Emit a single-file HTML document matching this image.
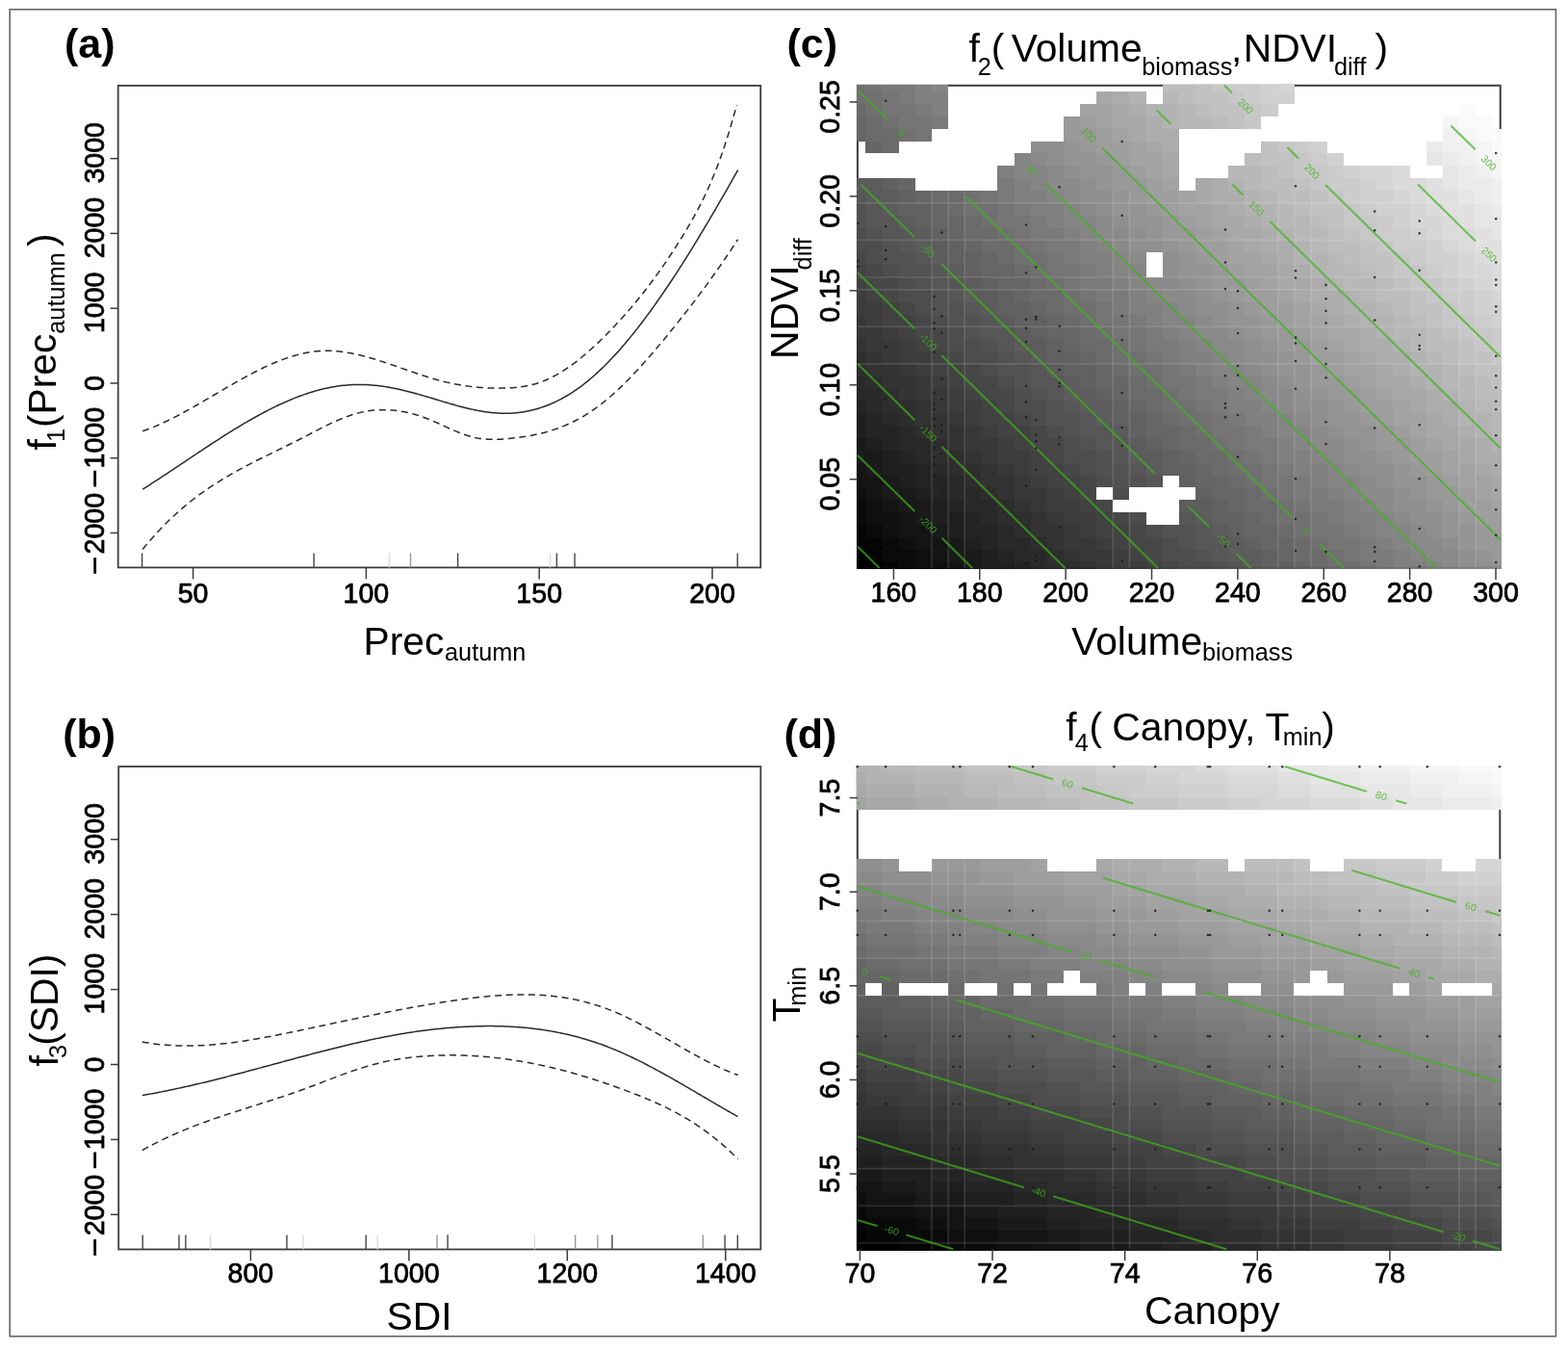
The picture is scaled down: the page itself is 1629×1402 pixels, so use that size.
<!DOCTYPE html><html><head><meta charset="utf-8"><title>GAM partial effects</title><style>html,body{margin:0;padding:0;background:#fff;overflow:hidden}svg{display:block}text{font-family:"Liberation Sans", Arial, Helvetica, sans-serif;fill:#000}.tk{stroke:#000;stroke-width:0.75px}</style></head><body>
<svg width="1629" height="1402" viewBox="0 0 1629 1402">
<rect width="1629" height="1402" fill="#fff"/>
<rect x="10.2" y="9.8" width="1606.2" height="1378" fill="none" stroke="#666" stroke-width="1.6"/>
<rect x="122.7" y="88.9" width="667.5" height="500.5" fill="none" stroke="#3c3c3c" stroke-width="1.8"/>
<line x1="114.5" y1="553.47" x2="122.7" y2="553.47" stroke="#3c3c3c" stroke-width="1.5"/>
<text transform="translate(108,543.67) rotate(-90)" text-anchor="middle" class="tk" font-size="28.6">2000</text>
<text transform="translate(108,587.17) rotate(-90) scale(1.15,1)" text-anchor="middle" class="tk" font-size="28.6">−</text>
<line x1="114.5" y1="475.71" x2="122.7" y2="475.71" stroke="#3c3c3c" stroke-width="1.5"/>
<text transform="translate(108,454.71) rotate(-90)" text-anchor="middle" class="tk" font-size="28.6">1000</text>
<text transform="translate(108,497.01) rotate(-90) scale(1.15,1)" text-anchor="middle" class="tk" font-size="28.6">−</text>
<line x1="114.5" y1="397.95" x2="122.7" y2="397.95" stroke="#3c3c3c" stroke-width="1.5"/>
<text transform="translate(108,397.95) rotate(-90)" text-anchor="middle" class="tk" font-size="28.6">0</text>
<line x1="114.5" y1="320.19" x2="122.7" y2="320.19" stroke="#3c3c3c" stroke-width="1.5"/>
<text transform="translate(108,314.29) rotate(-90)" text-anchor="middle" class="tk" font-size="28.6">1000</text>
<line x1="114.5" y1="242.43" x2="122.7" y2="242.43" stroke="#3c3c3c" stroke-width="1.5"/>
<text transform="translate(108,236.53) rotate(-90)" text-anchor="middle" class="tk" font-size="28.6">2000</text>
<line x1="114.5" y1="164.67" x2="122.7" y2="164.67" stroke="#3c3c3c" stroke-width="1.5"/>
<text transform="translate(108,158.77) rotate(-90)" text-anchor="middle" class="tk" font-size="28.6">3000</text>
<line x1="200.6" y1="589.4" x2="200.6" y2="601.4" stroke="#3c3c3c" stroke-width="1.5"/>
<text x="200.6" y="625.7" text-anchor="middle" class="tk" font-size="28.6">50</text>
<line x1="380.4" y1="589.4" x2="380.4" y2="601.4" stroke="#3c3c3c" stroke-width="1.5"/>
<text x="380.4" y="625.7" text-anchor="middle" class="tk" font-size="28.6">100</text>
<line x1="560.2" y1="589.4" x2="560.2" y2="601.4" stroke="#3c3c3c" stroke-width="1.5"/>
<text x="560.2" y="625.7" text-anchor="middle" class="tk" font-size="28.6">150</text>
<line x1="740" y1="589.4" x2="740" y2="601.4" stroke="#3c3c3c" stroke-width="1.5"/>
<text x="740" y="625.7" text-anchor="middle" class="tk" font-size="28.6">200</text>
<line x1="147.6" y1="589.4" x2="147.6" y2="574.4" stroke="#444" stroke-width="1.4"/>
<line x1="326.1" y1="589.4" x2="326.1" y2="574.4" stroke="#444" stroke-width="1.4"/>
<line x1="404.4" y1="589.4" x2="404.4" y2="574.4" stroke="#dcdcdc" stroke-width="1.4"/>
<line x1="426.5" y1="589.4" x2="426.5" y2="574.4" stroke="#9a9a9a" stroke-width="1.4"/>
<line x1="475.6" y1="589.4" x2="475.6" y2="574.4" stroke="#444" stroke-width="1.4"/>
<line x1="571.6" y1="589.4" x2="571.6" y2="574.4" stroke="#dcdcdc" stroke-width="1.4"/>
<line x1="578.4" y1="589.4" x2="578.4" y2="574.4" stroke="#444" stroke-width="1.4"/>
<line x1="597.1" y1="589.4" x2="597.1" y2="574.4" stroke="#444" stroke-width="1.4"/>
<line x1="766.2" y1="589.4" x2="766.2" y2="574.4" stroke="#444" stroke-width="1.4"/>
<path d="M148.2,508.09 L150.2,506.83 L152.2,505.56 L154.2,504.29 L156.21,503.01 L158.21,501.72 L160.21,500.43 L162.21,499.13 L164.21,497.83 L166.21,496.52 L168.21,495.21 L170.21,493.9 L172.22,492.58 L174.22,491.26 L176.22,489.93 L178.22,488.61 L180.22,487.28 L182.22,485.94 L184.22,484.61 L186.22,483.27 L188.23,481.94 L190.23,480.6 L192.23,479.26 L194.23,477.93 L196.23,476.59 L198.23,475.25 L200.23,473.92 L202.23,472.59 L204.24,471.25 L206.24,469.92 L208.24,468.6 L210.24,467.27 L212.24,465.95 L214.24,464.63 L216.24,463.31 L218.25,462 L220.25,460.7 L222.25,459.39 L224.25,458.1 L226.25,456.81 L228.25,455.52 L230.25,454.24 L232.25,452.97 L234.26,451.7 L236.26,450.44 L238.26,449.19 L240.26,447.94 L242.26,446.71 L244.26,445.48 L246.26,444.26 L248.26,443.05 L250.27,441.85 L252.27,440.65 L254.27,439.47 L256.27,438.3 L258.27,437.14 L260.27,435.99 L262.27,434.85 L264.28,433.73 L266.28,432.61 L268.28,431.51 L270.28,430.42 L272.28,429.34 L274.28,428.28 L276.28,427.23 L278.28,426.2 L280.29,425.18 L282.29,424.17 L284.29,423.18 L286.29,422.2 L288.29,421.24 L290.29,420.3 L292.29,419.37 L294.29,418.46 L296.3,417.57 L298.3,416.69 L300.3,415.83 L302.3,414.99 L304.3,414.17 L306.3,413.37 L308.3,412.58 L310.3,411.82 L312.31,411.07 L314.31,410.35 L316.31,409.64 L318.31,408.96 L320.31,408.3 L322.31,407.66 L324.31,407.04 L326.32,406.44 L328.32,405.86 L330.32,405.31 L332.32,404.78 L334.32,404.28 L336.32,403.79 L338.32,403.34 L340.32,402.9 L342.33,402.49 L344.33,402.11 L346.33,401.75 L348.33,401.42 L350.33,401.11 L352.33,400.83 L354.33,400.58 L356.33,400.35 L358.34,400.15 L360.34,399.98 L362.34,399.83 L364.34,399.71 L366.34,399.61 L368.34,399.54 L370.34,399.49 L372.34,399.47 L374.35,399.47 L376.35,399.5 L378.35,399.55 L380.35,399.62 L382.35,399.72 L384.35,399.84 L386.35,399.99 L388.36,400.15 L390.36,400.34 L392.36,400.55 L394.36,400.79 L396.36,401.04 L398.36,401.32 L400.36,401.62 L402.36,401.94 L404.37,402.28 L406.37,402.64 L408.37,403.02 L410.37,403.42 L412.37,403.83 L414.37,404.27 L416.37,404.72 L418.37,405.18 L420.38,405.66 L422.38,406.16 L424.38,406.66 L426.38,407.18 L428.38,407.72 L430.38,408.26 L432.38,408.81 L434.39,409.37 L436.39,409.94 L438.39,410.52 L440.39,411.1 L442.39,411.69 L444.39,412.28 L446.39,412.88 L448.39,413.48 L450.4,414.09 L452.4,414.69 L454.4,415.29 L456.4,415.9 L458.4,416.5 L460.4,417.1 L462.4,417.7 L464.4,418.29 L466.41,418.87 L468.41,419.45 L470.41,420.03 L472.41,420.59 L474.41,421.15 L476.41,421.69 L478.41,422.22 L480.41,422.75 L482.42,423.25 L484.42,423.75 L486.42,424.23 L488.42,424.69 L490.42,425.14 L492.42,425.57 L494.42,425.98 L496.43,426.37 L498.43,426.74 L500.43,427.09 L502.43,427.42 L504.43,427.73 L506.43,428.01 L508.43,428.26 L510.43,428.49 L512.44,428.69 L514.44,428.86 L516.44,429.01 L518.44,429.12 L520.44,429.21 L522.44,429.26 L524.44,429.28 L526.44,429.26 L528.45,429.22 L530.45,429.14 L532.45,429.03 L534.45,428.88 L536.45,428.7 L538.45,428.49 L540.45,428.24 L542.46,427.96 L544.46,427.64 L546.46,427.28 L548.46,426.89 L550.46,426.47 L552.46,426.01 L554.46,425.51 L556.46,424.98 L558.47,424.41 L560.47,423.8 L562.47,423.16 L564.47,422.47 L566.47,421.75 L568.47,421 L570.47,420.2 L572.47,419.36 L574.48,418.49 L576.48,417.58 L578.48,416.62 L580.48,415.63 L582.48,414.6 L584.48,413.53 L586.48,412.41 L588.48,411.26 L590.49,410.06 L592.49,408.83 L594.49,407.55 L596.49,406.23 L598.49,404.87 L600.49,403.46 L602.49,402.02 L604.5,400.53 L606.5,399 L608.5,397.42 L610.5,395.81 L612.5,394.15 L614.5,392.45 L616.5,390.72 L618.5,388.94 L620.51,387.12 L622.51,385.27 L624.51,383.37 L626.51,381.44 L628.51,379.47 L630.51,377.46 L632.51,375.42 L634.51,373.33 L636.52,371.22 L638.52,369.06 L640.52,366.88 L642.52,364.65 L644.52,362.4 L646.52,360.1 L648.52,357.78 L650.52,355.42 L652.53,353.03 L654.53,350.61 L656.53,348.15 L658.53,345.67 L660.53,343.15 L662.53,340.6 L664.53,338.02 L666.54,335.42 L668.54,332.78 L670.54,330.11 L672.54,327.42 L674.54,324.7 L676.54,321.95 L678.54,319.17 L680.54,316.37 L682.55,313.54 L684.55,310.68 L686.55,307.8 L688.55,304.9 L690.55,301.97 L692.55,299.01 L694.55,296.03 L696.55,293.03 L698.56,290.01 L700.56,286.96 L702.56,283.89 L704.56,280.8 L706.56,277.69 L708.56,274.56 L710.56,271.4 L712.57,268.23 L714.57,265.04 L716.57,261.83 L718.57,258.6 L720.57,255.35 L722.57,252.09 L724.57,248.8 L726.57,245.5 L728.58,242.19 L730.58,238.85 L732.58,235.5 L734.58,232.14 L736.58,228.76 L738.58,225.37 L740.58,221.96 L742.58,218.54 L744.59,215.11 L746.59,211.67 L748.59,208.21 L750.59,204.74 L752.59,201.26 L754.59,197.76 L756.59,194.26 L758.59,190.75 L760.6,187.23 L762.6,183.69 L764.6,180.15 L766.6,176.6" fill="none" stroke="#2a2a2a" stroke-width="1.5" stroke-linejoin="round"/>
<path d="M148.2,447.71 L150.2,447.02 L152.21,446.29 L154.21,445.55 L156.21,444.77 L158.22,443.98 L160.22,443.16 L162.22,442.32 L164.23,441.45 L166.23,440.57 L168.24,439.67 L170.24,438.74 L172.24,437.8 L174.25,436.84 L176.25,435.87 L178.25,434.87 L180.26,433.86 L182.26,432.84 L184.26,431.8 L186.27,430.75 L188.27,429.68 L190.27,428.6 L192.28,427.51 L194.28,426.41 L196.29,425.3 L198.29,424.18 L200.29,423.05 L202.3,421.91 L204.3,420.77 L206.3,419.62 L208.31,418.46 L210.31,417.3 L212.31,416.13 L214.32,414.96 L216.32,413.78 L218.32,412.61 L220.33,411.43 L222.33,410.25 L224.34,409.07 L226.34,407.89 L228.34,406.71 L230.35,405.54 L232.35,404.36 L234.35,403.19 L236.36,402.02 L238.36,400.86 L240.36,399.71 L242.37,398.56 L244.37,397.41 L246.37,396.27 L248.38,395.15 L250.38,394.03 L252.39,392.92 L254.39,391.82 L256.39,390.73 L258.4,389.65 L260.4,388.59 L262.4,387.54 L264.41,386.5 L266.41,385.48 L268.41,384.47 L270.42,383.48 L272.42,382.5 L274.42,381.55 L276.43,380.61 L278.43,379.69 L280.44,378.78 L282.44,377.9 L284.44,377.04 L286.45,376.2 L288.45,375.39 L290.45,374.6 L292.46,373.83 L294.46,373.08 L296.46,372.36 L298.47,371.67 L300.47,371 L302.47,370.36 L304.48,369.75 L306.48,369.17 L308.49,368.61 L310.49,368.09 L312.49,367.6 L314.5,367.14 L316.5,366.71 L318.5,366.31 L320.51,365.95 L322.51,365.62 L324.51,365.33 L326.52,365.07 L328.52,364.85 L330.52,364.67 L332.53,364.52 L334.53,364.41 L336.54,364.34 L338.54,364.31 L340.54,364.32 L342.55,364.35 L344.55,364.43 L346.55,364.53 L348.56,364.67 L350.56,364.84 L352.56,365.04 L354.57,365.27 L356.57,365.53 L358.57,365.82 L360.58,366.13 L362.58,366.47 L364.59,366.83 L366.59,367.22 L368.59,367.63 L370.6,368.07 L372.6,368.53 L374.6,369 L376.61,369.5 L378.61,370.01 L380.61,370.55 L382.62,371.1 L384.62,371.66 L386.62,372.24 L388.63,372.84 L390.63,373.45 L392.64,374.07 L394.64,374.7 L396.64,375.35 L398.65,376 L400.65,376.66 L402.65,377.33 L404.66,378.01 L406.66,378.7 L408.66,379.38 L410.67,380.08 L412.67,380.77 L414.67,381.47 L416.68,382.17 L418.68,382.88 L420.69,383.58 L422.69,384.28 L424.69,384.98 L426.7,385.67 L428.7,386.36 L430.7,387.05 L432.71,387.73 L434.71,388.41 L436.71,389.07 L438.72,389.73 L440.72,390.38 L442.72,391.02 L444.73,391.65 L446.73,392.27 L448.74,392.87 L450.74,393.46 L452.74,394.04 L454.75,394.6 L456.75,395.15 L458.75,395.67 L460.76,396.18 L462.76,396.67 L464.76,397.14 L466.77,397.59 L468.77,398.03 L470.77,398.44 L472.78,398.84 L474.78,399.22 L476.79,399.58 L478.79,399.92 L480.79,400.25 L482.8,400.56 L484.8,400.85 L486.8,401.12 L488.81,401.37 L490.81,401.61 L492.81,401.83 L494.82,402.03 L496.82,402.21 L498.82,402.38 L500.83,402.53 L502.83,402.67 L504.84,402.78 L506.84,402.88 L508.84,402.97 L510.85,403.03 L512.85,403.09 L514.85,403.12 L516.86,403.14 L518.86,403.14 L520.86,403.12 L522.87,403.09 L524.87,403.05 L526.87,402.98 L528.88,402.89 L530.88,402.78 L532.89,402.64 L534.89,402.48 L536.89,402.29 L538.9,402.07 L540.9,401.82 L542.9,401.53 L544.91,401.21 L546.91,400.85 L548.91,400.45 L550.92,400.01 L552.92,399.53 L554.92,399 L556.93,398.43 L558.93,397.81 L560.94,397.14 L562.94,396.42 L564.94,395.64 L566.95,394.81 L568.95,393.94 L570.95,393.01 L572.96,392.03 L574.96,391.01 L576.96,389.94 L578.97,388.82 L580.97,387.65 L582.97,386.45 L584.98,385.19 L586.98,383.9 L588.99,382.56 L590.99,381.19 L592.99,379.77 L595,378.31 L597,376.81 L599,375.28 L601.01,373.71 L603.01,372.1 L605.01,370.46 L607.02,368.78 L609.02,367.08 L611.02,365.33 L613.03,363.56 L615.03,361.76 L617.04,359.92 L619.04,358.06 L621.04,356.17 L623.05,354.25 L625.05,352.31 L627.05,350.34 L629.06,348.34 L631.06,346.32 L633.06,344.28 L635.07,342.21 L637.07,340.12 L639.07,338 L641.08,335.86 L643.08,333.7 L645.09,331.5 L647.09,329.28 L649.09,327.03 L651.1,324.76 L653.1,322.46 L655.1,320.13 L657.11,317.77 L659.11,315.38 L661.11,312.96 L663.12,310.52 L665.12,308.04 L667.12,305.53 L669.13,302.99 L671.13,300.42 L673.14,297.82 L675.14,295.19 L677.14,292.52 L679.15,289.82 L681.15,287.09 L683.15,284.32 L685.16,281.52 L687.16,278.68 L689.16,275.81 L691.17,272.91 L693.17,269.96 L695.17,266.99 L697.18,263.97 L699.18,260.92 L701.19,257.83 L703.19,254.7 L705.19,251.54 L707.2,248.34 L709.2,245.09 L711.2,241.81 L713.21,238.49 L715.21,235.11 L717.21,231.68 L719.22,228.19 L721.22,224.61 L723.22,220.96 L725.23,217.21 L727.23,213.35 L729.24,209.39 L731.24,205.31 L733.24,201.1 L735.25,196.75 L737.25,192.26 L739.25,187.61 L741.26,182.8 L743.26,177.81 L745.26,172.64 L747.27,167.29 L749.27,161.73 L751.27,155.97 L753.28,149.99 L755.28,143.79 L757.29,137.35 L759.29,130.67 L761.29,123.74 L763.3,116.54 L765.3,109.08" fill="none" stroke="#2a2a2a" stroke-width="1.5" stroke-dasharray="7,4.6" stroke-linejoin="round"/>
<path d="M148.2,570.49 L150.2,568.04 L152.2,565.63 L154.2,563.26 L156.21,560.94 L158.21,558.65 L160.21,556.41 L162.21,554.2 L164.21,552.04 L166.21,549.91 L168.21,547.82 L170.21,545.77 L172.22,543.75 L174.22,541.77 L176.22,539.83 L178.22,537.91 L180.22,536.04 L182.22,534.19 L184.22,532.38 L186.22,530.6 L188.23,528.86 L190.23,527.14 L192.23,525.45 L194.23,523.79 L196.23,522.17 L198.23,520.57 L200.23,518.99 L202.23,517.45 L204.24,515.93 L206.24,514.43 L208.24,512.97 L210.24,511.52 L212.24,510.1 L214.24,508.71 L216.24,507.33 L218.25,505.98 L220.25,504.65 L222.25,503.34 L224.25,502.05 L226.25,500.78 L228.25,499.53 L230.25,498.29 L232.25,497.08 L234.26,495.88 L236.26,494.7 L238.26,493.53 L240.26,492.38 L242.26,491.24 L244.26,490.12 L246.26,489.01 L248.26,487.91 L250.27,486.83 L252.27,485.76 L254.27,484.69 L256.27,483.64 L258.27,482.6 L260.27,481.56 L262.27,480.54 L264.28,479.52 L266.28,478.51 L268.28,477.5 L270.28,476.5 L272.28,475.51 L274.28,474.52 L276.28,473.53 L278.28,472.55 L280.29,471.57 L282.29,470.59 L284.29,469.61 L286.29,468.64 L288.29,467.66 L290.29,466.68 L292.29,465.71 L294.29,464.73 L296.3,463.75 L298.3,462.76 L300.3,461.77 L302.3,460.78 L304.3,459.78 L306.3,458.78 L308.3,457.77 L310.3,456.75 L312.31,455.73 L314.31,454.7 L316.31,453.66 L318.31,452.62 L320.31,451.58 L322.31,450.53 L324.31,449.48 L326.32,448.44 L328.32,447.4 L330.32,446.36 L332.32,445.34 L334.32,444.32 L336.32,443.31 L338.32,442.31 L340.32,441.33 L342.33,440.36 L344.33,439.42 L346.33,438.48 L348.33,437.57 L350.33,436.69 L352.33,435.82 L354.33,434.98 L356.33,434.17 L358.34,433.39 L360.34,432.64 L362.34,431.92 L364.34,431.23 L366.34,430.58 L368.34,429.97 L370.34,429.4 L372.34,428.86 L374.35,428.37 L376.35,427.93 L378.35,427.52 L380.35,427.16 L382.35,426.83 L384.35,426.55 L386.35,426.31 L388.36,426.1 L390.36,425.94 L392.36,425.81 L394.36,425.72 L396.36,425.67 L398.36,425.65 L400.36,425.67 L402.36,425.73 L404.37,425.82 L406.37,425.94 L408.37,426.1 L410.37,426.3 L412.37,426.53 L414.37,426.79 L416.37,427.09 L418.37,427.43 L420.38,427.8 L422.38,428.21 L424.38,428.65 L426.38,429.13 L428.38,429.64 L430.38,430.19 L432.38,430.77 L434.39,431.39 L436.39,432.04 L438.39,432.73 L440.39,433.45 L442.39,434.2 L444.39,434.99 L446.39,435.81 L448.39,436.65 L450.4,437.5 L452.4,438.38 L454.4,439.27 L456.4,440.17 L458.4,441.08 L460.4,441.99 L462.4,442.9 L464.4,443.81 L466.41,444.71 L468.41,445.6 L470.41,446.48 L472.41,447.34 L474.41,448.17 L476.41,448.99 L478.41,449.78 L480.41,450.53 L482.42,451.25 L484.42,451.94 L486.42,452.58 L488.42,453.18 L490.42,453.73 L492.42,454.23 L494.42,454.67 L496.43,455.06 L498.43,455.39 L500.43,455.66 L502.43,455.89 L504.43,456.07 L506.43,456.21 L508.43,456.3 L510.43,456.36 L512.44,456.38 L514.44,456.36 L516.44,456.31 L518.44,456.23 L520.44,456.13 L522.44,456 L524.44,455.85 L526.44,455.68 L528.45,455.5 L530.45,455.3 L532.45,455.09 L534.45,454.87 L536.45,454.63 L538.45,454.37 L540.45,454.11 L542.46,453.82 L544.46,453.52 L546.46,453.2 L548.46,452.87 L550.46,452.51 L552.46,452.14 L554.46,451.74 L556.46,451.33 L558.47,450.89 L560.47,450.43 L562.47,449.95 L564.47,449.44 L566.47,448.91 L568.47,448.35 L570.47,447.77 L572.47,447.16 L574.48,446.52 L576.48,445.86 L578.48,445.17 L580.48,444.45 L582.48,443.69 L584.48,442.91 L586.48,442.1 L588.48,441.25 L590.49,440.37 L592.49,439.46 L594.49,438.51 L596.49,437.53 L598.49,436.51 L600.49,435.45 L602.49,434.36 L604.5,433.23 L606.5,432.07 L608.5,430.86 L610.5,429.61 L612.5,428.32 L614.5,427 L616.5,425.62 L618.5,424.21 L620.51,422.76 L622.51,421.26 L624.51,419.72 L626.51,418.15 L628.51,416.54 L630.51,414.88 L632.51,413.2 L634.51,411.47 L636.52,409.71 L638.52,407.92 L640.52,406.09 L642.52,404.22 L644.52,402.33 L646.52,400.4 L648.52,398.45 L650.52,396.46 L652.53,394.45 L654.53,392.4 L656.53,390.33 L658.53,388.23 L660.53,386.11 L662.53,383.96 L664.53,381.78 L666.54,379.59 L668.54,377.37 L670.54,375.12 L672.54,372.86 L674.54,370.57 L676.54,368.27 L678.54,365.95 L680.54,363.6 L682.55,361.25 L684.55,358.87 L686.55,356.48 L688.55,354.07 L690.55,351.65 L692.55,349.22 L694.55,346.77 L696.55,344.31 L698.56,341.84 L700.56,339.36 L702.56,336.87 L704.56,334.36 L706.56,331.84 L708.56,329.32 L710.56,326.77 L712.57,324.22 L714.57,321.65 L716.57,319.06 L718.57,316.47 L720.57,313.85 L722.57,311.22 L724.57,308.58 L726.57,305.92 L728.58,303.24 L730.58,300.55 L732.58,297.84 L734.58,295.11 L736.58,292.36 L738.58,289.6 L740.58,286.81 L742.58,284.01 L744.59,281.18 L746.59,278.34 L748.59,275.48 L750.59,272.59 L752.59,269.68 L754.59,266.76 L756.59,263.8 L758.59,260.83 L760.6,257.84 L762.6,254.82 L764.6,251.77 L766.6,248.71" fill="none" stroke="#2a2a2a" stroke-width="1.5" stroke-dasharray="7,4.6" stroke-linejoin="round"/>
<rect x="123.2" y="796.1" width="667.1" height="501.4" fill="none" stroke="#3c3c3c" stroke-width="1.8"/>
<line x1="115" y1="1261.35" x2="123.2" y2="1261.35" stroke="#3c3c3c" stroke-width="1.5"/>
<text transform="translate(108,1251.55) rotate(-90)" text-anchor="middle" class="tk" font-size="28.6">2000</text>
<text transform="translate(108,1295.05) rotate(-90) scale(1.15,1)" text-anchor="middle" class="tk" font-size="28.6">−</text>
<line x1="115" y1="1183.43" x2="123.2" y2="1183.43" stroke="#3c3c3c" stroke-width="1.5"/>
<text transform="translate(108,1162.43) rotate(-90)" text-anchor="middle" class="tk" font-size="28.6">1000</text>
<text transform="translate(108,1204.73) rotate(-90) scale(1.15,1)" text-anchor="middle" class="tk" font-size="28.6">−</text>
<line x1="115" y1="1105.51" x2="123.2" y2="1105.51" stroke="#3c3c3c" stroke-width="1.5"/>
<text transform="translate(108,1105.51) rotate(-90)" text-anchor="middle" class="tk" font-size="28.6">0</text>
<line x1="115" y1="1027.59" x2="123.2" y2="1027.59" stroke="#3c3c3c" stroke-width="1.5"/>
<text transform="translate(108,1021.69) rotate(-90)" text-anchor="middle" class="tk" font-size="28.6">1000</text>
<line x1="115" y1="949.67" x2="123.2" y2="949.67" stroke="#3c3c3c" stroke-width="1.5"/>
<text transform="translate(108,943.77) rotate(-90)" text-anchor="middle" class="tk" font-size="28.6">2000</text>
<line x1="115" y1="871.75" x2="123.2" y2="871.75" stroke="#3c3c3c" stroke-width="1.5"/>
<text transform="translate(108,865.85) rotate(-90)" text-anchor="middle" class="tk" font-size="28.6">3000</text>
<line x1="260.41" y1="1297.5" x2="260.41" y2="1309.5" stroke="#3c3c3c" stroke-width="1.5"/>
<text x="260.41" y="1332.4" text-anchor="middle" class="tk" font-size="28.6">800</text>
<line x1="424.87" y1="1297.5" x2="424.87" y2="1309.5" stroke="#3c3c3c" stroke-width="1.5"/>
<text x="424.87" y="1332.4" text-anchor="middle" class="tk" font-size="28.6">1000</text>
<line x1="589.33" y1="1297.5" x2="589.33" y2="1309.5" stroke="#3c3c3c" stroke-width="1.5"/>
<text x="589.33" y="1332.4" text-anchor="middle" class="tk" font-size="28.6">1200</text>
<line x1="753.79" y1="1297.5" x2="753.79" y2="1309.5" stroke="#3c3c3c" stroke-width="1.5"/>
<text x="753.79" y="1332.4" text-anchor="middle" class="tk" font-size="28.6">1400</text>
<line x1="148.2" y1="1297.5" x2="148.2" y2="1282.5" stroke="#444" stroke-width="1.4"/>
<line x1="186" y1="1297.5" x2="186" y2="1282.5" stroke="#444" stroke-width="1.4"/>
<line x1="192.9" y1="1297.5" x2="192.9" y2="1282.5" stroke="#444" stroke-width="1.4"/>
<line x1="218.6" y1="1297.5" x2="218.6" y2="1282.5" stroke="#dcdcdc" stroke-width="1.4"/>
<line x1="298" y1="1297.5" x2="298" y2="1282.5" stroke="#444" stroke-width="1.4"/>
<line x1="315" y1="1297.5" x2="315" y2="1282.5" stroke="#dcdcdc" stroke-width="1.4"/>
<line x1="380.2" y1="1297.5" x2="380.2" y2="1282.5" stroke="#444" stroke-width="1.4"/>
<line x1="392.2" y1="1297.5" x2="392.2" y2="1282.5" stroke="#dcdcdc" stroke-width="1.4"/>
<line x1="454" y1="1297.5" x2="454" y2="1282.5" stroke="#9a9a9a" stroke-width="1.4"/>
<line x1="465.1" y1="1297.5" x2="465.1" y2="1282.5" stroke="#444" stroke-width="1.4"/>
<line x1="555.4" y1="1297.5" x2="555.4" y2="1282.5" stroke="#dcdcdc" stroke-width="1.4"/>
<line x1="597.7" y1="1297.5" x2="597.7" y2="1282.5" stroke="#9a9a9a" stroke-width="1.4"/>
<line x1="620.9" y1="1297.5" x2="620.9" y2="1282.5" stroke="#9a9a9a" stroke-width="1.4"/>
<line x1="636" y1="1297.5" x2="636" y2="1282.5" stroke="#444" stroke-width="1.4"/>
<line x1="730.3" y1="1297.5" x2="730.3" y2="1282.5" stroke="#9a9a9a" stroke-width="1.4"/>
<line x1="753.1" y1="1297.5" x2="753.1" y2="1282.5" stroke="#444" stroke-width="1.4"/>
<line x1="766.3" y1="1297.5" x2="766.3" y2="1282.5" stroke="#444" stroke-width="1.4"/>
<path d="M147.8,1137.53 L149.8,1137.19 L151.81,1136.84 L153.81,1136.49 L155.81,1136.13 L157.81,1135.77 L159.82,1135.4 L161.82,1135.03 L163.82,1134.65 L165.82,1134.26 L167.83,1133.87 L169.83,1133.48 L171.83,1133.08 L173.83,1132.67 L175.84,1132.26 L177.84,1131.85 L179.84,1131.43 L181.84,1131 L183.85,1130.58 L185.85,1130.14 L187.85,1129.71 L189.85,1129.26 L191.86,1128.82 L193.86,1128.37 L195.86,1127.91 L197.86,1127.46 L199.87,1126.99 L201.87,1126.53 L203.87,1126.06 L205.88,1125.59 L207.88,1125.11 L209.88,1124.63 L211.88,1124.15 L213.89,1123.66 L215.89,1123.17 L217.89,1122.68 L219.89,1122.19 L221.9,1121.69 L223.9,1121.19 L225.9,1120.68 L227.9,1120.18 L229.91,1119.67 L231.91,1119.16 L233.91,1118.65 L235.91,1118.13 L237.92,1117.61 L239.92,1117.09 L241.92,1116.57 L243.92,1116.05 L245.93,1115.52 L247.93,1115 L249.93,1114.47 L251.93,1113.94 L253.94,1113.41 L255.94,1112.87 L257.94,1112.34 L259.94,1111.8 L261.95,1111.27 L263.95,1110.73 L265.95,1110.19 L267.96,1109.65 L269.96,1109.11 L271.96,1108.57 L273.96,1108.03 L275.97,1107.49 L277.97,1106.95 L279.97,1106.41 L281.97,1105.87 L283.98,1105.33 L285.98,1104.78 L287.98,1104.24 L289.98,1103.7 L291.99,1103.16 L293.99,1102.62 L295.99,1102.07 L297.99,1101.53 L300,1100.99 L302,1100.46 L304,1099.92 L306,1099.38 L308.01,1098.84 L310.01,1098.31 L312.01,1097.77 L314.01,1097.24 L316.02,1096.71 L318.02,1096.18 L320.02,1095.65 L322.03,1095.12 L324.03,1094.6 L326.03,1094.07 L328.03,1093.55 L330.04,1093.03 L332.04,1092.51 L334.04,1092 L336.04,1091.48 L338.05,1090.97 L340.05,1090.46 L342.05,1089.96 L344.05,1089.45 L346.06,1088.95 L348.06,1088.45 L350.06,1087.96 L352.06,1087.46 L354.07,1086.97 L356.07,1086.49 L358.07,1086 L360.07,1085.52 L362.08,1085.05 L364.08,1084.57 L366.08,1084.1 L368.08,1083.64 L370.09,1083.18 L372.09,1082.72 L374.09,1082.26 L376.1,1081.81 L378.1,1081.37 L380.1,1080.93 L382.1,1080.49 L384.11,1080.06 L386.11,1079.63 L388.11,1079.21 L390.11,1078.79 L392.12,1078.38 L394.12,1077.97 L396.12,1077.57 L398.12,1077.17 L400.13,1076.78 L402.13,1076.39 L404.13,1076.01 L406.13,1075.64 L408.14,1075.27 L410.14,1074.9 L412.14,1074.55 L414.14,1074.2 L416.15,1073.85 L418.15,1073.51 L420.15,1073.18 L422.15,1072.86 L424.16,1072.54 L426.16,1072.23 L428.16,1071.92 L430.17,1071.62 L432.17,1071.33 L434.17,1071.05 L436.17,1070.77 L438.18,1070.5 L440.18,1070.24 L442.18,1069.98 L444.18,1069.73 L446.19,1069.49 L448.19,1069.26 L450.19,1069.03 L452.19,1068.8 L454.2,1068.59 L456.2,1068.38 L458.2,1068.18 L460.2,1067.99 L462.21,1067.8 L464.21,1067.62 L466.21,1067.45 L468.21,1067.29 L470.22,1067.13 L472.22,1066.98 L474.22,1066.83 L476.22,1066.7 L478.23,1066.57 L480.23,1066.45 L482.23,1066.33 L484.23,1066.22 L486.24,1066.13 L488.24,1066.04 L490.24,1065.95 L492.25,1065.88 L494.25,1065.81 L496.25,1065.75 L498.25,1065.71 L500.26,1065.66 L502.26,1065.63 L504.26,1065.61 L506.26,1065.6 L508.27,1065.59 L510.27,1065.59 L512.27,1065.61 L514.27,1065.63 L516.28,1065.66 L518.28,1065.7 L520.28,1065.76 L522.28,1065.82 L524.29,1065.89 L526.29,1065.97 L528.29,1066.06 L530.29,1066.16 L532.3,1066.27 L534.3,1066.4 L536.3,1066.53 L538.3,1066.67 L540.31,1066.83 L542.31,1066.99 L544.31,1067.17 L546.32,1067.36 L548.32,1067.56 L550.32,1067.77 L552.32,1067.99 L554.33,1068.22 L556.33,1068.47 L558.33,1068.73 L560.33,1069 L562.34,1069.28 L564.34,1069.57 L566.34,1069.88 L568.34,1070.19 L570.35,1070.52 L572.35,1070.87 L574.35,1071.22 L576.35,1071.59 L578.36,1071.97 L580.36,1072.37 L582.36,1072.78 L584.36,1073.2 L586.37,1073.63 L588.37,1074.08 L590.37,1074.54 L592.37,1075.02 L594.38,1075.51 L596.38,1076.01 L598.38,1076.53 L600.39,1077.06 L602.39,1077.6 L604.39,1078.16 L606.39,1078.74 L608.4,1079.33 L610.4,1079.93 L612.4,1080.55 L614.4,1081.18 L616.41,1081.83 L618.41,1082.49 L620.41,1083.17 L622.41,1083.87 L624.42,1084.58 L626.42,1085.3 L628.42,1086.05 L630.42,1086.8 L632.43,1087.58 L634.43,1088.37 L636.43,1089.17 L638.43,1089.99 L640.44,1090.83 L642.44,1091.68 L644.44,1092.54 L646.44,1093.42 L648.45,1094.32 L650.45,1095.23 L652.45,1096.15 L654.46,1097.08 L656.46,1098.03 L658.46,1098.99 L660.46,1099.96 L662.47,1100.94 L664.47,1101.93 L666.47,1102.94 L668.47,1103.95 L670.48,1104.98 L672.48,1106.01 L674.48,1107.06 L676.48,1108.11 L678.49,1109.17 L680.49,1110.24 L682.49,1111.32 L684.49,1112.41 L686.5,1113.51 L688.5,1114.61 L690.5,1115.72 L692.5,1116.83 L694.51,1117.96 L696.51,1119.08 L698.51,1120.22 L700.51,1121.36 L702.52,1122.5 L704.52,1123.65 L706.52,1124.8 L708.52,1125.96 L710.53,1127.12 L712.53,1128.28 L714.53,1129.45 L716.54,1130.62 L718.54,1131.79 L720.54,1132.96 L722.54,1134.13 L724.55,1135.31 L726.55,1136.49 L728.55,1137.66 L730.55,1138.84 L732.56,1140.02 L734.56,1141.19 L736.56,1142.37 L738.56,1143.54 L740.57,1144.72 L742.57,1145.89 L744.57,1147.06 L746.57,1148.23 L748.58,1149.39 L750.58,1150.55 L752.58,1151.71 L754.58,1152.86 L756.59,1154.01 L758.59,1155.16 L760.59,1156.3 L762.59,1157.43 L764.6,1158.56 L766.6,1159.69" fill="none" stroke="#2a2a2a" stroke-width="1.5" stroke-linejoin="round"/>
<path d="M147.8,1082.1 L149.8,1082.45 L151.81,1082.79 L153.81,1083.11 L155.81,1083.41 L157.81,1083.69 L159.82,1083.96 L161.82,1084.21 L163.82,1084.44 L165.82,1084.66 L167.83,1084.86 L169.83,1085.04 L171.83,1085.21 L173.83,1085.36 L175.84,1085.5 L177.84,1085.62 L179.84,1085.72 L181.84,1085.81 L183.85,1085.89 L185.85,1085.95 L187.85,1086 L189.85,1086.03 L191.86,1086.05 L193.86,1086.06 L195.86,1086.05 L197.86,1086.03 L199.87,1086 L201.87,1085.95 L203.87,1085.89 L205.88,1085.82 L207.88,1085.74 L209.88,1085.64 L211.88,1085.53 L213.89,1085.41 L215.89,1085.28 L217.89,1085.14 L219.89,1084.99 L221.9,1084.83 L223.9,1084.66 L225.9,1084.47 L227.9,1084.28 L229.91,1084.08 L231.91,1083.87 L233.91,1083.64 L235.91,1083.41 L237.92,1083.17 L239.92,1082.93 L241.92,1082.67 L243.92,1082.4 L245.93,1082.13 L247.93,1081.85 L249.93,1081.56 L251.93,1081.26 L253.94,1080.96 L255.94,1080.65 L257.94,1080.33 L259.94,1080.01 L261.95,1079.68 L263.95,1079.34 L265.95,1079 L267.96,1078.65 L269.96,1078.3 L271.96,1077.94 L273.96,1077.58 L275.97,1077.21 L277.97,1076.84 L279.97,1076.46 L281.97,1076.08 L283.98,1075.69 L285.98,1075.3 L287.98,1074.91 L289.98,1074.51 L291.99,1074.11 L293.99,1073.71 L295.99,1073.3 L297.99,1072.89 L300,1072.48 L302,1072.07 L304,1071.66 L306,1071.24 L308.01,1070.82 L310.01,1070.4 L312.01,1069.98 L314.01,1069.56 L316.02,1069.14 L318.02,1068.72 L320.02,1068.3 L322.03,1067.87 L324.03,1067.45 L326.03,1067.02 L328.03,1066.6 L330.04,1066.17 L332.04,1065.75 L334.04,1065.32 L336.04,1064.9 L338.05,1064.47 L340.05,1064.05 L342.05,1063.62 L344.05,1063.2 L346.06,1062.77 L348.06,1062.35 L350.06,1061.92 L352.06,1061.5 L354.07,1061.07 L356.07,1060.65 L358.07,1060.23 L360.07,1059.8 L362.08,1059.38 L364.08,1058.96 L366.08,1058.54 L368.08,1058.12 L370.09,1057.7 L372.09,1057.28 L374.09,1056.87 L376.1,1056.45 L378.1,1056.04 L380.1,1055.62 L382.1,1055.21 L384.11,1054.8 L386.11,1054.39 L388.11,1053.98 L390.11,1053.58 L392.12,1053.17 L394.12,1052.77 L396.12,1052.37 L398.12,1051.97 L400.13,1051.57 L402.13,1051.17 L404.13,1050.78 L406.13,1050.39 L408.14,1050 L410.14,1049.61 L412.14,1049.22 L414.14,1048.84 L416.15,1048.46 L418.15,1048.08 L420.15,1047.7 L422.15,1047.33 L424.16,1046.96 L426.16,1046.59 L428.16,1046.22 L430.17,1045.86 L432.17,1045.5 L434.17,1045.14 L436.17,1044.78 L438.18,1044.43 L440.18,1044.08 L442.18,1043.74 L444.18,1043.39 L446.19,1043.05 L448.19,1042.72 L450.19,1042.38 L452.19,1042.05 L454.2,1041.73 L456.2,1041.4 L458.2,1041.08 L460.2,1040.77 L462.21,1040.45 L464.21,1040.15 L466.21,1039.84 L468.21,1039.54 L470.22,1039.24 L472.22,1038.95 L474.22,1038.66 L476.22,1038.38 L478.23,1038.1 L480.23,1037.82 L482.23,1037.55 L484.23,1037.28 L486.24,1037.02 L488.24,1036.77 L490.24,1036.52 L492.25,1036.28 L494.25,1036.04 L496.25,1035.81 L498.25,1035.59 L500.26,1035.38 L502.26,1035.17 L504.26,1034.97 L506.26,1034.77 L508.27,1034.59 L510.27,1034.41 L512.27,1034.24 L514.27,1034.08 L516.28,1033.93 L518.28,1033.79 L520.28,1033.66 L522.28,1033.54 L524.29,1033.42 L526.29,1033.32 L528.29,1033.23 L530.29,1033.15 L532.3,1033.08 L534.3,1033.02 L536.3,1032.97 L538.3,1032.93 L540.31,1032.9 L542.31,1032.89 L544.31,1032.89 L546.32,1032.9 L548.32,1032.92 L550.32,1032.96 L552.32,1033.01 L554.33,1033.07 L556.33,1033.15 L558.33,1033.23 L560.33,1033.34 L562.34,1033.46 L564.34,1033.59 L566.34,1033.74 L568.34,1033.9 L570.35,1034.08 L572.35,1034.27 L574.35,1034.48 L576.35,1034.7 L578.36,1034.94 L580.36,1035.2 L582.36,1035.47 L584.36,1035.76 L586.37,1036.07 L588.37,1036.39 L590.37,1036.74 L592.37,1037.1 L594.38,1037.47 L596.38,1037.87 L598.38,1038.28 L600.39,1038.72 L602.39,1039.17 L604.39,1039.64 L606.39,1040.13 L608.4,1040.64 L610.4,1041.17 L612.4,1041.72 L614.4,1042.29 L616.41,1042.88 L618.41,1043.49 L620.41,1044.12 L622.41,1044.77 L624.42,1045.45 L626.42,1046.14 L628.42,1046.86 L630.42,1047.6 L632.43,1048.36 L634.43,1049.15 L636.43,1049.96 L638.43,1050.79 L640.44,1051.64 L642.44,1052.51 L644.44,1053.4 L646.44,1054.31 L648.45,1055.23 L650.45,1056.18 L652.45,1057.14 L654.46,1058.12 L656.46,1059.11 L658.46,1060.11 L660.46,1061.14 L662.47,1062.17 L664.47,1063.22 L666.47,1064.27 L668.47,1065.34 L670.48,1066.42 L672.48,1067.51 L674.48,1068.61 L676.48,1069.72 L678.49,1070.83 L680.49,1071.95 L682.49,1073.08 L684.49,1074.21 L686.5,1075.35 L688.5,1076.49 L690.5,1077.63 L692.5,1078.78 L694.51,1079.93 L696.51,1081.08 L698.51,1082.23 L700.51,1083.38 L702.52,1084.52 L704.52,1085.67 L706.52,1086.82 L708.52,1087.96 L710.53,1089.1 L712.53,1090.23 L714.53,1091.36 L716.54,1092.48 L718.54,1093.6 L720.54,1094.71 L722.54,1095.81 L724.55,1096.9 L726.55,1097.98 L728.55,1099.05 L730.55,1100.12 L732.56,1101.17 L734.56,1102.2 L736.56,1103.23 L738.56,1104.24 L740.57,1105.24 L742.57,1106.22 L744.57,1107.18 L746.57,1108.13 L748.58,1109.07 L750.58,1109.98 L752.58,1110.88 L754.58,1111.75 L756.59,1112.61 L758.59,1113.44 L760.59,1114.26 L762.59,1115.05 L764.6,1115.82 L766.6,1116.57" fill="none" stroke="#2a2a2a" stroke-width="1.5" stroke-dasharray="7,4.6" stroke-linejoin="round"/>
<path d="M147.8,1194.53 L149.8,1193.41 L151.81,1192.31 L153.81,1191.23 L155.81,1190.16 L157.81,1189.11 L159.82,1188.08 L161.82,1187.06 L163.82,1186.05 L165.82,1185.06 L167.83,1184.09 L169.83,1183.12 L171.83,1182.18 L173.83,1181.24 L175.84,1180.32 L177.84,1179.41 L179.84,1178.52 L181.84,1177.64 L183.85,1176.76 L185.85,1175.9 L187.85,1175.06 L189.85,1174.22 L191.86,1173.39 L193.86,1172.58 L195.86,1171.77 L197.86,1170.98 L199.87,1170.19 L201.87,1169.42 L203.87,1168.65 L205.88,1167.89 L207.88,1167.14 L209.88,1166.4 L211.88,1165.66 L213.89,1164.94 L215.89,1164.22 L217.89,1163.51 L219.89,1162.8 L221.9,1162.1 L223.9,1161.41 L225.9,1160.72 L227.9,1160.04 L229.91,1159.36 L231.91,1158.69 L233.91,1158.03 L235.91,1157.36 L237.92,1156.7 L239.92,1156.05 L241.92,1155.4 L243.92,1154.75 L245.93,1154.1 L247.93,1153.46 L249.93,1152.82 L251.93,1152.18 L253.94,1151.54 L255.94,1150.91 L257.94,1150.27 L259.94,1149.64 L261.95,1149.01 L263.95,1148.37 L265.95,1147.74 L267.96,1147.1 L269.96,1146.47 L271.96,1145.83 L273.96,1145.2 L275.97,1144.56 L277.97,1143.92 L279.97,1143.27 L281.97,1142.63 L283.98,1141.98 L285.98,1141.33 L287.98,1140.67 L289.98,1140.01 L291.99,1139.35 L293.99,1138.68 L295.99,1138.01 L297.99,1137.34 L300,1136.66 L302,1135.97 L304,1135.28 L306,1134.58 L308.01,1133.87 L310.01,1133.16 L312.01,1132.44 L314.01,1131.71 L316.02,1130.98 L318.02,1130.24 L320.02,1129.5 L322.03,1128.75 L324.03,1127.99 L326.03,1127.24 L328.03,1126.48 L330.04,1125.71 L332.04,1124.95 L334.04,1124.18 L336.04,1123.42 L338.05,1122.65 L340.05,1121.89 L342.05,1121.13 L344.05,1120.37 L346.06,1119.61 L348.06,1118.85 L350.06,1118.1 L352.06,1117.36 L354.07,1116.62 L356.07,1115.88 L358.07,1115.16 L360.07,1114.44 L362.08,1113.73 L364.08,1113.02 L366.08,1112.33 L368.08,1111.64 L370.09,1110.97 L372.09,1110.31 L374.09,1109.66 L376.1,1109.02 L378.1,1108.39 L380.1,1107.78 L382.1,1107.18 L384.11,1106.6 L386.11,1106.03 L388.11,1105.48 L390.11,1104.95 L392.12,1104.43 L394.12,1103.94 L396.12,1103.46 L398.12,1103 L400.13,1102.55 L402.13,1102.13 L404.13,1101.72 L406.13,1101.33 L408.14,1100.95 L410.14,1100.59 L412.14,1100.25 L414.14,1099.92 L416.15,1099.61 L418.15,1099.31 L420.15,1099.03 L422.15,1098.76 L424.16,1098.5 L426.16,1098.26 L428.16,1098.03 L430.17,1097.82 L432.17,1097.61 L434.17,1097.42 L436.17,1097.24 L438.18,1097.08 L440.18,1096.92 L442.18,1096.77 L444.18,1096.64 L446.19,1096.51 L448.19,1096.4 L450.19,1096.3 L452.19,1096.21 L454.2,1096.13 L456.2,1096.05 L458.2,1095.99 L460.2,1095.94 L462.21,1095.91 L464.21,1095.88 L466.21,1095.86 L468.21,1095.85 L470.22,1095.85 L472.22,1095.86 L474.22,1095.89 L476.22,1095.92 L478.23,1095.96 L480.23,1096.01 L482.23,1096.08 L484.23,1096.15 L486.24,1096.23 L488.24,1096.32 L490.24,1096.43 L492.25,1096.54 L494.25,1096.66 L496.25,1096.79 L498.25,1096.93 L500.26,1097.08 L502.26,1097.24 L504.26,1097.41 L506.26,1097.59 L508.27,1097.78 L510.27,1097.98 L512.27,1098.19 L514.27,1098.41 L516.28,1098.63 L518.28,1098.87 L520.28,1099.11 L522.28,1099.37 L524.29,1099.63 L526.29,1099.9 L528.29,1100.18 L530.29,1100.47 L532.3,1100.77 L534.3,1101.08 L536.3,1101.39 L538.3,1101.72 L540.31,1102.05 L542.31,1102.4 L544.31,1102.75 L546.32,1103.11 L548.32,1103.48 L550.32,1103.85 L552.32,1104.24 L554.33,1104.63 L556.33,1105.04 L558.33,1105.45 L560.33,1105.86 L562.34,1106.29 L564.34,1106.73 L566.34,1107.17 L568.34,1107.62 L570.35,1108.08 L572.35,1108.55 L574.35,1109.03 L576.35,1109.51 L578.36,1110 L580.36,1110.5 L582.36,1111.01 L584.36,1111.53 L586.37,1112.05 L588.37,1112.58 L590.37,1113.12 L592.37,1113.67 L594.38,1114.22 L596.38,1114.78 L598.38,1115.35 L600.39,1115.93 L602.39,1116.51 L604.39,1117.1 L606.39,1117.7 L608.4,1118.31 L610.4,1118.92 L612.4,1119.54 L614.4,1120.17 L616.41,1120.8 L618.41,1121.44 L620.41,1122.09 L622.41,1122.74 L624.42,1123.41 L626.42,1124.08 L628.42,1124.75 L630.42,1125.43 L632.43,1126.12 L634.43,1126.82 L636.43,1127.52 L638.43,1128.23 L640.44,1128.95 L642.44,1129.67 L644.44,1130.4 L646.44,1131.14 L648.45,1131.88 L650.45,1132.63 L652.45,1133.38 L654.46,1134.14 L656.46,1134.91 L658.46,1135.68 L660.46,1136.46 L662.47,1137.25 L664.47,1138.05 L666.47,1138.86 L668.47,1139.67 L670.48,1140.5 L672.48,1141.34 L674.48,1142.19 L676.48,1143.05 L678.49,1143.92 L680.49,1144.81 L682.49,1145.71 L684.49,1146.62 L686.5,1147.55 L688.5,1148.49 L690.5,1149.45 L692.5,1150.43 L694.51,1151.43 L696.51,1152.44 L698.51,1153.47 L700.51,1154.52 L702.52,1155.59 L704.52,1156.68 L706.52,1157.79 L708.52,1158.92 L710.53,1160.07 L712.53,1161.25 L714.53,1162.45 L716.54,1163.67 L718.54,1164.92 L720.54,1166.19 L722.54,1167.49 L724.55,1168.82 L726.55,1170.17 L728.55,1171.54 L730.55,1172.95 L732.56,1174.38 L734.56,1175.85 L736.56,1177.34 L738.56,1178.86 L740.57,1180.42 L742.57,1182 L744.57,1183.62 L746.57,1185.27 L748.58,1186.95 L750.58,1188.67 L752.58,1190.42 L754.58,1192.21 L756.59,1194.03 L758.59,1195.88 L760.59,1197.78 L762.59,1199.71 L764.6,1201.68 L766.6,1203.68" fill="none" stroke="#2a2a2a" stroke-width="1.5" stroke-dasharray="7,4.6" stroke-linejoin="round"/>
<text x="67" y="59.8" font-weight="bold" font-size="43">(a)</text>
<text x="65.2" y="777" font-weight="bold" font-size="43">(b)</text>
<text x="817.5" y="59.8" font-weight="bold" font-size="43">(c)</text>
<text x="814.4" y="777.3" font-weight="bold" font-size="43">(d)</text>
<text x="377.5" y="680.2" font-size="40.8">Prec</text>
<text x="462" y="685.8" font-size="25.3">autumn</text>
<text x="401.5" y="1380.6" font-size="40.8">SDI</text>
<g transform="translate(58.2,467.5) rotate(-90)">
<text x="0" y="0" font-size="40.8">f</text>
<text x="8.6" y="8.5" font-size="25.3">1</text>
<text x="23.4" y="0" font-size="40.8">(Prec</text>
<text x="120.8" y="8.5" font-size="25.3">autumn</text>
<text x="211.5" y="0" font-size="40.8">)</text>
</g>
<g transform="translate(60.1,1107.5) rotate(-90)">
<text x="0" y="0" font-size="40.8">f</text>
<text x="8.4" y="8.5" font-size="25.3">3</text>
<text x="21.7" y="0" font-size="40.8">(SDI)</text>
</g>
<rect x="890.9" y="88.8" width="667.8" height="501.1" fill="none" stroke="#3c3c3c" stroke-width="2"/>
<path fill="rgb(0,0,0)" shape-rendering="crispEdges" d="M889.7 570.63H899.46V583.48H889.7zM889.7 583.48H916.58V591.1H889.7z"/>
<path fill="rgb(5,5,5)" shape-rendering="crispEdges" d="M889.7 544.93H899.46V557.78H889.7zM889.7 557.78H916.58V570.63H889.7zM899.46 570.63H916.58V583.48H899.46zM916.58 583.48H933.71V591.1H916.58z"/>
<path fill="rgb(10,10,10)" shape-rendering="crispEdges" d="M889.7 519.23H899.46V532.08H889.7zM889.7 532.08H899.46V544.93H889.7zM899.46 544.93H916.58V557.78H899.46zM916.58 557.78H933.71V570.63H916.58zM916.58 570.63H950.83V583.48H916.58zM933.71 583.48H950.83V591.1H933.71z"/>
<path fill="rgb(15,15,15)" shape-rendering="crispEdges" d="M889.7 506.38H899.46V519.23H889.7zM899.46 519.23H916.58V532.08H899.46zM899.46 532.08H933.71V544.93H899.46zM916.58 544.93H933.71V557.78H916.58zM933.71 557.78H950.83V570.63H933.71zM950.83 570.63H967.95V583.48H950.83zM950.83 583.48H985.08V591.1H950.83z"/>
<path fill="rgb(20,20,20)" shape-rendering="crispEdges" d="M889.7 480.69H899.46V493.53H889.7zM889.7 493.53H916.58V506.38H889.7zM899.46 506.38H916.58V519.23H899.46zM916.58 519.23H933.71V532.08H916.58zM933.71 532.08H950.83V544.93H933.71zM933.71 544.93H967.95V557.78H933.71zM950.83 557.78H985.08V570.63H950.83zM967.95 570.63H985.08V583.48H967.95zM985.08 583.48H1002.2V591.1H985.08z"/>
<path fill="rgb(26,26,26)" shape-rendering="crispEdges" d="M889.7 454.99H899.46V467.84H889.7zM889.7 467.84H916.58V480.69H889.7zM899.46 480.69H916.58V493.53H899.46zM916.58 493.53H933.71V506.38H916.58zM916.58 506.38H950.83V519.23H916.58zM933.71 519.23H967.95V532.08H933.71zM950.83 532.08H967.95V544.93H950.83zM967.95 544.93H985.08V557.78H967.95zM985.08 557.78H1002.2V570.63H985.08zM985.08 570.63H1019.32V583.48H985.08zM1002.2 583.48H1019.32V591.1H1002.2z"/>
<path fill="rgb(31,31,31)" shape-rendering="crispEdges" d="M889.7 429.29H899.46V442.14H889.7zM889.7 442.14H899.46V454.99H889.7zM899.46 454.99H916.58V467.84H899.46zM916.58 467.84H933.71V480.69H916.58zM916.58 480.69H950.83V493.53H916.58zM933.71 493.53H950.83V506.38H933.71zM950.83 506.38H967.95V519.23H950.83zM967.95 519.23H985.08V532.08H967.95zM967.95 532.08H1002.2V544.93H967.95zM985.08 544.93H1002.2V557.78H985.08zM1002.2 557.78H1019.32V570.63H1002.2zM1019.32 570.63H1036.45V583.48H1019.32zM1019.32 583.48H1053.57V591.1H1019.32z"/>
<path fill="rgb(36,36,36)" shape-rendering="crispEdges" d="M889.7 416.44H899.46V429.29H889.7zM899.46 429.29H916.58V442.14H899.46zM899.46 442.14H933.71V454.99H899.46zM916.58 454.99H933.71V467.84H916.58zM933.71 467.84H950.83V480.69H933.71zM950.83 480.69H967.95V493.53H950.83zM950.83 493.53H985.08V506.38H950.83zM967.95 506.38H985.08V519.23H967.95zM985.08 519.23H1002.2V532.08H985.08zM1002.2 532.08H1019.32V544.93H1002.2zM1002.2 544.93H1036.45V557.78H1002.2zM1019.32 557.78H1036.45V570.63H1019.32zM1036.45 570.63H1053.57V583.48H1036.45zM1053.57 583.48H1070.69V591.1H1053.57z"/>
<path fill="rgb(41,41,41)" shape-rendering="crispEdges" d="M889.7 390.74H899.46V403.59H889.7zM889.7 403.59H916.58V416.44H889.7zM899.46 416.44H916.58V429.29H899.46zM916.58 429.29H933.71V442.14H916.58zM933.71 442.14H950.83V454.99H933.71zM933.71 454.99H967.95V467.84H933.71zM950.83 467.84H967.95V480.69H950.83zM967.95 480.69H985.08V493.53H967.95zM985.08 493.53H1002.2V506.38H985.08zM985.08 506.38H1019.32V519.23H985.08zM1002.2 519.23H1036.45V532.08H1002.2zM1019.32 532.08H1036.45V544.93H1019.32zM1036.45 544.93H1053.57V557.78H1036.45zM1036.45 557.78H1070.69V570.63H1036.45zM1053.57 570.63H1087.82V583.48H1053.57zM1070.69 583.48H1087.82V591.1H1070.69z"/>
<path fill="rgb(46,46,46)" shape-rendering="crispEdges" d="M889.7 365.05H899.46V377.9H889.7zM889.7 377.9H899.46V390.74H889.7zM899.46 390.74H916.58V403.59H899.46zM916.58 403.59H933.71V416.44H916.58zM916.58 416.44H950.83V429.29H916.58zM933.71 429.29H950.83V442.14H933.71zM950.83 442.14H967.95V454.99H950.83zM967.95 454.99H985.08V467.84H967.95zM967.95 467.84H1002.2V480.69H967.95zM985.08 480.69H1019.32V493.53H985.08zM1002.2 493.53H1019.32V506.38H1002.2zM1019.32 506.38H1036.45V519.23H1019.32zM1036.45 519.23H1053.57V532.08H1036.45zM1036.45 532.08H1070.69V544.93H1036.45zM1053.57 544.93H1070.69V557.78H1053.57zM1070.69 557.78H1087.82V570.63H1070.69zM1087.82 570.63H1104.94V583.48H1087.82zM1087.82 583.48H1122.06V591.1H1087.82z"/>
<path fill="rgb(51,51,51)" shape-rendering="crispEdges" d="M889.7 352.2H899.46V365.05H889.7zM899.46 365.05H916.58V377.9H899.46zM899.46 377.9H933.71V390.74H899.46zM916.58 390.74H950.83V403.59H916.58zM933.71 403.59H950.83V416.44H933.71zM950.83 416.44H967.95V429.29H950.83zM950.83 429.29H985.08V442.14H950.83zM967.95 442.14H1002.2V454.99H967.95zM985.08 454.99H1002.2V467.84H985.08zM1002.2 467.84H1019.32V480.69H1002.2zM1019.32 480.69H1036.45V493.53H1019.32zM1019.32 493.53H1053.57V506.38H1019.32zM1036.45 506.38H1053.57V519.23H1036.45zM1053.57 519.23H1070.69V532.08H1053.57zM1070.69 532.08H1087.82V544.93H1070.69zM1070.69 544.93H1104.94V557.78H1070.69zM1087.82 557.78H1104.94V570.63H1087.82zM1104.94 570.63H1122.06V583.48H1104.94zM1122.06 583.48H1139.18V591.1H1122.06z"/>
<path fill="rgb(56,56,56)" shape-rendering="crispEdges" d="M889.7 326.5H899.46V339.35H889.7zM889.7 339.35H916.58V352.2H889.7zM899.46 352.2H933.71V365.05H899.46zM916.58 365.05H933.71V377.9H916.58zM933.71 377.9H950.83V390.74H933.71zM950.83 390.74H967.95V403.59H950.83zM950.83 403.59H985.08V416.44H950.83zM967.95 416.44H985.08V429.29H967.95zM985.08 429.29H1002.2V442.14H985.08zM1002.2 442.14H1019.32V454.99H1002.2zM1002.2 454.99H1036.45V467.84H1002.2zM1019.32 467.84H1036.45V480.69H1019.32zM1036.45 480.69H1053.57V493.53H1036.45zM1053.57 493.53H1070.69V506.38H1053.57zM1053.57 506.38H1087.82V519.23H1053.57zM1070.69 519.23H1087.82V532.08H1070.69zM1087.82 532.08H1104.94V544.93H1087.82zM1104.94 544.93H1122.06V557.78H1104.94zM1104.94 557.78H1139.18V570.63H1104.94zM1122.06 570.63H1156.31V583.48H1122.06zM1139.18 583.48H1156.31V591.1H1139.18z"/>
<path fill="rgb(61,61,61)" shape-rendering="crispEdges" d="M889.7 300.8H899.46V313.65H889.7zM889.7 313.65H916.58V326.5H889.7zM899.46 326.5H916.58V339.35H899.46zM916.58 339.35H933.71V352.2H916.58zM933.71 352.2H950.83V365.05H933.71zM933.71 365.05H967.95V377.9H933.71zM950.83 377.9H967.95V390.74H950.83zM967.95 390.74H985.08V403.59H967.95zM985.08 403.59H1002.2V416.44H985.08zM985.08 416.44H1019.32V429.29H985.08zM1002.2 429.29H1019.32V442.14H1002.2zM1019.32 442.14H1036.45V454.99H1019.32zM1036.45 454.99H1053.57V467.84H1036.45zM1036.45 467.84H1070.69V480.69H1036.45zM1053.57 480.69H1070.69V493.53H1053.57zM1070.69 493.53H1087.82V506.38H1070.69zM1087.82 506.38H1104.94V519.23H1087.82zM1087.82 519.23H1122.06V532.08H1087.82zM1104.94 532.08H1139.18V544.93H1104.94zM1122.06 544.93H1139.18V557.78H1122.06zM1139.18 557.78H1156.31V570.63H1139.18zM1156.31 570.63H1173.43V583.48H1156.31zM1156.31 583.48H1190.55V591.1H1156.31z"/>
<path fill="rgb(66,66,66)" shape-rendering="crispEdges" d="M889.7 275.11H899.46V287.96H889.7zM889.7 287.96H899.46V300.8H889.7zM899.46 300.8H916.58V313.65H899.46zM916.58 313.65H933.71V326.5H916.58zM916.58 326.5H950.83V339.35H916.58zM933.71 339.35H950.83V352.2H933.71zM950.83 352.2H967.95V365.05H950.83zM967.95 365.05H985.08V377.9H967.95zM967.95 377.9H1002.2V390.74H967.95zM985.08 390.74H1002.2V403.59H985.08zM1002.2 403.59H1019.32V416.44H1002.2zM1019.32 416.44H1036.45V429.29H1019.32zM1019.32 429.29H1053.57V442.14H1019.32zM1036.45 442.14H1070.69V454.99H1036.45zM1053.57 454.99H1070.69V467.84H1053.57zM1070.69 467.84H1087.82V480.69H1070.69zM1070.69 480.69H1104.94V493.53H1070.69zM1087.82 493.53H1122.06V506.38H1087.82zM1104.94 506.38H1122.06V519.23H1104.94zM1122.06 519.23H1139.18V532.08H1122.06zM1139.18 532.08H1156.31V544.93H1139.18zM1139.18 544.93H1173.43V557.78H1139.18zM1156.31 557.78H1173.43V570.63H1156.31zM1173.43 570.63H1190.55V583.48H1173.43zM1190.55 583.48H1207.68V591.1H1190.55z"/>
<path fill="rgb(71,71,71)" shape-rendering="crispEdges" d="M889.7 262.26H899.46V275.11H889.7zM899.46 275.11H916.58V287.96H899.46zM899.46 287.96H933.71V300.8H899.46zM916.58 300.8H933.71V313.65H916.58zM933.71 313.65H950.83V326.5H933.71zM950.83 326.5H967.95V339.35H950.83zM950.83 339.35H985.08V352.2H950.83zM967.95 352.2H985.08V365.05H967.95zM985.08 365.05H1002.2V377.9H985.08zM1002.2 377.9H1019.32V390.74H1002.2zM1002.2 390.74H1036.45V403.59H1002.2zM1019.32 403.59H1053.57V416.44H1019.32zM1036.45 416.44H1053.57V429.29H1036.45zM1053.57 429.29H1070.69V442.14H1053.57zM1070.69 442.14H1087.82V454.99H1070.69zM1070.69 454.99H1104.94V467.84H1070.69zM1087.82 467.84H1104.94V480.69H1087.82zM1104.94 480.69H1122.06V493.53H1104.94zM1122.06 493.53H1139.18V506.38H1122.06zM1122.06 506.38H1139.18V519.23H1122.06zM1139.18 519.23H1156.31V532.08H1139.18zM1156.31 532.08H1173.43V544.93H1156.31zM1173.43 544.93H1190.55V557.78H1173.43zM1173.43 557.78H1207.68V570.63H1173.43zM1190.55 570.63H1207.68V583.48H1190.55zM1207.68 583.48H1224.8V591.1H1207.68z"/>
<path fill="rgb(77,77,77)" shape-rendering="crispEdges" d="M889.7 236.56H899.46V249.41H889.7zM889.7 249.41H916.58V262.26H889.7zM899.46 262.26H916.58V275.11H899.46zM916.58 275.11H933.71V287.96H916.58zM933.71 287.96H950.83V300.8H933.71zM933.71 300.8H967.95V313.65H933.71zM950.83 313.65H967.95V326.5H950.83zM967.95 326.5H985.08V339.35H967.95zM985.08 339.35H1002.2V352.2H985.08zM985.08 352.2H1019.32V365.05H985.08zM1002.2 365.05H1036.45V377.9H1002.2zM1019.32 377.9H1036.45V390.74H1019.32zM1036.45 390.74H1053.57V403.59H1036.45zM1053.57 403.59H1070.69V416.44H1053.57zM1053.57 416.44H1087.82V429.29H1053.57zM1070.69 429.29H1087.82V442.14H1070.69zM1087.82 442.14H1104.94V454.99H1087.82zM1104.94 454.99H1122.06V467.84H1104.94zM1104.94 467.84H1139.18V480.69H1104.94zM1122.06 480.69H1139.18V493.53H1122.06zM1139.18 493.53H1156.31V506.38H1139.18zM1156.31 506.38H1173.43V519.23H1156.31zM1173.43 532.08H1190.55V544.93H1173.43zM1190.55 544.93H1207.68V557.78H1190.55zM1207.68 557.78H1224.8V570.63H1207.68zM1207.68 570.63H1241.92V583.48H1207.68zM1224.8 583.48H1259.05V591.1H1224.8z"/>
<path fill="rgb(82,82,82)" shape-rendering="crispEdges" d="M889.7 210.86H899.46V223.71H889.7zM889.7 223.71H899.46V236.56H889.7zM899.46 236.56H916.58V249.41H899.46zM916.58 249.41H933.71V262.26H916.58zM916.58 262.26H950.83V275.11H916.58zM933.71 275.11H967.95V287.96H933.71zM950.83 287.96H967.95V300.8H950.83zM967.95 300.8H985.08V313.65H967.95zM967.95 313.65H1002.2V326.5H967.95zM985.08 326.5H1019.32V339.35H985.08zM1002.2 339.35H1019.32V352.2H1002.2zM1019.32 352.2H1036.45V365.05H1019.32zM1036.45 365.05H1053.57V377.9H1036.45zM1036.45 377.9H1070.69V390.74H1036.45zM1053.57 390.74H1070.69V403.59H1053.57zM1070.69 403.59H1087.82V416.44H1070.69zM1087.82 416.44H1104.94V429.29H1087.82zM1087.82 429.29H1122.06V442.14H1087.82zM1104.94 442.14H1122.06V454.99H1104.94zM1122.06 454.99H1139.18V467.84H1122.06zM1139.18 467.84H1156.31V480.69H1139.18zM1139.18 480.69H1173.43V493.53H1139.18zM1156.31 493.53H1190.55V506.38H1156.31zM1207.68 544.93H1241.92V557.78H1207.68zM1224.8 557.78H1241.92V570.63H1224.8zM1241.92 570.63H1259.05V583.48H1241.92zM1259.05 583.48H1276.17V591.1H1259.05z"/>
<path fill="rgb(87,87,87)" shape-rendering="crispEdges" d="M889.7 198.01H899.46V210.86H889.7zM899.46 210.86H916.58V223.71H899.46zM899.46 223.71H933.71V236.56H899.46zM916.58 236.56H950.83V249.41H916.58zM933.71 249.41H950.83V262.26H933.71zM950.83 262.26H967.95V275.11H950.83zM967.95 275.11H985.08V287.96H967.95zM967.95 287.96H1002.2V300.8H967.95zM985.08 300.8H1002.2V313.65H985.08zM1002.2 313.65H1019.32V326.5H1002.2zM1019.32 326.5H1036.45V339.35H1019.32zM1019.32 339.35H1053.57V352.2H1019.32zM1036.45 352.2H1053.57V365.05H1036.45zM1053.57 365.05H1070.69V377.9H1053.57zM1070.69 377.9H1087.82V390.74H1070.69zM1070.69 390.74H1104.94V403.59H1070.69zM1087.82 403.59H1104.94V416.44H1087.82zM1104.94 416.44H1122.06V429.29H1104.94zM1122.06 429.29H1139.18V442.14H1122.06zM1122.06 442.14H1156.31V454.99H1122.06zM1139.18 454.99H1173.43V467.84H1139.18zM1156.31 467.84H1173.43V480.69H1156.31zM1173.43 480.69H1190.55V493.53H1173.43zM1190.55 493.53H1207.68V506.38H1190.55zM1224.8 532.08H1241.92V544.93H1224.8zM1241.92 544.93H1259.05V557.78H1241.92zM1241.92 557.78H1276.17V570.63H1241.92zM1259.05 570.63H1276.17V583.48H1259.05zM1276.17 583.48H1293.29V591.1H1276.17z"/>
<path fill="rgb(92,92,92)" shape-rendering="crispEdges" d="M889.7 185.17H916.58V198.01H889.7zM899.46 198.01H933.71V210.86H899.46zM916.58 210.86H933.71V223.71H916.58zM933.71 223.71H950.83V236.56H933.71zM950.83 236.56H967.95V249.41H950.83zM950.83 249.41H985.08V262.26H950.83zM967.95 262.26H985.08V275.11H967.95zM985.08 275.11H1002.2V287.96H985.08zM1002.2 287.96H1019.32V300.8H1002.2zM1002.2 300.8H1036.45V313.65H1002.2zM1019.32 313.65H1036.45V326.5H1019.32zM1036.45 326.5H1053.57V339.35H1036.45zM1053.57 339.35H1070.69V352.2H1053.57zM1053.57 352.2H1087.82V365.05H1053.57zM1070.69 365.05H1087.82V377.9H1070.69zM1087.82 377.9H1104.94V390.74H1087.82zM1104.94 390.74H1122.06V403.59H1104.94zM1104.94 403.59H1139.18V416.44H1104.94zM1122.06 416.44H1156.31V429.29H1122.06zM1139.18 429.29H1156.31V442.14H1139.18zM1156.31 442.14H1173.43V454.99H1156.31zM1173.43 454.99H1190.55V467.84H1173.43zM1173.43 467.84H1207.68V480.69H1173.43zM1190.55 480.69H1207.68V493.53H1190.55zM1224.8 519.23H1259.05V532.08H1224.8zM1241.92 532.08H1259.05V544.93H1241.92zM1259.05 544.93H1276.17V557.78H1259.05zM1276.17 557.78H1293.29V570.63H1276.17zM1276.17 570.63H1310.42V583.48H1276.17zM1293.29 583.48H1310.42V591.1H1293.29z"/>
<path fill="rgb(97,97,97)" shape-rendering="crispEdges" d="M916.58 185.17H933.71V198.01H916.58zM933.71 198.01H950.83V210.86H933.71zM933.71 210.86H967.95V223.71H933.71zM950.83 223.71H967.95V236.56H950.83zM967.95 236.56H985.08V249.41H967.95zM985.08 249.41H1002.2V262.26H985.08zM985.08 262.26H1019.32V275.11H985.08zM1002.2 275.11H1019.32V287.96H1002.2zM1019.32 287.96H1036.45V300.8H1019.32zM1036.45 300.8H1053.57V313.65H1036.45zM1036.45 313.65H1070.69V326.5H1036.45zM1053.57 326.5H1087.82V339.35H1053.57zM1070.69 339.35H1087.82V352.2H1070.69zM1087.82 352.2H1104.94V365.05H1087.82zM1087.82 365.05H1122.06V377.9H1087.82zM1104.94 377.9H1139.18V390.74H1104.94zM1122.06 390.74H1139.18V403.59H1122.06zM1139.18 403.59H1156.31V416.44H1139.18zM1156.31 416.44H1173.43V429.29H1156.31zM1156.31 429.29H1190.55V442.14H1156.31zM1173.43 442.14H1190.55V454.99H1173.43zM1190.55 454.99H1207.68V467.84H1190.55zM1207.68 467.84H1224.8V480.69H1207.68zM1207.68 480.69H1241.92V493.53H1207.68zM1224.8 493.53H1241.92V506.38H1224.8zM1241.92 506.38H1259.05V519.23H1241.92zM1259.05 519.23H1276.17V532.08H1259.05zM1259.05 532.08H1293.29V544.93H1259.05zM1276.17 544.93H1293.29V557.78H1276.17zM1293.29 557.78H1310.42V570.63H1293.29zM1310.42 570.63H1327.54V583.48H1310.42zM1310.42 583.48H1344.66V591.1H1310.42z"/>
<path fill="rgb(102,102,102)" shape-rendering="crispEdges" d="M889.7 120.92H899.46V133.77H889.7zM889.7 133.77H899.46V146.62H889.7zM899.46 146.62H916.58V159.47H899.46zM933.71 185.17H950.83V198.01H933.71zM950.83 198.01H967.95V210.86H950.83zM967.95 210.86H985.08V223.71H967.95zM967.95 223.71H1002.2V236.56H967.95zM985.08 236.56H1002.2V249.41H985.08zM1002.2 249.41H1019.32V262.26H1002.2zM1019.32 262.26H1036.45V275.11H1019.32zM1019.32 275.11H1053.57V287.96H1019.32zM1036.45 287.96H1070.69V300.8H1036.45zM1053.57 300.8H1070.69V313.65H1053.57zM1070.69 313.65H1087.82V326.5H1070.69zM1087.82 326.5H1104.94V339.35H1087.82zM1087.82 339.35H1122.06V352.2H1087.82zM1104.94 352.2H1122.06V365.05H1104.94zM1122.06 365.05H1139.18V377.9H1122.06zM1139.18 377.9H1156.31V390.74H1139.18zM1139.18 390.74H1173.43V403.59H1139.18zM1156.31 403.59H1173.43V416.44H1156.31zM1173.43 416.44H1190.55V429.29H1173.43zM1190.55 429.29H1207.68V442.14H1190.55zM1190.55 442.14H1224.8V454.99H1190.55zM1207.68 454.99H1224.8V467.84H1207.68zM1224.8 467.84H1241.92V480.69H1224.8zM1241.92 480.69H1259.05V493.53H1241.92zM1241.92 493.53H1276.17V506.38H1241.92zM1259.05 506.38H1293.29V519.23H1259.05zM1276.17 519.23H1293.29V532.08H1276.17zM1293.29 532.08H1310.42V544.93H1293.29zM1293.29 544.93H1327.54V557.78H1293.29zM1310.42 557.78H1344.66V570.63H1310.42zM1327.54 570.63H1344.66V583.48H1327.54zM1344.66 583.48H1361.78V591.1H1344.66z"/>
<path fill="rgb(107,107,107)" shape-rendering="crispEdges" d="M889.7 108.07H899.46V120.92H889.7zM899.46 120.92H916.58V133.77H899.46zM899.46 133.77H933.71V146.62H899.46zM916.58 146.62H933.71V159.47H916.58zM967.95 198.01H1002.2V210.86H967.95zM985.08 210.86H1002.2V223.71H985.08zM1002.2 223.71H1019.32V236.56H1002.2zM1002.2 236.56H1036.45V249.41H1002.2zM1019.32 249.41H1053.57V262.26H1019.32zM1036.45 262.26H1053.57V275.11H1036.45zM1053.57 275.11H1070.69V287.96H1053.57zM1070.69 287.96H1087.82V300.8H1070.69zM1070.69 300.8H1104.94V313.65H1070.69zM1087.82 313.65H1104.94V326.5H1087.82zM1104.94 326.5H1122.06V339.35H1104.94zM1122.06 339.35H1139.18V352.2H1122.06zM1122.06 352.2H1156.31V365.05H1122.06zM1139.18 365.05H1156.31V377.9H1139.18zM1156.31 377.9H1173.43V390.74H1156.31zM1173.43 390.74H1190.55V403.59H1173.43zM1173.43 403.59H1207.68V416.44H1173.43zM1190.55 416.44H1207.68V429.29H1190.55zM1207.68 429.29H1224.8V442.14H1207.68zM1224.8 442.14H1241.92V454.99H1224.8zM1224.8 454.99H1259.05V467.84H1224.8zM1241.92 467.84H1276.17V480.69H1241.92zM1259.05 480.69H1276.17V493.53H1259.05zM1276.17 493.53H1293.29V506.38H1276.17zM1293.29 506.38H1310.42V519.23H1293.29zM1293.29 519.23H1327.54V532.08H1293.29zM1310.42 532.08H1327.54V544.93H1310.42zM1327.54 544.93H1344.66V557.78H1327.54zM1344.66 557.78H1361.78V570.63H1344.66zM1344.66 570.63H1378.91V583.48H1344.66zM1361.78 583.48H1378.91V591.1H1361.78z"/>
<path fill="rgb(112,112,112)" shape-rendering="crispEdges" d="M889.7 87.6H899.46V95.22H889.7zM889.7 95.22H916.58V108.07H889.7zM899.46 108.07H916.58V120.92H899.46zM916.58 120.92H933.71V133.77H916.58zM933.71 133.77H950.83V146.62H933.71zM1002.2 198.01H1019.32V210.86H1002.2zM1002.2 210.86H1036.45V223.71H1002.2zM1019.32 223.71H1036.45V236.56H1019.32zM1036.45 236.56H1053.57V249.41H1036.45zM1053.57 249.41H1070.69V262.26H1053.57zM1053.57 262.26H1087.82V275.11H1053.57zM1070.69 275.11H1087.82V287.96H1070.69zM1087.82 287.96H1104.94V300.8H1087.82zM1104.94 300.8H1122.06V313.65H1104.94zM1104.94 313.65H1139.18V326.5H1104.94zM1122.06 326.5H1139.18V339.35H1122.06zM1139.18 339.35H1156.31V352.2H1139.18zM1156.31 352.2H1173.43V365.05H1156.31zM1156.31 365.05H1190.55V377.9H1156.31zM1173.43 377.9H1207.68V390.74H1173.43zM1190.55 390.74H1207.68V403.59H1190.55zM1207.68 403.59H1224.8V416.44H1207.68zM1207.68 416.44H1241.92V429.29H1207.68zM1224.8 429.29H1259.05V442.14H1224.8zM1241.92 442.14H1259.05V454.99H1241.92zM1259.05 454.99H1276.17V467.84H1259.05zM1276.17 467.84H1293.29V480.69H1276.17zM1276.17 480.69H1310.42V493.53H1276.17zM1293.29 493.53H1310.42V506.38H1293.29zM1310.42 506.38H1327.54V519.23H1310.42zM1327.54 519.23H1344.66V532.08H1327.54zM1327.54 532.08H1361.78V544.93H1327.54zM1344.66 544.93H1361.78V557.78H1344.66zM1361.78 557.78H1378.91V570.63H1361.78zM1378.91 570.63H1396.03V583.48H1378.91zM1378.91 583.48H1413.15V591.1H1378.91z"/>
<path fill="rgb(117,117,117)" shape-rendering="crispEdges" d="M899.46 87.6H916.58V95.22H899.46zM916.58 95.22H933.71V108.07H916.58zM916.58 108.07H950.83V120.92H916.58zM933.71 120.92H967.95V133.77H933.71zM950.83 133.77H967.95V146.62H950.83zM1019.32 198.01H1036.45V210.86H1019.32zM1036.45 210.86H1053.57V223.71H1036.45zM1036.45 223.71H1070.69V236.56H1036.45zM1053.57 236.56H1070.69V249.41H1053.57zM1070.69 249.41H1087.82V262.26H1070.69zM1087.82 262.26H1104.94V275.11H1087.82zM1087.82 275.11H1122.06V287.96H1087.82zM1104.94 287.96H1122.06V300.8H1104.94zM1122.06 300.8H1139.18V313.65H1122.06zM1139.18 313.65H1156.31V326.5H1139.18zM1139.18 326.5H1173.43V339.35H1139.18zM1156.31 339.35H1190.55V352.2H1156.31zM1173.43 352.2H1190.55V365.05H1173.43zM1190.55 365.05H1207.68V377.9H1190.55zM1207.68 377.9H1224.8V390.74H1207.68zM1207.68 390.74H1241.92V403.59H1207.68zM1224.8 403.59H1241.92V416.44H1224.8zM1241.92 416.44H1259.05V429.29H1241.92zM1259.05 429.29H1276.17V442.14H1259.05zM1259.05 442.14H1293.29V454.99H1259.05zM1276.17 454.99H1293.29V467.84H1276.17zM1293.29 467.84H1310.42V480.69H1293.29zM1310.42 480.69H1327.54V493.53H1310.42zM1310.42 493.53H1344.66V506.38H1310.42zM1327.54 506.38H1344.66V519.23H1327.54zM1344.66 519.23H1361.78V532.08H1344.66zM1361.78 532.08H1378.91V544.93H1361.78zM1361.78 544.93H1396.03V557.78H1361.78zM1378.91 557.78H1413.15V570.63H1378.91zM1396.03 570.63H1413.15V583.48H1396.03zM1413.15 583.48H1430.28V591.1H1413.15z"/>
<path fill="rgb(122,122,122)" shape-rendering="crispEdges" d="M916.58 87.6H950.83V95.22H916.58zM933.71 95.22H950.83V108.07H933.71zM950.83 108.07H967.95V120.92H950.83zM967.95 120.92H985.08V133.77H967.95zM1036.45 185.17H1053.57V198.01H1036.45zM1036.45 198.01H1053.57V210.86H1036.45zM1053.57 210.86H1070.69V223.71H1053.57zM1070.69 223.71H1087.82V236.56H1070.69zM1070.69 236.56H1104.94V249.41H1070.69zM1087.82 249.41H1122.06V262.26H1087.82zM1104.94 262.26H1122.06V275.11H1104.94zM1122.06 275.11H1139.18V287.96H1122.06zM1122.06 287.96H1156.31V300.8H1122.06zM1139.18 300.8H1173.43V313.65H1139.18zM1156.31 313.65H1173.43V326.5H1156.31zM1173.43 326.5H1190.55V339.35H1173.43zM1190.55 339.35H1207.68V352.2H1190.55zM1190.55 352.2H1224.8V365.05H1190.55zM1207.68 365.05H1224.8V377.9H1207.68zM1224.8 377.9H1241.92V390.74H1224.8zM1241.92 390.74H1259.05V403.59H1241.92zM1241.92 403.59H1276.17V416.44H1241.92zM1259.05 416.44H1276.17V429.29H1259.05zM1276.17 429.29H1293.29V442.14H1276.17zM1293.29 442.14H1310.42V454.99H1293.29zM1293.29 454.99H1327.54V467.84H1293.29zM1310.42 467.84H1327.54V480.69H1310.42zM1327.54 480.69H1344.66V493.53H1327.54zM1344.66 493.53H1361.78V506.38H1344.66zM1344.66 506.38H1378.91V519.23H1344.66zM1361.78 519.23H1396.03V532.08H1361.78zM1378.91 532.08H1396.03V544.93H1378.91zM1396.03 544.93H1413.15V557.78H1396.03zM1413.15 557.78H1430.28V570.63H1413.15zM1413.15 570.63H1447.4V583.48H1413.15zM1430.28 583.48H1447.4V591.1H1430.28z"/>
<path fill="rgb(128,128,128)" shape-rendering="crispEdges" d="M950.83 87.6H967.95V95.22H950.83zM950.83 95.22H985.08V108.07H950.83zM967.95 108.07H985.08V120.92H967.95zM1036.45 172.32H1053.57V185.17H1036.45zM1053.57 185.17H1070.69V198.01H1053.57zM1053.57 198.01H1087.82V210.86H1053.57zM1070.69 210.86H1104.94V223.71H1070.69zM1087.82 223.71H1104.94V236.56H1087.82zM1104.94 236.56H1122.06V249.41H1104.94zM1122.06 249.41H1139.18V262.26H1122.06zM1122.06 262.26H1156.31V275.11H1122.06zM1139.18 275.11H1156.31V287.96H1139.18zM1156.31 287.96H1173.43V300.8H1156.31zM1173.43 300.8H1190.55V313.65H1173.43zM1173.43 313.65H1207.68V326.5H1173.43zM1190.55 326.5H1207.68V339.35H1190.55zM1207.68 339.35H1224.8V352.2H1207.68zM1224.8 352.2H1241.92V365.05H1224.8zM1224.8 365.05H1259.05V377.9H1224.8zM1241.92 377.9H1259.05V390.74H1241.92zM1259.05 390.74H1276.17V403.59H1259.05zM1276.17 403.59H1293.29V416.44H1276.17zM1276.17 416.44H1310.42V429.29H1276.17zM1293.29 429.29H1327.54V442.14H1293.29zM1310.42 442.14H1327.54V454.99H1310.42zM1327.54 454.99H1344.66V467.84H1327.54zM1327.54 467.84H1361.78V480.69H1327.54zM1344.66 480.69H1378.91V493.53H1344.66zM1361.78 493.53H1378.91V506.38H1361.78zM1378.91 506.38H1396.03V519.23H1378.91zM1396.03 519.23H1413.15V532.08H1396.03zM1396.03 532.08H1430.28V544.93H1396.03zM1413.15 544.93H1430.28V557.78H1413.15zM1430.28 557.78H1447.4V570.63H1430.28zM1447.4 570.63H1464.52V583.48H1447.4zM1447.4 583.48H1481.65V591.1H1447.4z"/>
<path fill="rgb(133,133,133)" shape-rendering="crispEdges" d="M967.95 87.6H985.08V95.22H967.95zM1053.57 159.47H1070.69V172.32H1053.57zM1053.57 172.32H1087.82V185.17H1053.57zM1070.69 185.17H1087.82V198.01H1070.69zM1087.82 198.01H1104.94V210.86H1087.82zM1104.94 210.86H1122.06V223.71H1104.94zM1104.94 223.71H1139.18V236.56H1104.94zM1122.06 236.56H1139.18V249.41H1122.06zM1139.18 249.41H1156.31V262.26H1139.18zM1156.31 262.26H1173.43V275.11H1156.31zM1156.31 275.11H1190.55V287.96H1156.31zM1173.43 287.96H1190.55V300.8H1173.43zM1190.55 300.8H1207.68V313.65H1190.55zM1207.68 313.65H1224.8V326.5H1207.68zM1207.68 326.5H1241.92V339.35H1207.68zM1224.8 339.35H1241.92V352.2H1224.8zM1241.92 352.2H1259.05V365.05H1241.92zM1259.05 365.05H1276.17V377.9H1259.05zM1259.05 377.9H1293.29V390.74H1259.05zM1276.17 390.74H1310.42V403.59H1276.17zM1293.29 403.59H1310.42V416.44H1293.29zM1310.42 416.44H1327.54V429.29H1310.42zM1327.54 429.29H1344.66V442.14H1327.54zM1327.54 442.14H1361.78V454.99H1327.54zM1344.66 454.99H1361.78V467.84H1344.66zM1361.78 467.84H1378.91V480.69H1361.78zM1378.91 480.69H1396.03V493.53H1378.91zM1378.91 493.53H1413.15V506.38H1378.91zM1396.03 506.38H1413.15V519.23H1396.03zM1413.15 519.23H1430.28V532.08H1413.15zM1430.28 532.08H1447.4V544.93H1430.28zM1430.28 544.93H1464.52V557.78H1430.28zM1447.4 557.78H1464.52V570.63H1447.4zM1464.52 570.63H1481.65V583.48H1464.52zM1481.65 583.48H1498.77V591.1H1481.65z"/>
<path fill="rgb(138,138,138)" shape-rendering="crispEdges" d="M1070.69 159.47H1087.82V172.32H1070.69zM1087.82 172.32H1104.94V185.17H1087.82zM1087.82 185.17H1122.06V198.01H1087.82zM1104.94 198.01H1122.06V210.86H1104.94zM1122.06 210.86H1139.18V223.71H1122.06zM1139.18 223.71H1156.31V236.56H1139.18zM1139.18 236.56H1173.43V249.41H1139.18zM1156.31 249.41H1173.43V262.26H1156.31zM1173.43 262.26H1190.55V275.11H1173.43zM1190.55 287.96H1224.8V300.8H1190.55zM1207.68 300.8H1241.92V313.65H1207.68zM1224.8 313.65H1241.92V326.5H1224.8zM1241.92 326.5H1259.05V339.35H1241.92zM1241.92 339.35H1276.17V352.2H1241.92zM1259.05 352.2H1293.29V365.05H1259.05zM1276.17 365.05H1293.29V377.9H1276.17zM1293.29 377.9H1310.42V390.74H1293.29zM1310.42 390.74H1327.54V403.59H1310.42zM1310.42 403.59H1344.66V416.44H1310.42zM1327.54 416.44H1344.66V429.29H1327.54zM1344.66 429.29H1361.78V442.14H1344.66zM1361.78 442.14H1378.91V454.99H1361.78zM1361.78 454.99H1396.03V467.84H1361.78zM1378.91 467.84H1396.03V480.69H1378.91zM1396.03 480.69H1413.15V493.53H1396.03zM1413.15 493.53H1430.28V506.38H1413.15zM1413.15 506.38H1447.4V519.23H1413.15zM1430.28 519.23H1447.4V532.08H1430.28zM1447.4 532.08H1464.52V544.93H1447.4zM1464.52 544.93H1481.65V557.78H1464.52zM1464.52 557.78H1498.77V570.63H1464.52zM1481.65 570.63H1515.89V583.48H1481.65zM1498.77 583.48H1515.89V591.1H1498.77z"/>
<path fill="rgb(143,143,143)" shape-rendering="crispEdges" d="M1070.69 146.62H1104.94V159.47H1070.69zM1087.82 159.47H1104.94V172.32H1087.82zM1104.94 172.32H1122.06V185.17H1104.94zM1122.06 185.17H1139.18V198.01H1122.06zM1122.06 198.01H1156.31V210.86H1122.06zM1139.18 210.86H1156.31V223.71H1139.18zM1156.31 223.71H1173.43V236.56H1156.31zM1173.43 236.56H1190.55V249.41H1173.43zM1173.43 249.41H1207.68V262.26H1173.43zM1207.68 262.26H1224.8V275.11H1207.68zM1207.68 275.11H1224.8V287.96H1207.68zM1224.8 287.96H1241.92V300.8H1224.8zM1241.92 300.8H1259.05V313.65H1241.92zM1241.92 313.65H1276.17V326.5H1241.92zM1259.05 326.5H1276.17V339.35H1259.05zM1276.17 339.35H1293.29V352.2H1276.17zM1293.29 352.2H1310.42V365.05H1293.29zM1293.29 365.05H1327.54V377.9H1293.29zM1310.42 377.9H1327.54V390.74H1310.42zM1327.54 390.74H1344.66V403.59H1327.54zM1344.66 403.59H1361.78V416.44H1344.66zM1344.66 416.44H1378.91V429.29H1344.66zM1361.78 429.29H1378.91V442.14H1361.78zM1378.91 442.14H1396.03V454.99H1378.91zM1396.03 454.99H1413.15V467.84H1396.03zM1396.03 467.84H1430.28V480.69H1396.03zM1413.15 480.69H1447.4V493.53H1413.15zM1430.28 493.53H1447.4V506.38H1430.28zM1447.4 506.38H1464.52V519.23H1447.4zM1447.4 519.23H1481.65V532.08H1447.4zM1464.52 532.08H1498.77V544.93H1464.52zM1481.65 544.93H1498.77V557.78H1481.65zM1498.77 557.78H1515.89V570.63H1498.77zM1515.89 570.63H1533.02V583.48H1515.89zM1515.89 583.48H1550.14V591.1H1515.89z"/>
<path fill="rgb(148,148,148)" shape-rendering="crispEdges" d="M1104.94 146.62H1122.06V159.47H1104.94zM1104.94 159.47H1139.18V172.32H1104.94zM1122.06 172.32H1156.31V185.17H1122.06zM1139.18 185.17H1156.31V198.01H1139.18zM1156.31 198.01H1173.43V210.86H1156.31zM1156.31 210.86H1190.55V223.71H1156.31zM1173.43 223.71H1207.68V236.56H1173.43zM1190.55 236.56H1207.68V249.41H1190.55zM1207.68 249.41H1224.8V262.26H1207.68zM1224.8 262.26H1241.92V275.11H1224.8zM1224.8 275.11H1259.05V287.96H1224.8zM1241.92 287.96H1259.05V300.8H1241.92zM1259.05 300.8H1276.17V313.65H1259.05zM1276.17 313.65H1293.29V326.5H1276.17zM1276.17 326.5H1310.42V339.35H1276.17zM1293.29 339.35H1310.42V352.2H1293.29zM1310.42 352.2H1327.54V365.05H1310.42zM1327.54 365.05H1344.66V377.9H1327.54zM1327.54 377.9H1361.78V390.74H1327.54zM1344.66 390.74H1361.78V403.59H1344.66zM1361.78 403.59H1378.91V416.44H1361.78zM1378.91 416.44H1396.03V429.29H1378.91zM1378.91 429.29H1413.15V442.14H1378.91zM1396.03 442.14H1430.28V454.99H1396.03zM1413.15 454.99H1430.28V467.84H1413.15zM1430.28 467.84H1447.4V480.69H1430.28zM1447.4 480.69H1464.52V493.53H1447.4zM1447.4 493.53H1481.65V506.38H1447.4zM1464.52 506.38H1481.65V519.23H1464.52zM1481.65 519.23H1498.77V532.08H1481.65zM1498.77 532.08H1515.89V544.93H1498.77zM1498.77 544.93H1533.02V557.78H1498.77zM1515.89 557.78H1533.02V570.63H1515.89zM1533.02 570.63H1550.14V583.48H1533.02zM1550.14 583.48H1559.9V591.1H1550.14z"/>
<path fill="rgb(153,153,153)" shape-rendering="crispEdges" d="M1104.94 120.92H1122.06V133.77H1104.94zM1104.94 133.77H1139.18V146.62H1104.94zM1122.06 146.62H1139.18V159.47H1122.06zM1139.18 159.47H1156.31V172.32H1139.18zM1156.31 172.32H1173.43V185.17H1156.31zM1156.31 185.17H1190.55V198.01H1156.31zM1173.43 198.01H1190.55V210.86H1173.43zM1190.55 210.86H1207.68V223.71H1190.55zM1207.68 223.71H1224.8V236.56H1207.68zM1207.68 236.56H1241.92V249.41H1207.68zM1224.8 249.41H1241.92V262.26H1224.8zM1241.92 262.26H1259.05V275.11H1241.92zM1259.05 275.11H1276.17V287.96H1259.05zM1259.05 287.96H1293.29V300.8H1259.05zM1276.17 300.8H1293.29V313.65H1276.17zM1293.29 313.65H1310.42V326.5H1293.29zM1310.42 326.5H1327.54V339.35H1310.42zM1310.42 339.35H1344.66V352.2H1310.42zM1327.54 352.2H1361.78V365.05H1327.54zM1344.66 365.05H1361.78V377.9H1344.66zM1361.78 377.9H1378.91V390.74H1361.78zM1361.78 390.74H1396.03V403.59H1361.78zM1378.91 403.59H1413.15V416.44H1378.91zM1396.03 416.44H1413.15V429.29H1396.03zM1413.15 429.29H1430.28V442.14H1413.15zM1430.28 442.14H1447.4V454.99H1430.28zM1430.28 454.99H1464.52V467.84H1430.28zM1447.4 467.84H1464.52V480.69H1447.4zM1464.52 480.69H1481.65V493.53H1464.52zM1481.65 493.53H1498.77V506.38H1481.65zM1481.65 506.38H1515.89V519.23H1481.65zM1498.77 519.23H1515.89V532.08H1498.77zM1515.89 532.08H1533.02V544.93H1515.89zM1533.02 544.93H1550.14V557.78H1533.02zM1533.02 557.78H1559.9V570.63H1533.02zM1550.14 570.63H1559.9V583.48H1550.14z"/>
<path fill="rgb(158,158,158)" shape-rendering="crispEdges" d="M1122.06 120.92H1139.18V133.77H1122.06zM1139.18 133.77H1156.31V146.62H1139.18zM1139.18 146.62H1173.43V159.47H1139.18zM1156.31 159.47H1173.43V172.32H1156.31zM1173.43 172.32H1190.55V185.17H1173.43zM1190.55 185.17H1207.68V198.01H1190.55zM1190.55 198.01H1224.8V210.86H1190.55zM1207.68 210.86H1224.8V223.71H1207.68zM1224.8 223.71H1241.92V236.56H1224.8zM1241.92 236.56H1259.05V249.41H1241.92zM1241.92 249.41H1276.17V262.26H1241.92zM1259.05 262.26H1276.17V275.11H1259.05zM1276.17 275.11H1293.29V287.96H1276.17zM1293.29 287.96H1310.42V300.8H1293.29zM1293.29 300.8H1327.54V313.65H1293.29zM1310.42 313.65H1344.66V326.5H1310.42zM1327.54 326.5H1344.66V339.35H1327.54zM1344.66 339.35H1361.78V352.2H1344.66zM1361.78 352.2H1378.91V365.05H1361.78zM1361.78 365.05H1396.03V377.9H1361.78zM1378.91 377.9H1396.03V390.74H1378.91zM1396.03 390.74H1413.15V403.59H1396.03zM1413.15 403.59H1430.28V416.44H1413.15zM1413.15 416.44H1447.4V429.29H1413.15zM1430.28 429.29H1447.4V442.14H1430.28zM1447.4 442.14H1464.52V454.99H1447.4zM1464.52 454.99H1481.65V467.84H1464.52zM1464.52 467.84H1498.77V480.69H1464.52zM1481.65 480.69H1498.77V493.53H1481.65zM1498.77 493.53H1515.89V506.38H1498.77zM1515.89 506.38H1533.02V519.23H1515.89zM1515.89 519.23H1550.14V532.08H1515.89zM1533.02 532.08H1559.9V544.93H1533.02zM1550.14 544.93H1559.9V557.78H1550.14z"/>
<path fill="rgb(163,163,163)" shape-rendering="crispEdges" d="M1122.06 108.07H1156.31V120.92H1122.06zM1139.18 120.92H1156.31V133.77H1139.18zM1156.31 133.77H1173.43V146.62H1156.31zM1173.43 146.62H1190.55V159.47H1173.43zM1173.43 159.47H1207.68V172.32H1173.43zM1190.55 172.32H1207.68V185.17H1190.55zM1207.68 185.17H1224.8V198.01H1207.68zM1224.8 198.01H1241.92V210.86H1224.8zM1224.8 210.86H1259.05V223.71H1224.8zM1241.92 223.71H1259.05V236.56H1241.92zM1259.05 236.56H1276.17V249.41H1259.05zM1276.17 249.41H1293.29V262.26H1276.17zM1276.17 262.26H1310.42V275.11H1276.17zM1293.29 275.11H1327.54V287.96H1293.29zM1310.42 287.96H1327.54V300.8H1310.42zM1327.54 300.8H1344.66V313.65H1327.54zM1344.66 313.65H1361.78V326.5H1344.66zM1344.66 326.5H1378.91V339.35H1344.66zM1361.78 339.35H1378.91V352.2H1361.78zM1378.91 352.2H1396.03V365.05H1378.91zM1396.03 365.05H1413.15V377.9H1396.03zM1396.03 377.9H1430.28V390.74H1396.03zM1413.15 390.74H1430.28V403.59H1413.15zM1430.28 403.59H1447.4V416.44H1430.28zM1447.4 416.44H1464.52V429.29H1447.4zM1447.4 429.29H1481.65V442.14H1447.4zM1464.52 442.14H1481.65V454.99H1464.52zM1481.65 454.99H1498.77V467.84H1481.65zM1498.77 467.84H1515.89V480.69H1498.77zM1498.77 480.69H1533.02V493.53H1498.77zM1515.89 493.53H1550.14V506.38H1515.89zM1533.02 506.38H1550.14V519.23H1533.02zM1550.14 519.23H1559.9V532.08H1550.14z"/>
<path fill="rgb(168,168,168)" shape-rendering="crispEdges" d="M1139.18 95.22H1156.31V108.07H1139.18zM1156.31 108.07H1173.43V120.92H1156.31zM1156.31 120.92H1190.55V133.77H1156.31zM1173.43 133.77H1190.55V146.62H1173.43zM1190.55 146.62H1207.68V159.47H1190.55zM1207.68 159.47H1224.8V172.32H1207.68zM1207.68 172.32H1224.8V185.17H1207.68zM1241.92 185.17H1259.05V198.01H1241.92zM1241.92 198.01H1259.05V210.86H1241.92zM1259.05 210.86H1276.17V223.71H1259.05zM1259.05 223.71H1293.29V236.56H1259.05zM1276.17 236.56H1310.42V249.41H1276.17zM1293.29 249.41H1310.42V262.26H1293.29zM1310.42 262.26H1327.54V275.11H1310.42zM1327.54 275.11H1344.66V287.96H1327.54zM1327.54 287.96H1361.78V300.8H1327.54zM1344.66 300.8H1361.78V313.65H1344.66zM1361.78 313.65H1378.91V326.5H1361.78zM1378.91 326.5H1396.03V339.35H1378.91zM1378.91 339.35H1413.15V352.2H1378.91zM1396.03 352.2H1413.15V365.05H1396.03zM1413.15 365.05H1430.28V377.9H1413.15zM1430.28 377.9H1447.4V390.74H1430.28zM1430.28 390.74H1464.52V403.59H1430.28zM1447.4 403.59H1481.65V416.44H1447.4zM1464.52 416.44H1481.65V429.29H1464.52zM1481.65 429.29H1498.77V442.14H1481.65zM1481.65 442.14H1515.89V454.99H1481.65zM1498.77 454.99H1533.02V467.84H1498.77zM1515.89 467.84H1533.02V480.69H1515.89zM1533.02 480.69H1550.14V493.53H1533.02zM1550.14 493.53H1559.9V506.38H1550.14zM1550.14 506.38H1559.9V519.23H1550.14z"/>
<path fill="rgb(173,173,173)" shape-rendering="crispEdges" d="M1156.31 95.22H1173.43V108.07H1156.31zM1173.43 108.07H1190.55V120.92H1173.43zM1190.55 120.92H1207.68V133.77H1190.55zM1190.55 133.77H1224.8V146.62H1190.55zM1207.68 146.62H1224.8V159.47H1207.68zM1259.05 185.17H1276.17V198.01H1259.05zM1259.05 198.01H1293.29V210.86H1259.05zM1276.17 210.86H1293.29V223.71H1276.17zM1293.29 223.71H1310.42V236.56H1293.29zM1310.42 236.56H1327.54V249.41H1310.42zM1310.42 249.41H1344.66V262.26H1310.42zM1327.54 262.26H1344.66V275.11H1327.54zM1344.66 275.11H1361.78V287.96H1344.66zM1361.78 287.96H1378.91V300.8H1361.78zM1361.78 300.8H1396.03V313.65H1361.78zM1378.91 313.65H1396.03V326.5H1378.91zM1396.03 326.5H1413.15V339.35H1396.03zM1413.15 339.35H1430.28V352.2H1413.15zM1413.15 352.2H1447.4V365.05H1413.15zM1430.28 365.05H1464.52V377.9H1430.28zM1447.4 377.9H1464.52V390.74H1447.4zM1464.52 390.74H1481.65V403.59H1464.52zM1481.65 403.59H1498.77V416.44H1481.65zM1481.65 416.44H1515.89V429.29H1481.65zM1498.77 429.29H1515.89V442.14H1498.77zM1515.89 442.14H1533.02V454.99H1515.89zM1533.02 454.99H1550.14V467.84H1533.02zM1533.02 467.84H1559.9V480.69H1533.02zM1550.14 480.69H1559.9V493.53H1550.14z"/>
<path fill="rgb(179,179,179)" shape-rendering="crispEdges" d="M1173.43 95.22H1190.55V108.07H1173.43zM1190.55 108.07H1224.8V120.92H1190.55zM1207.68 120.92H1224.8V133.77H1207.68zM1276.17 185.17H1293.29V198.01H1276.17zM1293.29 198.01H1310.42V210.86H1293.29zM1293.29 210.86H1327.54V223.71H1293.29zM1310.42 223.71H1327.54V236.56H1310.42zM1327.54 236.56H1344.66V249.41H1327.54zM1344.66 249.41H1361.78V262.26H1344.66zM1344.66 262.26H1378.91V275.11H1344.66zM1361.78 275.11H1378.91V287.96H1361.78zM1378.91 287.96H1396.03V300.8H1378.91zM1396.03 300.8H1413.15V313.65H1396.03zM1396.03 313.65H1430.28V326.5H1396.03zM1413.15 326.5H1447.4V339.35H1413.15zM1430.28 339.35H1447.4V352.2H1430.28zM1447.4 352.2H1464.52V365.05H1447.4zM1464.52 365.05H1481.65V377.9H1464.52zM1464.52 377.9H1498.77V390.74H1464.52zM1481.65 390.74H1498.77V403.59H1481.65zM1498.77 403.59H1515.89V416.44H1498.77zM1515.89 416.44H1533.02V429.29H1515.89zM1515.89 429.29H1550.14V442.14H1515.89zM1533.02 442.14H1550.14V454.99H1533.02zM1550.14 454.99H1559.9V467.84H1550.14z"/>
<path fill="rgb(184,184,184)" shape-rendering="crispEdges" d="M1207.68 95.22H1224.8V108.07H1207.68zM1224.8 108.07H1241.92V120.92H1224.8zM1224.8 120.92H1259.05V133.77H1224.8zM1276.17 172.32H1310.42V185.17H1276.17zM1293.29 185.17H1310.42V198.01H1293.29zM1310.42 198.01H1327.54V210.86H1310.42zM1327.54 210.86H1344.66V223.71H1327.54zM1327.54 223.71H1361.78V236.56H1327.54zM1344.66 236.56H1378.91V249.41H1344.66zM1361.78 249.41H1378.91V262.26H1361.78zM1378.91 262.26H1396.03V275.11H1378.91zM1378.91 275.11H1413.15V287.96H1378.91zM1396.03 287.96H1430.28V300.8H1396.03zM1413.15 300.8H1430.28V313.65H1413.15zM1430.28 313.65H1447.4V326.5H1430.28zM1447.4 326.5H1464.52V339.35H1447.4zM1447.4 339.35H1481.65V352.2H1447.4zM1464.52 352.2H1481.65V365.05H1464.52zM1481.65 365.05H1498.77V377.9H1481.65zM1498.77 377.9H1515.89V390.74H1498.77zM1498.77 390.74H1533.02V403.59H1498.77zM1515.89 403.59H1533.02V416.44H1515.89zM1533.02 416.44H1550.14V429.29H1533.02zM1550.14 429.29H1559.9V442.14H1550.14zM1550.14 442.14H1559.9V454.99H1550.14z"/>
<path fill="rgb(189,189,189)" shape-rendering="crispEdges" d="M1207.68 87.6H1241.92V95.22H1207.68zM1224.8 95.22H1241.92V108.07H1224.8zM1241.92 108.07H1259.05V120.92H1241.92zM1259.05 120.92H1276.17V133.77H1259.05zM1293.29 159.47H1310.42V172.32H1293.29zM1310.42 172.32H1327.54V185.17H1310.42zM1310.42 185.17H1344.66V198.01H1310.42zM1327.54 198.01H1361.78V210.86H1327.54zM1344.66 210.86H1361.78V223.71H1344.66zM1361.78 223.71H1378.91V236.56H1361.78zM1378.91 236.56H1396.03V249.41H1378.91zM1378.91 249.41H1413.15V262.26H1378.91zM1396.03 262.26H1413.15V275.11H1396.03zM1413.15 275.11H1430.28V287.96H1413.15zM1430.28 287.96H1447.4V300.8H1430.28zM1430.28 300.8H1464.52V313.65H1430.28zM1447.4 313.65H1464.52V326.5H1447.4zM1464.52 326.5H1481.65V339.35H1464.52zM1481.65 339.35H1498.77V352.2H1481.65zM1481.65 352.2H1515.89V365.05H1481.65zM1498.77 365.05H1515.89V377.9H1498.77zM1515.89 377.9H1533.02V390.74H1515.89zM1533.02 390.74H1550.14V403.59H1533.02zM1533.02 403.59H1559.9V416.44H1533.02zM1550.14 416.44H1559.9V429.29H1550.14z"/>
<path fill="rgb(194,194,194)" shape-rendering="crispEdges" d="M1241.92 87.6H1259.05V95.22H1241.92zM1241.92 95.22H1276.17V108.07H1241.92zM1259.05 108.07H1293.29V120.92H1259.05zM1276.17 120.92H1293.29V133.77H1276.17zM1310.42 146.62H1327.54V159.47H1310.42zM1310.42 159.47H1344.66V172.32H1310.42zM1327.54 172.32H1344.66V185.17H1327.54zM1344.66 185.17H1361.78V198.01H1344.66zM1361.78 198.01H1378.91V210.86H1361.78zM1361.78 210.86H1396.03V223.71H1361.78zM1378.91 223.71H1396.03V236.56H1378.91zM1396.03 236.56H1413.15V249.41H1396.03zM1413.15 249.41H1430.28V262.26H1413.15zM1413.15 262.26H1447.4V275.11H1413.15zM1430.28 275.11H1447.4V287.96H1430.28zM1447.4 287.96H1464.52V300.8H1447.4zM1464.52 300.8H1481.65V313.65H1464.52zM1464.52 313.65H1498.77V326.5H1464.52zM1481.65 326.5H1498.77V339.35H1481.65zM1498.77 339.35H1515.89V352.2H1498.77zM1515.89 352.2H1533.02V365.05H1515.89zM1515.89 365.05H1550.14V377.9H1515.89zM1533.02 377.9H1559.9V390.74H1533.02zM1550.14 390.74H1559.9V403.59H1550.14z"/>
<path fill="rgb(199,199,199)" shape-rendering="crispEdges" d="M1259.05 87.6H1276.17V95.22H1259.05zM1276.17 95.22H1293.29V108.07H1276.17zM1293.29 108.07H1310.42V120.92H1293.29zM1293.29 120.92H1310.42V133.77H1293.29zM1327.54 146.62H1344.66V159.47H1327.54zM1344.66 159.47H1361.78V172.32H1344.66zM1344.66 172.32H1378.91V185.17H1344.66zM1361.78 185.17H1378.91V198.01H1361.78zM1378.91 198.01H1396.03V210.86H1378.91zM1396.03 210.86H1413.15V223.71H1396.03zM1396.03 223.71H1430.28V236.56H1396.03zM1413.15 236.56H1430.28V249.41H1413.15zM1430.28 249.41H1447.4V262.26H1430.28zM1447.4 262.26H1464.52V275.11H1447.4zM1447.4 275.11H1481.65V287.96H1447.4zM1464.52 287.96H1498.77V300.8H1464.52zM1481.65 300.8H1498.77V313.65H1481.65zM1498.77 313.65H1515.89V326.5H1498.77zM1498.77 326.5H1533.02V339.35H1498.77zM1515.89 339.35H1550.14V352.2H1515.89zM1533.02 352.2H1550.14V365.05H1533.02zM1550.14 365.05H1559.9V377.9H1550.14z"/>
<path fill="rgb(204,204,204)" shape-rendering="crispEdges" d="M1276.17 87.6H1310.42V95.22H1276.17zM1293.29 95.22H1310.42V108.07H1293.29zM1310.42 108.07H1327.54V120.92H1310.42zM1344.66 146.62H1361.78V159.47H1344.66zM1361.78 159.47H1378.91V172.32H1361.78zM1378.91 172.32H1396.03V185.17H1378.91zM1378.91 185.17H1413.15V198.01H1378.91zM1396.03 198.01H1413.15V210.86H1396.03zM1413.15 210.86H1430.28V223.71H1413.15zM1430.28 223.71H1447.4V236.56H1430.28zM1430.28 236.56H1464.52V249.41H1430.28zM1447.4 249.41H1481.65V262.26H1447.4zM1464.52 262.26H1481.65V275.11H1464.52zM1481.65 275.11H1498.77V287.96H1481.65zM1498.77 287.96H1515.89V300.8H1498.77zM1498.77 300.8H1533.02V313.65H1498.77zM1515.89 313.65H1533.02V326.5H1515.89zM1533.02 326.5H1550.14V339.35H1533.02zM1550.14 339.35H1559.9V352.2H1550.14zM1550.14 352.2H1559.9V365.05H1550.14z"/>
<path fill="rgb(209,209,209)" shape-rendering="crispEdges" d="M1310.42 87.6H1327.54V95.22H1310.42zM1310.42 95.22H1344.66V108.07H1310.42zM1361.78 146.62H1378.91V159.47H1361.78zM1378.91 159.47H1396.03V172.32H1378.91zM1396.03 172.32H1413.15V185.17H1396.03zM1413.15 185.17H1430.28V198.01H1413.15zM1413.15 198.01H1447.4V210.86H1413.15zM1430.28 210.86H1464.52V223.71H1430.28zM1447.4 223.71H1464.52V236.56H1447.4zM1464.52 236.56H1481.65V249.41H1464.52zM1481.65 249.41H1498.77V262.26H1481.65zM1481.65 262.26H1515.89V275.11H1481.65zM1498.77 275.11H1515.89V287.96H1498.77zM1515.89 287.96H1533.02V300.8H1515.89zM1533.02 300.8H1550.14V313.65H1533.02zM1533.02 313.65H1559.9V326.5H1533.02zM1550.14 326.5H1559.9V339.35H1550.14z"/>
<path fill="rgb(214,214,214)" shape-rendering="crispEdges" d="M1327.54 87.6H1344.66V95.22H1327.54zM1413.15 172.32H1447.4V185.17H1413.15zM1430.28 185.17H1447.4V198.01H1430.28zM1447.4 198.01H1464.52V210.86H1447.4zM1464.52 210.86H1481.65V223.71H1464.52zM1464.52 223.71H1498.77V236.56H1464.52zM1481.65 236.56H1498.77V249.41H1481.65zM1498.77 249.41H1515.89V262.26H1498.77zM1515.89 262.26H1533.02V275.11H1515.89zM1515.89 275.11H1550.14V287.96H1515.89zM1533.02 287.96H1550.14V300.8H1533.02zM1550.14 300.8H1559.9V313.65H1550.14z"/>
<path fill="rgb(219,219,219)" shape-rendering="crispEdges" d="M1447.4 172.32H1464.52V185.17H1447.4zM1447.4 185.17H1481.65V198.01H1447.4zM1464.52 198.01H1481.65V210.86H1464.52zM1481.65 210.86H1498.77V223.71H1481.65zM1498.77 223.71H1515.89V236.56H1498.77zM1498.77 236.56H1533.02V249.41H1498.77zM1515.89 249.41H1533.02V262.26H1515.89zM1533.02 262.26H1550.14V275.11H1533.02zM1550.14 275.11H1559.9V287.96H1550.14zM1550.14 287.96H1559.9V300.8H1550.14z"/>
<path fill="rgb(224,224,224)" shape-rendering="crispEdges" d="M1481.65 185.17H1498.77V198.01H1481.65zM1481.65 198.01H1515.89V210.86H1481.65zM1498.77 210.86H1533.02V223.71H1498.77zM1515.89 223.71H1533.02V236.56H1515.89zM1533.02 236.56H1550.14V249.41H1533.02zM1533.02 249.41H1559.9V262.26H1533.02zM1550.14 262.26H1559.9V275.11H1550.14z"/>
<path fill="rgb(230,230,230)" shape-rendering="crispEdges" d="M1481.65 159.47H1498.77V172.32H1481.65zM1498.77 172.32H1515.89V185.17H1498.77zM1498.77 185.17H1515.89V198.01H1498.77zM1515.89 198.01H1533.02V210.86H1515.89zM1533.02 210.86H1550.14V223.71H1533.02zM1533.02 223.71H1559.9V236.56H1533.02zM1550.14 236.56H1559.9V249.41H1550.14z"/>
<path fill="rgb(235,235,235)" shape-rendering="crispEdges" d="M1481.65 146.62H1498.77V159.47H1481.65zM1498.77 159.47H1515.89V172.32H1498.77zM1515.89 172.32H1533.02V185.17H1515.89zM1515.89 185.17H1550.14V198.01H1515.89zM1533.02 198.01H1550.14V210.86H1533.02zM1550.14 210.86H1559.9V223.71H1550.14z"/>
<path fill="rgb(240,240,240)" shape-rendering="crispEdges" d="M1498.77 133.77H1515.89V146.62H1498.77zM1498.77 146.62H1533.02V159.47H1498.77zM1515.89 159.47H1533.02V172.32H1515.89zM1533.02 172.32H1550.14V185.17H1533.02zM1550.14 185.17H1559.9V198.01H1550.14zM1550.14 198.01H1559.9V210.86H1550.14z"/>
<path fill="rgb(245,245,245)" shape-rendering="crispEdges" d="M1498.77 120.92H1515.89V133.77H1498.77zM1515.89 133.77H1533.02V146.62H1515.89zM1533.02 146.62H1550.14V159.47H1533.02zM1533.02 159.47H1559.9V172.32H1533.02zM1550.14 172.32H1559.9V185.17H1550.14z"/>
<path fill="rgb(250,250,250)" shape-rendering="crispEdges" d="M1515.89 108.07H1533.02V120.92H1515.89zM1515.89 120.92H1550.14V133.77H1515.89zM1533.02 133.77H1559.9V146.62H1533.02zM1550.14 146.62H1559.9V159.47H1550.14z"/>
<clipPath id="clipc"><path d="M889.7 87.6H985.08V95.22H889.7zM1207.68 87.6H1344.66V95.22H1207.68zM889.7 95.22H985.08V108.07H889.7zM1139.18 95.22H1190.55V108.07H1139.18zM1207.68 95.22H1344.66V108.07H1207.68zM889.7 108.07H985.08V120.92H889.7zM1122.06 108.07H1327.54V120.92H1122.06zM1515.89 108.07H1533.02V120.92H1515.89zM889.7 120.92H985.08V133.77H889.7zM1104.94 120.92H1310.42V133.77H1104.94zM1498.77 120.92H1550.14V133.77H1498.77zM889.7 133.77H967.95V146.62H889.7zM1104.94 133.77H1224.8V146.62H1104.94zM1498.77 133.77H1559.9V146.62H1498.77zM899.46 146.62H933.71V159.47H899.46zM1070.69 146.62H1224.8V159.47H1070.69zM1310.42 146.62H1378.91V159.47H1310.42zM1481.65 146.62H1559.9V159.47H1481.65zM1053.57 159.47H1224.8V172.32H1053.57zM1293.29 159.47H1396.03V172.32H1293.29zM1481.65 159.47H1559.9V172.32H1481.65zM1036.45 172.32H1224.8V185.17H1036.45zM1276.17 172.32H1464.52V185.17H1276.17zM1498.77 172.32H1559.9V185.17H1498.77zM889.7 185.17H950.83V198.01H889.7zM1036.45 185.17H1224.8V198.01H1036.45zM1241.92 185.17H1559.9V198.01H1241.92zM889.7 198.01H1559.9V210.86H889.7zM889.7 210.86H1559.9V223.71H889.7zM889.7 223.71H1559.9V236.56H889.7zM889.7 236.56H1559.9V249.41H889.7zM889.7 249.41H1559.9V262.26H889.7zM889.7 262.26H1190.55V275.11H889.7zM1207.68 262.26H1559.9V275.11H1207.68zM889.7 275.11H1190.55V287.96H889.7zM1207.68 275.11H1559.9V287.96H1207.68zM889.7 287.96H1559.9V300.8H889.7zM889.7 300.8H1559.9V313.65H889.7zM889.7 313.65H1559.9V326.5H889.7zM889.7 326.5H1559.9V339.35H889.7zM889.7 339.35H1559.9V352.2H889.7zM889.7 352.2H1559.9V365.05H889.7zM889.7 365.05H1559.9V377.9H889.7zM889.7 377.9H1559.9V390.74H889.7zM889.7 390.74H1559.9V403.59H889.7zM889.7 403.59H1559.9V416.44H889.7zM889.7 416.44H1559.9V429.29H889.7zM889.7 429.29H1559.9V442.14H889.7zM889.7 442.14H1559.9V454.99H889.7zM889.7 454.99H1559.9V467.84H889.7zM889.7 467.84H1559.9V480.69H889.7zM889.7 480.69H1559.9V493.53H889.7zM889.7 493.53H1207.68V506.38H889.7zM1224.8 493.53H1559.9V506.38H1224.8zM889.7 506.38H1139.18V519.23H889.7zM1156.31 506.38H1173.43V519.23H1156.31zM1241.92 506.38H1559.9V519.23H1241.92zM889.7 519.23H1156.31V532.08H889.7zM1224.8 519.23H1559.9V532.08H1224.8zM889.7 532.08H1190.55V544.93H889.7zM1224.8 532.08H1559.9V544.93H1224.8zM889.7 544.93H1559.9V557.78H889.7zM889.7 557.78H1559.9V570.63H889.7zM889.7 570.63H1559.9V583.48H889.7zM889.7 583.48H1559.9V591.1H889.7z"/></clipPath>
<g stroke="#fff" stroke-opacity="0.12" stroke-width="1.7">
<line x1="968" y1="198" x2="968" y2="589.9"/>
<line x1="985.1" y1="198" x2="985.1" y2="589.9"/>
<line x1="1002.2" y1="198" x2="1002.2" y2="589.9"/>
<line x1="1156.3" y1="198" x2="1156.3" y2="589.9"/>
<line x1="1173.4" y1="198" x2="1173.4" y2="589.9"/>
<line x1="1327.6" y1="198" x2="1327.6" y2="589.9"/>
<line x1="1344.7" y1="198" x2="1344.7" y2="589.9"/>
<line x1="1361.8" y1="198" x2="1361.8" y2="589.9"/>
<line x1="1515.9" y1="198" x2="1515.9" y2="589.9"/>
<line x1="1533" y1="198" x2="1533" y2="589.9"/>
<line x1="890.9" y1="210.9" x2="1558.7" y2="210.9"/>
<line x1="890.9" y1="249.4" x2="1558.7" y2="249.4"/>
<line x1="890.9" y1="288" x2="1558.7" y2="288"/>
<line x1="890.9" y1="300.8" x2="1558.7" y2="300.8"/>
<line x1="890.9" y1="339.4" x2="1558.7" y2="339.4"/>
<line x1="890.9" y1="377.9" x2="1558.7" y2="377.9"/>
</g>
<line x1="890.9" y1="589.4" x2="1558.7" y2="589.4" stroke="#000" stroke-opacity="0.12" stroke-width="1.2"/>
<g clip-path="url(#clipc)" fill="none" stroke="rgb(61,180,25)" stroke-width="2.1" stroke-opacity="0.7" stroke-linecap="butt">
<path d="M890.9 567.49L913.69 589.9"/>
<path d="M890.9 472.67L950.3 531.06M978.3 558.59L1010.15 589.9"/>
<path d="M890.9 377.85L950.3 436.24M978.3 463.77L1106.61 589.9"/>
<path d="M890.9 283.03L950.3 341.42M978.3 368.95L1203.07 589.9"/>
<path d="M894.33 191.59L950.3 246.6M978.3 274.13L1199.12 491.19M1234.18 525.66L1256.5 547.6M1284.5 575.12L1299.53 589.9"/>
<path d="M890.9 93.39L922 123.97M1003.86 204.44L1342.6 537.42M1370.6 564.94L1395.99 589.9"/>
<path d="M1085.9 190.26L1492.45 589.9"/>
<path d="M1145.3 153.83L1558.7 560.2"/>
<path d="M1201.75 114.5L1216.24 128.74M1280.17 191.59L1291.3 202.53M1319.3 230.05L1541.58 448.55M1541.59 448.56L1558.7 465.38"/>
<path d="M1272.07 88.8L1280 96.6M1337.42 153.04L1349 164.43M1377 191.95L1507.33 320.07M1507.34 320.08L1558.7 370.56"/>
<path d="M1473.09 191.59L1533 250.48"/>
<path d="M1507.33 130.43L1532.7 155.36"/>
</g>
<text transform="translate(964.3,544.83) rotate(44.51)" text-anchor="middle" font-size="10.5" style="fill:rgb(61,180,25);fill-opacity:0.8" dy="3.6">-200</text>
<text transform="translate(964.3,450.01) rotate(44.51)" text-anchor="middle" font-size="10.5" style="fill:rgb(61,180,25);fill-opacity:0.8" dy="3.6">-150</text>
<text transform="translate(964.3,355.19) rotate(44.51)" text-anchor="middle" font-size="10.5" style="fill:rgb(61,180,25);fill-opacity:0.8" dy="3.6">-100</text>
<text transform="translate(964.3,260.37) rotate(44.51)" text-anchor="middle" font-size="10.5" style="fill:rgb(61,180,25);fill-opacity:0.8" dy="3.6">-50</text>
<text transform="translate(1270.5,561.36) rotate(44.51)" text-anchor="middle" font-size="10.5" style="fill:rgb(61,180,25);fill-opacity:0.8" dy="3.6">-50</text>
<text transform="translate(936,137.73) rotate(44.51)" text-anchor="middle" font-size="10.5" style="fill:rgb(61,180,25);fill-opacity:0.8" dy="3.6">0</text>
<text transform="translate(1356.6,551.18) rotate(44.51)" text-anchor="middle" font-size="10.5" style="fill:rgb(61,180,25);fill-opacity:0.8" dy="3.6">0</text>
<text transform="translate(1071.9,176.5) rotate(44.51)" text-anchor="middle" font-size="10.5" style="fill:rgb(61,180,25);fill-opacity:0.8" dy="3.6">50</text>
<text transform="translate(1131.3,140.07) rotate(44.51)" text-anchor="middle" font-size="10.5" style="fill:rgb(61,180,25);fill-opacity:0.8" dy="3.6">100</text>
<text transform="translate(1305.3,216.29) rotate(44.51)" text-anchor="middle" font-size="10.5" style="fill:rgb(61,180,25);fill-opacity:0.8" dy="3.6">150</text>
<text transform="translate(1294,110.36) rotate(44.51)" text-anchor="middle" font-size="10.5" style="fill:rgb(61,180,25);fill-opacity:0.8" dy="3.6">200</text>
<text transform="translate(1363,178.19) rotate(44.51)" text-anchor="middle" font-size="10.5" style="fill:rgb(61,180,25);fill-opacity:0.8" dy="3.6">200</text>
<text transform="translate(1547,264.24) rotate(44.51)" text-anchor="middle" font-size="10.5" style="fill:rgb(61,180,25);fill-opacity:0.8" dy="3.6">250</text>
<text transform="translate(1546.7,169.13) rotate(44.51)" text-anchor="middle" font-size="10.5" style="fill:rgb(61,180,25);fill-opacity:0.8" dy="3.6">300</text>
<g fill="#1a1a1a" fill-opacity="0.85">
<circle cx="920.1" cy="104.8" r="1.25"/>
<circle cx="920.1" cy="234.9" r="1.25"/>
<circle cx="920.1" cy="260" r="1.25"/>
<circle cx="920.1" cy="269.2" r="1.25"/>
<circle cx="920.1" cy="360.2" r="1.25"/>
<circle cx="920.1" cy="413.8" r="1.25"/>
<circle cx="920.1" cy="487.9" r="1.25"/>
<circle cx="920.1" cy="547.4" r="1.25"/>
<circle cx="920.1" cy="569" r="1.25"/>
<circle cx="970.6" cy="308" r="1.25"/>
<circle cx="970.6" cy="321" r="1.25"/>
<circle cx="970.6" cy="335.6" r="1.25"/>
<circle cx="970.6" cy="341.2" r="1.25"/>
<circle cx="970.6" cy="365.8" r="1.25"/>
<circle cx="970.6" cy="408.6" r="1.25"/>
<circle cx="970.6" cy="419.7" r="1.25"/>
<circle cx="970.6" cy="425.5" r="1.25"/>
<circle cx="970.6" cy="434.9" r="1.25"/>
<circle cx="970.6" cy="442.6" r="1.25"/>
<circle cx="970.6" cy="465.6" r="1.25"/>
<circle cx="970.6" cy="474.6" r="1.25"/>
<circle cx="970.6" cy="482.3" r="1.25"/>
<circle cx="970.6" cy="493.8" r="1.25"/>
<circle cx="970.6" cy="573.5" r="1.25"/>
<circle cx="978.3" cy="241.5" r="1.25"/>
<circle cx="978.3" cy="328.5" r="1.25"/>
<circle cx="978.3" cy="345.6" r="1.25"/>
<circle cx="978.3" cy="393.6" r="1.25"/>
<circle cx="978.3" cy="414.9" r="1.25"/>
<circle cx="978.3" cy="441.6" r="1.25"/>
<circle cx="978.3" cy="448.3" r="1.25"/>
<circle cx="978.3" cy="470.8" r="1.25"/>
<circle cx="978.3" cy="512.5" r="1.25"/>
<circle cx="978.3" cy="576.2" r="1.25"/>
<circle cx="1066" cy="233.6" r="1.25"/>
<circle cx="1066" cy="283.4" r="1.25"/>
<circle cx="1066" cy="331.8" r="1.25"/>
<circle cx="1066" cy="340.8" r="1.25"/>
<circle cx="1066" cy="355" r="1.25"/>
<circle cx="1066" cy="400.7" r="1.25"/>
<circle cx="1066" cy="417.2" r="1.25"/>
<circle cx="1066" cy="433.2" r="1.25"/>
<circle cx="1066" cy="504.6" r="1.25"/>
<circle cx="1066" cy="585.6" r="1.25"/>
<circle cx="1076.4" cy="277.6" r="1.25"/>
<circle cx="1076.4" cy="328.9" r="1.25"/>
<circle cx="1076.4" cy="331.4" r="1.25"/>
<circle cx="1076.4" cy="435.9" r="1.25"/>
<circle cx="1076.4" cy="451.6" r="1.25"/>
<circle cx="1076.4" cy="458.3" r="1.25"/>
<circle cx="1076.4" cy="465.6" r="1.25"/>
<circle cx="1076.4" cy="488.1" r="1.25"/>
<circle cx="1076.4" cy="578.3" r="1.25"/>
<circle cx="1076.4" cy="582.5" r="1.25"/>
<circle cx="1100.6" cy="194.2" r="1.25"/>
<circle cx="1100.6" cy="338.7" r="1.25"/>
<circle cx="1100.6" cy="364.8" r="1.25"/>
<circle cx="1100.6" cy="384" r="1.25"/>
<circle cx="1100.6" cy="397.8" r="1.25"/>
<circle cx="1100.6" cy="401.3" r="1.25"/>
<circle cx="1100.6" cy="454.1" r="1.25"/>
<circle cx="1100.6" cy="461.4" r="1.25"/>
<circle cx="1100.6" cy="547.6" r="1.25"/>
<circle cx="1165.7" cy="147" r="1.25"/>
<circle cx="1165.7" cy="223.8" r="1.25"/>
<circle cx="1165.7" cy="327.9" r="1.25"/>
<circle cx="1165.7" cy="352.9" r="1.25"/>
<circle cx="1165.7" cy="408" r="1.25"/>
<circle cx="1165.7" cy="444.1" r="1.25"/>
<circle cx="1165.7" cy="463.1" r="1.25"/>
<circle cx="1165.7" cy="582.9" r="1.25"/>
<circle cx="1272.9" cy="238.5" r="1.25"/>
<circle cx="1272.9" cy="272.6" r="1.25"/>
<circle cx="1272.9" cy="300" r="1.25"/>
<circle cx="1272.9" cy="390.3" r="1.25"/>
<circle cx="1272.9" cy="419" r="1.25"/>
<circle cx="1272.9" cy="423.5" r="1.25"/>
<circle cx="1272.9" cy="433.3" r="1.25"/>
<circle cx="1272.9" cy="567.6" r="1.25"/>
<circle cx="1286" cy="302.2" r="1.25"/>
<circle cx="1286" cy="320.1" r="1.25"/>
<circle cx="1286" cy="346" r="1.25"/>
<circle cx="1286" cy="379.9" r="1.25"/>
<circle cx="1286" cy="389.8" r="1.25"/>
<circle cx="1286" cy="403.8" r="1.25"/>
<circle cx="1286" cy="430.9" r="1.25"/>
<circle cx="1286" cy="474.4" r="1.25"/>
<circle cx="1286" cy="554.4" r="1.25"/>
<circle cx="1286" cy="565" r="1.25"/>
<circle cx="1346" cy="193.2" r="1.25"/>
<circle cx="1346" cy="281.3" r="1.25"/>
<circle cx="1346" cy="288.6" r="1.25"/>
<circle cx="1346" cy="350.4" r="1.25"/>
<circle cx="1346" cy="356.5" r="1.25"/>
<circle cx="1346" cy="375" r="1.25"/>
<circle cx="1346" cy="403.8" r="1.25"/>
<circle cx="1346" cy="497.3" r="1.25"/>
<circle cx="1346" cy="539.1" r="1.25"/>
<circle cx="1346" cy="571.9" r="1.25"/>
<circle cx="1377.5" cy="296" r="1.25"/>
<circle cx="1377.5" cy="310.3" r="1.25"/>
<circle cx="1377.5" cy="323.1" r="1.25"/>
<circle cx="1377.5" cy="335.4" r="1.25"/>
<circle cx="1377.5" cy="362" r="1.25"/>
<circle cx="1377.5" cy="378" r="1.25"/>
<circle cx="1377.5" cy="392.2" r="1.25"/>
<circle cx="1377.5" cy="438.2" r="1.25"/>
<circle cx="1377.5" cy="460.9" r="1.25"/>
<circle cx="1377.5" cy="573.1" r="1.25"/>
<circle cx="1428.2" cy="219.4" r="1.25"/>
<circle cx="1428.2" cy="239.2" r="1.25"/>
<circle cx="1428.2" cy="288.1" r="1.25"/>
<circle cx="1428.2" cy="332.4" r="1.25"/>
<circle cx="1428.2" cy="444.4" r="1.25"/>
<circle cx="1428.2" cy="568.2" r="1.25"/>
<circle cx="1428.2" cy="573.1" r="1.25"/>
<circle cx="1428.2" cy="582.9" r="1.25"/>
<circle cx="1474.7" cy="229.5" r="1.25"/>
<circle cx="1474.7" cy="242.3" r="1.25"/>
<circle cx="1474.7" cy="280.8" r="1.25"/>
<circle cx="1474.7" cy="347.7" r="1.25"/>
<circle cx="1474.7" cy="359" r="1.25"/>
<circle cx="1474.7" cy="362.7" r="1.25"/>
<circle cx="1474.7" cy="441.2" r="1.25"/>
<circle cx="1474.7" cy="497.3" r="1.25"/>
<circle cx="1474.7" cy="549" r="1.25"/>
<circle cx="1474.7" cy="588.3" r="1.25"/>
<circle cx="1554.2" cy="158.9" r="1.25"/>
<circle cx="1554.2" cy="227.3" r="1.25"/>
<circle cx="1554.2" cy="272.6" r="1.25"/>
<circle cx="1554.2" cy="290.6" r="1.25"/>
<circle cx="1554.2" cy="296" r="1.25"/>
<circle cx="1554.2" cy="318.2" r="1.25"/>
<circle cx="1554.2" cy="323.8" r="1.25"/>
<circle cx="1554.2" cy="369.8" r="1.25"/>
<circle cx="1554.2" cy="390.3" r="1.25"/>
<circle cx="1554.2" cy="402.6" r="1.25"/>
<circle cx="1554.2" cy="416.8" r="1.25"/>
<circle cx="1554.2" cy="425.2" r="1.25"/>
<circle cx="1554.2" cy="452.3" r="1.25"/>
<circle cx="1554.2" cy="483.3" r="1.25"/>
<circle cx="1554.2" cy="508.9" r="1.25"/>
<circle cx="1554.2" cy="529.3" r="1.25"/>
<circle cx="1554.2" cy="555.9" r="1.25"/>
<circle cx="1554.2" cy="583.9" r="1.25"/>
<circle cx="891.5" cy="232.1" r="1.25"/>
<circle cx="891.5" cy="270.9" r="1.25"/>
<circle cx="891.5" cy="277.1" r="1.25"/>
<circle cx="891.5" cy="374.8" r="1.25"/>
</g>
<line x1="882.7" y1="497.74" x2="890.9" y2="497.74" stroke="#3c3c3c" stroke-width="1.5"/>
<text transform="translate(872,502.74) rotate(-90)" text-anchor="middle" class="tk" font-size="28.6">0.05</text>
<line x1="882.7" y1="399.79" x2="890.9" y2="399.79" stroke="#3c3c3c" stroke-width="1.5"/>
<text transform="translate(872,404.79) rotate(-90)" text-anchor="middle" class="tk" font-size="28.6">0.10</text>
<line x1="882.7" y1="301.84" x2="890.9" y2="301.84" stroke="#3c3c3c" stroke-width="1.5"/>
<text transform="translate(872,306.84) rotate(-90)" text-anchor="middle" class="tk" font-size="28.6">0.15</text>
<line x1="882.7" y1="203.89" x2="890.9" y2="203.89" stroke="#3c3c3c" stroke-width="1.5"/>
<text transform="translate(872,208.89) rotate(-90)" text-anchor="middle" class="tk" font-size="28.6">0.20</text>
<line x1="882.7" y1="105.94" x2="890.9" y2="105.94" stroke="#3c3c3c" stroke-width="1.5"/>
<text transform="translate(872,110.94) rotate(-90)" text-anchor="middle" class="tk" font-size="28.6">0.25</text>
<line x1="928.4" y1="589.9" x2="928.4" y2="601.9" stroke="#3c3c3c" stroke-width="1.5"/>
<text x="928.4" y="625.4" text-anchor="middle" class="tk" font-size="28.6">160</text>
<line x1="1017.77" y1="589.9" x2="1017.77" y2="601.9" stroke="#3c3c3c" stroke-width="1.5"/>
<text x="1017.77" y="625.4" text-anchor="middle" class="tk" font-size="28.6">180</text>
<line x1="1107.14" y1="589.9" x2="1107.14" y2="601.9" stroke="#3c3c3c" stroke-width="1.5"/>
<text x="1107.14" y="625.4" text-anchor="middle" class="tk" font-size="28.6">200</text>
<line x1="1196.52" y1="589.9" x2="1196.52" y2="601.9" stroke="#3c3c3c" stroke-width="1.5"/>
<text x="1196.52" y="625.4" text-anchor="middle" class="tk" font-size="28.6">220</text>
<line x1="1285.89" y1="589.9" x2="1285.89" y2="601.9" stroke="#3c3c3c" stroke-width="1.5"/>
<text x="1285.89" y="625.4" text-anchor="middle" class="tk" font-size="28.6">240</text>
<line x1="1375.26" y1="589.9" x2="1375.26" y2="601.9" stroke="#3c3c3c" stroke-width="1.5"/>
<text x="1375.26" y="625.4" text-anchor="middle" class="tk" font-size="28.6">260</text>
<line x1="1464.63" y1="589.9" x2="1464.63" y2="601.9" stroke="#3c3c3c" stroke-width="1.5"/>
<text x="1464.63" y="625.4" text-anchor="middle" class="tk" font-size="28.6">280</text>
<line x1="1554" y1="589.9" x2="1554" y2="601.9" stroke="#3c3c3c" stroke-width="1.5"/>
<text x="1554" y="625.4" text-anchor="middle" class="tk" font-size="28.6">300</text>
<rect x="890.8" y="796" width="667.5" height="501.3" fill="none" stroke="#3c3c3c" stroke-width="2"/>
<path fill="rgb(0,0,0)" shape-rendering="crispEdges" d="M889.6 1278.02H899.36V1290.87H889.6zM889.6 1290.87H933.59V1298.5H889.6z"/>
<path fill="rgb(5,5,5)" shape-rendering="crispEdges" d="M889.6 1265.17H899.36V1278.02H889.6zM899.36 1278.02H933.59V1290.87H899.36zM933.59 1290.87H984.93V1298.5H933.59z"/>
<path fill="rgb(10,10,10)" shape-rendering="crispEdges" d="M889.6 1252.31H899.36V1265.17H889.6zM899.36 1265.17H950.7V1278.02H899.36zM933.59 1278.02H984.93V1290.87H933.59zM984.93 1290.87H1036.28V1298.5H984.93z"/>
<path fill="rgb(15,15,15)" shape-rendering="crispEdges" d="M889.6 1239.46H899.36V1252.31H889.6zM899.36 1252.31H950.7V1265.17H899.36zM950.7 1265.17H984.93V1278.02H950.7zM984.93 1278.02H1036.28V1290.87H984.93zM1036.28 1290.87H1070.51V1298.5H1036.28z"/>
<path fill="rgb(20,20,20)" shape-rendering="crispEdges" d="M889.6 1226.6H916.47V1239.46H889.6zM899.36 1239.46H950.7V1252.31H899.36zM950.7 1252.31H1002.05V1265.17H950.7zM984.93 1265.17H1036.28V1278.02H984.93zM1036.28 1278.02H1087.63V1290.87H1036.28zM1070.51 1290.87H1121.86V1298.5H1070.51z"/>
<path fill="rgb(26,26,26)" shape-rendering="crispEdges" d="M889.6 1213.75H916.47V1226.6H889.6zM916.47 1226.6H950.7V1239.46H916.47zM950.7 1239.46H1002.05V1252.31H950.7zM1002.05 1252.31H1036.28V1265.17H1002.05zM1036.28 1265.17H1087.63V1278.02H1036.28zM1087.63 1278.02H1121.86V1290.87H1087.63zM1121.86 1290.87H1173.2V1298.5H1121.86z"/>
<path fill="rgb(31,31,31)" shape-rendering="crispEdges" d="M889.6 1200.9H916.47V1213.75H889.6zM916.47 1213.75H967.82V1226.6H916.47zM950.7 1226.6H1002.05V1239.46H950.7zM1002.05 1239.46H1053.4V1252.31H1002.05zM1036.28 1252.31H1087.63V1265.17H1036.28zM1087.63 1265.17H1121.86V1278.02H1087.63zM1121.86 1278.02H1173.2V1290.87H1121.86zM1173.2 1290.87H1207.43V1298.5H1173.2z"/>
<path fill="rgb(36,36,36)" shape-rendering="crispEdges" d="M889.6 1188.04H916.47V1200.9H889.6zM916.47 1200.9H967.82V1213.75H916.47zM967.82 1213.75H1002.05V1226.6H967.82zM1002.05 1226.6H1053.4V1239.46H1002.05zM1053.4 1239.46H1087.63V1252.31H1053.4zM1087.63 1252.31H1138.97V1265.17H1087.63zM1121.86 1265.17H1173.2V1278.02H1121.86zM1173.2 1278.02H1224.55V1290.87H1173.2zM1207.43 1290.87H1258.78V1298.5H1207.43z"/>
<path fill="rgb(41,41,41)" shape-rendering="crispEdges" d="M889.6 1175.19H933.59V1188.04H889.6zM916.47 1188.04H967.82V1200.9H916.47zM967.82 1200.9H1019.17V1213.75H967.82zM1002.05 1213.75H1053.4V1226.6H1002.05zM1053.4 1226.6H1087.63V1239.46H1053.4zM1087.63 1239.46H1138.97V1252.31H1087.63zM1138.97 1252.31H1173.2V1265.17H1138.97zM1173.2 1265.17H1224.55V1278.02H1173.2zM1224.55 1278.02H1258.78V1290.87H1224.55zM1258.78 1290.87H1310.13V1298.5H1258.78z"/>
<path fill="rgb(46,46,46)" shape-rendering="crispEdges" d="M889.6 1162.33H933.59V1175.19H889.6zM933.59 1175.19H967.82V1188.04H933.59zM967.82 1188.04H1019.17V1200.9H967.82zM1019.17 1200.9H1053.4V1213.75H1019.17zM1053.4 1213.75H1104.74V1226.6H1053.4zM1087.63 1226.6H1138.97V1239.46H1087.63zM1138.97 1239.46H1190.32V1252.31H1138.97zM1173.2 1252.31H1224.55V1265.17H1173.2zM1224.55 1265.17H1275.9V1278.02H1224.55zM1258.78 1278.02H1310.13V1290.87H1258.78zM1310.13 1290.87H1361.47V1298.5H1310.13z"/>
<path fill="rgb(51,51,51)" shape-rendering="crispEdges" d="M889.6 1136.63H899.36V1149.48H889.6zM889.6 1149.48H933.59V1162.33H889.6zM933.59 1162.33H984.93V1175.19H933.59zM967.82 1175.19H1019.17V1188.04H967.82zM1019.17 1188.04H1070.51V1200.9H1019.17zM1053.4 1200.9H1104.74V1213.75H1053.4zM1104.74 1213.75H1138.97V1226.6H1104.74zM1138.97 1226.6H1190.32V1239.46H1138.97zM1190.32 1239.46H1224.55V1252.31H1190.32zM1224.55 1252.31H1275.9V1265.17H1224.55zM1275.9 1265.17H1310.13V1278.02H1275.9zM1310.13 1278.02H1361.47V1290.87H1310.13zM1361.47 1290.87H1395.7V1298.5H1361.47z"/>
<path fill="rgb(56,56,56)" shape-rendering="crispEdges" d="M889.6 1123.77H899.36V1136.63H889.6zM899.36 1136.63H933.59V1149.48H899.36zM933.59 1149.48H984.93V1162.33H933.59zM984.93 1162.33H1019.17V1175.19H984.93zM1019.17 1175.19H1070.51V1188.04H1019.17zM1070.51 1188.04H1104.74V1200.9H1070.51zM1104.74 1200.9H1156.09V1213.75H1104.74zM1138.97 1213.75H1190.32V1226.6H1138.97zM1190.32 1226.6H1241.67V1239.46H1190.32zM1224.55 1239.46H1275.9V1252.31H1224.55zM1275.9 1252.31H1327.24V1265.17H1275.9zM1310.13 1265.17H1361.47V1278.02H1310.13zM1361.47 1278.02H1395.7V1290.87H1361.47zM1395.7 1290.87H1447.05V1298.5H1395.7z"/>
<path fill="rgb(61,61,61)" shape-rendering="crispEdges" d="M889.6 1110.92H899.36V1123.77H889.6zM899.36 1123.77H950.7V1136.63H899.36zM933.59 1136.63H984.93V1149.48H933.59zM984.93 1149.48H1036.28V1162.33H984.93zM1019.17 1162.33H1070.51V1175.19H1019.17zM1070.51 1175.19H1104.74V1188.04H1070.51zM1104.74 1188.04H1156.09V1200.9H1104.74zM1156.09 1200.9H1190.32V1213.75H1156.09zM1190.32 1213.75H1241.67V1226.6H1190.32zM1241.67 1226.6H1275.9V1239.46H1241.67zM1275.9 1239.46H1327.24V1252.31H1275.9zM1327.24 1252.31H1361.47V1265.17H1327.24zM1361.47 1265.17H1412.82V1278.02H1361.47zM1395.7 1278.02H1447.05V1290.87H1395.7zM1447.05 1290.87H1498.4V1298.5H1447.05z"/>
<path fill="rgb(66,66,66)" shape-rendering="crispEdges" d="M889.6 1098.07H899.36V1110.92H889.6zM899.36 1110.92H950.7V1123.77H899.36zM950.7 1123.77H984.93V1136.63H950.7zM984.93 1136.63H1036.28V1149.48H984.93zM1036.28 1149.48H1070.51V1162.33H1036.28zM1070.51 1162.33H1121.86V1175.19H1070.51zM1104.74 1175.19H1156.09V1188.04H1104.74zM1156.09 1188.04H1207.43V1200.9H1156.09zM1190.32 1200.9H1241.67V1213.75H1190.32zM1241.67 1213.75H1293.01V1226.6H1241.67zM1275.9 1226.6H1327.24V1239.46H1275.9zM1327.24 1239.46H1361.47V1252.31H1327.24zM1361.47 1252.31H1412.82V1265.17H1361.47zM1412.82 1265.17H1447.05V1278.02H1412.82zM1447.05 1278.02H1498.4V1290.87H1447.05zM1498.4 1290.87H1532.63V1298.5H1498.4z"/>
<path fill="rgb(71,71,71)" shape-rendering="crispEdges" d="M889.6 1085.21H916.47V1098.07H889.6zM899.36 1098.07H950.7V1110.92H899.36zM950.7 1110.92H1002.05V1123.77H950.7zM984.93 1123.77H1036.28V1136.63H984.93zM1036.28 1136.63H1070.51V1149.48H1036.28zM1070.51 1149.48H1121.86V1162.33H1070.51zM1121.86 1162.33H1156.09V1175.19H1121.86zM1156.09 1175.19H1207.43V1188.04H1156.09zM1207.43 1188.04H1241.67V1200.9H1207.43zM1241.67 1200.9H1293.01V1213.75H1241.67zM1293.01 1213.75H1327.24V1226.6H1293.01zM1327.24 1226.6H1378.59V1239.46H1327.24zM1361.47 1239.46H1412.82V1252.31H1361.47zM1412.82 1252.31H1464.17V1265.17H1412.82zM1447.05 1265.17H1498.4V1278.02H1447.05zM1498.4 1278.02H1549.74V1290.87H1498.4zM1532.63 1290.87H1559.5V1298.5H1532.63z"/>
<path fill="rgb(77,77,77)" shape-rendering="crispEdges" d="M889.6 1072.36H916.47V1085.21H889.6zM916.47 1085.21H950.7V1098.07H916.47zM950.7 1098.07H1002.05V1110.92H950.7zM1002.05 1110.92H1036.28V1123.77H1002.05zM1036.28 1123.77H1087.63V1136.63H1036.28zM1070.51 1136.63H1121.86V1149.48H1070.51zM1121.86 1149.48H1173.2V1162.33H1121.86zM1156.09 1162.33H1207.43V1175.19H1156.09zM1207.43 1175.19H1258.78V1188.04H1207.43zM1241.67 1188.04H1293.01V1200.9H1241.67zM1293.01 1200.9H1327.24V1213.75H1293.01zM1327.24 1213.75H1378.59V1226.6H1327.24zM1378.59 1226.6H1412.82V1239.46H1378.59zM1412.82 1239.46H1464.17V1252.31H1412.82zM1464.17 1252.31H1498.4V1265.17H1464.17zM1498.4 1265.17H1549.74V1278.02H1498.4zM1549.74 1278.02H1559.5V1290.87H1549.74z"/>
<path fill="rgb(82,82,82)" shape-rendering="crispEdges" d="M889.6 1059.5H916.47V1072.36H889.6zM916.47 1072.36H967.82V1085.21H916.47zM950.7 1085.21H1002.05V1098.07H950.7zM1002.05 1098.07H1036.28V1110.92H1002.05zM1036.28 1110.92H1087.63V1123.77H1036.28zM1087.63 1123.77H1121.86V1136.63H1087.63zM1121.86 1136.63H1173.2V1149.48H1121.86zM1173.2 1149.48H1207.43V1162.33H1173.2zM1207.43 1162.33H1258.78V1175.19H1207.43zM1258.78 1175.19H1293.01V1188.04H1258.78zM1293.01 1188.04H1344.36V1200.9H1293.01zM1327.24 1200.9H1378.59V1213.75H1327.24zM1378.59 1213.75H1429.93V1226.6H1378.59zM1412.82 1226.6H1464.17V1239.46H1412.82zM1464.17 1239.46H1515.51V1252.31H1464.17zM1498.4 1252.31H1549.74V1265.17H1498.4zM1549.74 1265.17H1559.5V1278.02H1549.74z"/>
<path fill="rgb(87,87,87)" shape-rendering="crispEdges" d="M889.6 1046.65H916.47V1059.5H889.6zM916.47 1059.5H967.82V1072.36H916.47zM967.82 1072.36H1002.05V1085.21H967.82zM1002.05 1085.21H1053.4V1098.07H1002.05zM1036.28 1098.07H1087.63V1110.92H1036.28zM1087.63 1110.92H1138.97V1123.77H1087.63zM1121.86 1123.77H1173.2V1136.63H1121.86zM1173.2 1136.63H1224.55V1149.48H1173.2zM1207.43 1149.48H1258.78V1162.33H1207.43zM1258.78 1162.33H1293.01V1175.19H1258.78zM1293.01 1175.19H1344.36V1188.04H1293.01zM1344.36 1188.04H1378.59V1200.9H1344.36zM1378.59 1200.9H1429.93V1213.75H1378.59zM1429.93 1213.75H1464.17V1226.6H1429.93zM1464.17 1226.6H1515.51V1239.46H1464.17zM1515.51 1239.46H1549.74V1252.31H1515.51zM1549.74 1252.31H1559.5V1265.17H1549.74z"/>
<path fill="rgb(92,92,92)" shape-rendering="crispEdges" d="M889.6 1033.8H933.59V1046.65H889.6zM916.47 1046.65H967.82V1059.5H916.47zM967.82 1059.5H1002.05V1072.36H967.82zM1002.05 1072.36H1053.4V1085.21H1002.05zM1053.4 1085.21H1087.63V1098.07H1053.4zM1087.63 1098.07H1138.97V1110.92H1087.63zM1138.97 1110.92H1173.2V1123.77H1138.97zM1173.2 1123.77H1224.55V1136.63H1173.2zM1224.55 1136.63H1258.78V1149.48H1224.55zM1258.78 1149.48H1310.13V1162.33H1258.78zM1293.01 1162.33H1344.36V1175.19H1293.01zM1344.36 1175.19H1395.7V1188.04H1344.36zM1378.59 1188.04H1429.93V1200.9H1378.59zM1429.93 1200.9H1481.28V1213.75H1429.93zM1464.17 1213.75H1515.51V1226.6H1464.17zM1515.51 1226.6H1559.5V1239.46H1515.51zM1549.74 1239.46H1559.5V1252.31H1549.74z"/>
<path fill="rgb(97,97,97)" shape-rendering="crispEdges" d="M889.6 1020.94H899.36V1033.8H889.6zM916.47 1020.94H933.59V1033.8H916.47zM933.59 1033.8H967.82V1046.65H933.59zM967.82 1046.65H1019.17V1059.5H967.82zM1002.05 1059.5H1053.4V1072.36H1002.05zM1053.4 1072.36H1104.74V1085.21H1053.4zM1087.63 1085.21H1138.97V1098.07H1087.63zM1138.97 1098.07H1190.32V1110.92H1138.97zM1173.2 1110.92H1224.55V1123.77H1173.2zM1224.55 1123.77H1275.9V1136.63H1224.55zM1258.78 1136.63H1310.13V1149.48H1258.78zM1310.13 1149.48H1344.36V1162.33H1310.13zM1344.36 1162.33H1395.7V1175.19H1344.36zM1395.7 1175.19H1429.93V1188.04H1395.7zM1429.93 1188.04H1481.28V1200.9H1429.93zM1481.28 1200.9H1515.51V1213.75H1481.28zM1515.51 1213.75H1559.5V1226.6H1515.51z"/>
<path fill="rgb(102,102,102)" shape-rendering="crispEdges" d="M889.6 995.23H899.36V1008.09H889.6zM889.6 1008.09H933.59V1020.94H889.6zM967.82 1033.8H1019.17V1046.65H967.82zM1019.17 1046.65H1053.4V1059.5H1019.17zM1053.4 1059.5H1104.74V1072.36H1053.4zM1104.74 1072.36H1138.97V1085.21H1104.74zM1138.97 1085.21H1190.32V1098.07H1138.97zM1190.32 1098.07H1224.55V1110.92H1190.32zM1224.55 1110.92H1275.9V1123.77H1224.55zM1275.9 1123.77H1310.13V1136.63H1275.9zM1310.13 1136.63H1361.47V1149.48H1310.13zM1344.36 1149.48H1395.7V1162.33H1344.36zM1395.7 1162.33H1447.05V1175.19H1395.7zM1429.93 1175.19H1481.28V1188.04H1429.93zM1481.28 1188.04H1532.63V1200.9H1481.28zM1515.51 1200.9H1559.5V1213.75H1515.51z"/>
<path fill="rgb(107,107,107)" shape-rendering="crispEdges" d="M889.6 982.38H899.36V995.23H889.6zM899.36 995.23H933.59V1008.09H899.36zM933.59 1008.09H984.93V1020.94H933.59zM984.93 1020.94H1002.05V1033.8H984.93zM1019.17 1033.8H1070.51V1046.65H1019.17zM1053.4 1046.65H1104.74V1059.5H1053.4zM1104.74 1059.5H1156.09V1072.36H1104.74zM1138.97 1072.36H1190.32V1085.21H1138.97zM1190.32 1085.21H1241.67V1098.07H1190.32zM1224.55 1098.07H1275.9V1110.92H1224.55zM1275.9 1110.92H1310.13V1123.77H1275.9zM1310.13 1123.77H1361.47V1136.63H1310.13zM1361.47 1136.63H1395.7V1149.48H1361.47zM1395.7 1149.48H1447.05V1162.33H1395.7zM1447.05 1162.33H1481.28V1175.19H1447.05zM1481.28 1175.19H1532.63V1188.04H1481.28zM1532.63 1188.04H1559.5V1200.9H1532.63z"/>
<path fill="rgb(112,112,112)" shape-rendering="crispEdges" d="M889.6 969.53H899.36V982.38H889.6zM899.36 982.38H950.7V995.23H899.36zM933.59 995.23H984.93V1008.09H933.59zM984.93 1008.09H1019.17V1020.94H984.93zM1036.28 1020.94H1053.4V1033.8H1036.28zM1070.51 1033.8H1104.74V1046.65H1070.51zM1104.74 1046.65H1156.09V1059.5H1104.74zM1156.09 1059.5H1190.32V1072.36H1156.09zM1190.32 1072.36H1241.67V1085.21H1190.32zM1241.67 1085.21H1275.9V1098.07H1241.67zM1275.9 1098.07H1327.24V1110.92H1275.9zM1310.13 1110.92H1361.47V1123.77H1310.13zM1361.47 1123.77H1412.82V1136.63H1361.47zM1395.7 1136.63H1447.05V1149.48H1395.7zM1447.05 1149.48H1498.4V1162.33H1447.05zM1481.28 1162.33H1532.63V1175.19H1481.28zM1532.63 1175.19H1559.5V1188.04H1532.63z"/>
<path fill="rgb(117,117,117)" shape-rendering="crispEdges" d="M889.6 956.67H899.36V969.53H889.6zM899.36 969.53H950.7V982.38H899.36zM950.7 982.38H984.93V995.23H950.7zM984.93 995.23H1036.28V1008.09H984.93zM1019.17 1008.09H1070.51V1020.94H1019.17zM1070.51 1020.94H1087.63V1033.8H1070.51zM1104.74 1033.8H1156.09V1046.65H1104.74zM1156.09 1046.65H1207.43V1059.5H1156.09zM1190.32 1059.5H1241.67V1072.36H1190.32zM1241.67 1072.36H1275.9V1085.21H1241.67zM1275.9 1085.21H1327.24V1098.07H1275.9zM1327.24 1098.07H1361.47V1110.92H1327.24zM1361.47 1110.92H1412.82V1123.77H1361.47zM1412.82 1123.77H1447.05V1136.63H1412.82zM1447.05 1136.63H1498.4V1149.48H1447.05zM1498.4 1149.48H1532.63V1162.33H1498.4zM1532.63 1162.33H1559.5V1175.19H1532.63z"/>
<path fill="rgb(122,122,122)" shape-rendering="crispEdges" d="M889.6 943.82H916.47V956.67H889.6zM899.36 956.67H950.7V969.53H899.36zM950.7 969.53H984.93V982.38H950.7zM984.93 982.38H1036.28V995.23H984.93zM1036.28 995.23H1070.51V1008.09H1036.28zM1070.51 1008.09H1104.74V1020.94H1070.51zM1138.97 1020.94H1156.09V1033.8H1138.97zM1156.09 1033.8H1207.43V1046.65H1156.09zM1207.43 1046.65H1241.67V1059.5H1207.43zM1241.67 1059.5H1293.01V1072.36H1241.67zM1275.9 1072.36H1327.24V1085.21H1275.9zM1327.24 1085.21H1378.59V1098.07H1327.24zM1361.47 1098.07H1412.82V1110.92H1361.47zM1412.82 1110.92H1464.17V1123.77H1412.82zM1447.05 1123.77H1498.4V1136.63H1447.05zM1498.4 1136.63H1532.63V1149.48H1498.4zM1532.63 1149.48H1559.5V1162.33H1532.63z"/>
<path fill="rgb(128,128,128)" shape-rendering="crispEdges" d="M889.6 930.97H916.47V943.82H889.6zM916.47 943.82H950.7V956.67H916.47zM950.7 956.67H1002.05V969.53H950.7zM984.93 969.53H1036.28V982.38H984.93zM1036.28 982.38H1087.63V995.23H1036.28zM1070.51 995.23H1121.86V1008.09H1070.51zM1121.86 1008.09H1173.2V1020.94H1121.86zM1156.09 1020.94H1173.2V1033.8H1156.09zM1190.32 1020.94H1207.43V1033.8H1190.32zM1207.43 1033.8H1241.67V1046.65H1207.43zM1241.67 1046.65H1293.01V1059.5H1241.67zM1293.01 1059.5H1327.24V1072.36H1293.01zM1327.24 1072.36H1378.59V1085.21H1327.24zM1378.59 1085.21H1412.82V1098.07H1378.59zM1412.82 1098.07H1464.17V1110.92H1412.82zM1464.17 1110.92H1498.4V1123.77H1464.17zM1498.4 1123.77H1549.74V1136.63H1498.4zM1532.63 1136.63H1559.5V1149.48H1532.63z"/>
<path fill="rgb(133,133,133)" shape-rendering="crispEdges" d="M889.6 918.11H916.47V930.97H889.6zM916.47 930.97H950.7V943.82H916.47zM950.7 943.82H1002.05V956.67H950.7zM1002.05 956.67H1036.28V969.53H1002.05zM1036.28 969.53H1087.63V982.38H1036.28zM1087.63 982.38H1121.86V995.23H1087.63zM1121.86 995.23H1173.2V1008.09H1121.86zM1173.2 1008.09H1207.43V1020.94H1173.2zM1241.67 1020.94H1258.78V1033.8H1241.67zM1241.67 1033.8H1293.01V1046.65H1241.67zM1293.01 1046.65H1344.36V1059.5H1293.01zM1327.24 1059.5H1378.59V1072.36H1327.24zM1378.59 1072.36H1429.93V1085.21H1378.59zM1412.82 1085.21H1464.17V1098.07H1412.82zM1464.17 1098.07H1498.4V1110.92H1464.17zM1498.4 1110.92H1549.74V1123.77H1498.4zM1549.74 1123.77H1559.5V1136.63H1549.74z"/>
<path fill="rgb(138,138,138)" shape-rendering="crispEdges" d="M889.6 905.26H916.47V918.11H889.6zM916.47 918.11H967.82V930.97H916.47zM950.7 930.97H1002.05V943.82H950.7zM1002.05 943.82H1053.4V956.67H1002.05zM1036.28 956.67H1087.63V969.53H1036.28zM1087.63 969.53H1138.97V982.38H1087.63zM1121.86 982.38H1173.2V995.23H1121.86zM1173.2 995.23H1207.43V1008.09H1173.2zM1207.43 1008.09H1258.78V1020.94H1207.43zM1258.78 1020.94H1275.9V1033.8H1258.78zM1293.01 1033.8H1344.36V1046.65H1293.01zM1344.36 1046.65H1378.59V1059.5H1344.36zM1378.59 1059.5H1429.93V1072.36H1378.59zM1429.93 1072.36H1464.17V1085.21H1429.93zM1464.17 1085.21H1515.51V1098.07H1464.17zM1498.4 1098.07H1549.74V1110.92H1498.4zM1549.74 1110.92H1559.5V1123.77H1549.74z"/>
<path fill="rgb(143,143,143)" shape-rendering="crispEdges" d="M889.6 892.4H916.47V905.26H889.6zM916.47 905.26H967.82V918.11H916.47zM967.82 918.11H1002.05V930.97H967.82zM1002.05 930.97H1053.4V943.82H1002.05zM1053.4 943.82H1087.63V956.67H1053.4zM1087.63 956.67H1138.97V969.53H1087.63zM1138.97 969.53H1173.2V982.38H1138.97zM1173.2 982.38H1224.55V995.23H1173.2zM1207.43 995.23H1258.78V1008.09H1207.43zM1258.78 1008.09H1310.13V1020.94H1258.78zM1310.13 1020.94H1344.36V1033.8H1310.13zM1344.36 1033.8H1395.7V1046.65H1344.36zM1378.59 1046.65H1429.93V1059.5H1378.59zM1429.93 1059.5H1464.17V1072.36H1429.93zM1464.17 1072.36H1515.51V1085.21H1464.17zM1515.51 1085.21H1549.74V1098.07H1515.51zM1549.74 1098.07H1559.5V1110.92H1549.74z"/>
<path fill="rgb(148,148,148)" shape-rendering="crispEdges" d="M916.47 892.4H933.59V905.26H916.47zM967.82 905.26H1019.17V918.11H967.82zM1002.05 918.11H1053.4V930.97H1002.05zM1053.4 930.97H1104.74V943.82H1053.4zM1087.63 943.82H1138.97V956.67H1087.63zM1138.97 956.67H1173.2V969.53H1138.97zM1173.2 969.53H1224.55V982.38H1173.2zM1224.55 982.38H1258.78V995.23H1224.55zM1258.78 995.23H1310.13V1008.09H1258.78zM1310.13 1008.09H1344.36V1020.94H1310.13zM1395.7 1033.8H1429.93V1046.65H1395.7zM1429.93 1046.65H1481.28V1059.5H1429.93zM1464.17 1059.5H1515.51V1072.36H1464.17zM1515.51 1072.36H1559.5V1085.21H1515.51zM1549.74 1085.21H1559.5V1098.07H1549.74z"/>
<path fill="rgb(153,153,153)" shape-rendering="crispEdges" d="M967.82 892.4H1019.17V905.26H967.82zM1019.17 905.26H1053.4V918.11H1019.17zM1053.4 918.11H1104.74V930.97H1053.4zM1104.74 930.97H1138.97V943.82H1104.74zM1138.97 943.82H1190.32V956.67H1138.97zM1173.2 956.67H1224.55V969.53H1173.2zM1224.55 969.53H1275.9V982.38H1224.55zM1258.78 982.38H1310.13V995.23H1258.78zM1310.13 995.23H1361.47V1008.09H1310.13zM1344.36 1008.09H1361.47V1020.94H1344.36zM1378.59 1008.09H1395.7V1020.94H1378.59zM1395.7 1020.94H1447.05V1033.8H1395.7zM1429.93 1033.8H1481.28V1046.65H1429.93zM1481.28 1046.65H1515.51V1059.5H1481.28zM1515.51 1059.5H1559.5V1072.36H1515.51z"/>
<path fill="rgb(158,158,158)" shape-rendering="crispEdges" d="M1019.17 892.4H1070.51V905.26H1019.17zM1053.4 905.26H1104.74V918.11H1053.4zM1104.74 918.11H1156.09V930.97H1104.74zM1138.97 930.97H1190.32V943.82H1138.97zM1190.32 943.82H1224.55V956.67H1190.32zM1224.55 956.67H1275.9V969.53H1224.55zM1275.9 969.53H1310.13V982.38H1275.9zM1310.13 982.38H1361.47V995.23H1310.13zM1361.47 995.23H1395.7V1008.09H1361.47zM1395.7 1008.09H1447.05V1020.94H1395.7zM1464.17 1020.94H1481.28V1033.8H1464.17zM1481.28 1033.8H1532.63V1046.65H1481.28zM1515.51 1046.65H1559.5V1059.5H1515.51z"/>
<path fill="rgb(163,163,163)" shape-rendering="crispEdges" d="M889.6 828.13H899.36V840.99H889.6zM1070.51 892.4H1087.63V905.26H1070.51zM1104.74 905.26H1156.09V918.11H1104.74zM1156.09 918.11H1190.32V930.97H1156.09zM1190.32 930.97H1241.67V943.82H1190.32zM1224.55 943.82H1275.9V956.67H1224.55zM1275.9 956.67H1327.24V969.53H1275.9zM1310.13 969.53H1361.47V982.38H1310.13zM1361.47 982.38H1412.82V995.23H1361.47zM1395.7 995.23H1447.05V1008.09H1395.7zM1447.05 1008.09H1481.28V1020.94H1447.05zM1481.28 1020.94H1498.4V1033.8H1481.28zM1532.63 1033.8H1559.5V1046.65H1532.63z"/>
<path fill="rgb(168,168,168)" shape-rendering="crispEdges" d="M889.6 815.28H899.36V828.13H889.6zM899.36 828.13H950.7V840.99H899.36zM1138.97 892.4H1156.09V905.26H1138.97zM1156.09 905.26H1190.32V918.11H1156.09zM1190.32 918.11H1241.67V930.97H1190.32zM1241.67 930.97H1275.9V943.82H1241.67zM1275.9 943.82H1327.24V956.67H1275.9zM1327.24 956.67H1361.47V969.53H1327.24zM1361.47 969.53H1412.82V982.38H1361.47zM1412.82 982.38H1447.05V995.23H1412.82zM1447.05 995.23H1498.4V1008.09H1447.05zM1481.28 1008.09H1532.63V1020.94H1481.28zM1549.74 1020.94H1559.5V1033.8H1549.74z"/>
<path fill="rgb(173,173,173)" shape-rendering="crispEdges" d="M889.6 802.43H899.36V815.28H889.6zM899.36 815.28H950.7V828.13H899.36zM950.7 828.13H984.93V840.99H950.7zM1156.09 892.4H1207.43V905.26H1156.09zM1190.32 905.26H1241.67V918.11H1190.32zM1241.67 918.11H1293.01V930.97H1241.67zM1275.9 930.97H1327.24V943.82H1275.9zM1327.24 943.82H1378.59V956.67H1327.24zM1361.47 956.67H1412.82V969.53H1361.47zM1412.82 969.53H1447.05V982.38H1412.82zM1447.05 982.38H1498.4V995.23H1447.05zM1498.4 995.23H1532.63V1008.09H1498.4zM1532.63 1008.09H1559.5V1020.94H1532.63z"/>
<path fill="rgb(179,179,179)" shape-rendering="crispEdges" d="M889.6 794.8H916.47V802.43H889.6zM899.36 802.43H950.7V815.28H899.36zM950.7 815.28H1002.05V828.13H950.7zM984.93 828.13H1036.28V840.99H984.93zM1207.43 892.4H1241.67V905.26H1207.43zM1241.67 905.26H1293.01V918.11H1241.67zM1293.01 918.11H1327.24V930.97H1293.01zM1327.24 930.97H1378.59V943.82H1327.24zM1378.59 943.82H1412.82V956.67H1378.59zM1412.82 956.67H1464.17V969.53H1412.82zM1447.05 969.53H1498.4V982.38H1447.05zM1498.4 982.38H1549.74V995.23H1498.4zM1532.63 995.23H1559.5V1008.09H1532.63z"/>
<path fill="rgb(184,184,184)" shape-rendering="crispEdges" d="M916.47 794.8H950.7V802.43H916.47zM950.7 802.43H1002.05V815.28H950.7zM1002.05 815.28H1036.28V828.13H1002.05zM1036.28 828.13H1087.63V840.99H1036.28zM1241.67 892.4H1275.9V905.26H1241.67zM1293.01 905.26H1344.36V918.11H1293.01zM1327.24 918.11H1378.59V930.97H1327.24zM1378.59 930.97H1412.82V943.82H1378.59zM1412.82 943.82H1464.17V956.67H1412.82zM1464.17 956.67H1498.4V969.53H1464.17zM1498.4 969.53H1549.74V982.38H1498.4zM1549.74 982.38H1559.5V995.23H1549.74z"/>
<path fill="rgb(189,189,189)" shape-rendering="crispEdges" d="M950.7 794.8H1002.05V802.43H950.7zM1002.05 802.43H1053.4V815.28H1002.05zM1036.28 815.28H1087.63V828.13H1036.28zM1087.63 828.13H1121.86V840.99H1087.63zM1293.01 892.4H1344.36V905.26H1293.01zM1344.36 905.26H1378.59V918.11H1344.36zM1378.59 918.11H1429.93V930.97H1378.59zM1412.82 930.97H1464.17V943.82H1412.82zM1464.17 943.82H1515.51V956.67H1464.17zM1498.4 956.67H1549.74V969.53H1498.4zM1549.74 969.53H1559.5V982.38H1549.74z"/>
<path fill="rgb(194,194,194)" shape-rendering="crispEdges" d="M1002.05 794.8H1053.4V802.43H1002.05zM1053.4 802.43H1087.63V815.28H1053.4zM1087.63 815.28H1138.97V828.13H1087.63zM1121.86 828.13H1173.2V840.99H1121.86zM1344.36 892.4H1361.47V905.26H1344.36zM1378.59 905.26H1429.93V918.11H1378.59zM1429.93 918.11H1464.17V930.97H1429.93zM1464.17 930.97H1515.51V943.82H1464.17zM1515.51 943.82H1549.74V956.67H1515.51zM1549.74 956.67H1559.5V969.53H1549.74z"/>
<path fill="rgb(199,199,199)" shape-rendering="crispEdges" d="M1053.4 794.8H1087.63V802.43H1053.4zM1087.63 802.43H1138.97V815.28H1087.63zM1138.97 815.28H1173.2V828.13H1138.97zM1173.2 828.13H1224.55V840.99H1173.2zM1395.7 892.4H1429.93V905.26H1395.7zM1429.93 905.26H1481.28V918.11H1429.93zM1464.17 918.11H1515.51V930.97H1464.17zM1515.51 930.97H1559.5V943.82H1515.51zM1549.74 943.82H1559.5V956.67H1549.74z"/>
<path fill="rgb(204,204,204)" shape-rendering="crispEdges" d="M1087.63 794.8H1138.97V802.43H1087.63zM1138.97 802.43H1190.32V815.28H1138.97zM1173.2 815.28H1224.55V828.13H1173.2zM1224.55 828.13H1275.9V840.99H1224.55zM1429.93 892.4H1481.28V905.26H1429.93zM1481.28 905.26H1515.51V918.11H1481.28zM1515.51 918.11H1559.5V930.97H1515.51z"/>
<path fill="rgb(209,209,209)" shape-rendering="crispEdges" d="M1138.97 794.8H1190.32V802.43H1138.97zM1190.32 802.43H1224.55V815.28H1190.32zM1224.55 815.28H1275.9V828.13H1224.55zM1275.9 828.13H1310.13V840.99H1275.9zM1481.28 892.4H1498.4V905.26H1481.28zM1515.51 905.26H1559.5V918.11H1515.51z"/>
<path fill="rgb(214,214,214)" shape-rendering="crispEdges" d="M1190.32 794.8H1241.67V802.43H1190.32zM1224.55 802.43H1275.9V815.28H1224.55zM1275.9 815.28H1327.24V828.13H1275.9zM1310.13 828.13H1361.47V840.99H1310.13zM1532.63 892.4H1559.5V905.26H1532.63z"/>
<path fill="rgb(219,219,219)" shape-rendering="crispEdges" d="M1241.67 794.8H1275.9V802.43H1241.67zM1275.9 802.43H1327.24V815.28H1275.9zM1327.24 815.28H1361.47V828.13H1327.24zM1361.47 828.13H1412.82V840.99H1361.47z"/>
<path fill="rgb(224,224,224)" shape-rendering="crispEdges" d="M1275.9 794.8H1327.24V802.43H1275.9zM1327.24 802.43H1361.47V815.28H1327.24zM1361.47 815.28H1412.82V828.13H1361.47zM1412.82 828.13H1447.05V840.99H1412.82z"/>
<path fill="rgb(230,230,230)" shape-rendering="crispEdges" d="M1327.24 794.8H1378.59V802.43H1327.24zM1361.47 802.43H1412.82V815.28H1361.47zM1412.82 815.28H1464.17V828.13H1412.82zM1447.05 828.13H1498.4V840.99H1447.05z"/>
<path fill="rgb(235,235,235)" shape-rendering="crispEdges" d="M1378.59 794.8H1412.82V802.43H1378.59zM1412.82 802.43H1464.17V815.28H1412.82zM1464.17 815.28H1498.4V828.13H1464.17zM1498.4 828.13H1549.74V840.99H1498.4z"/>
<path fill="rgb(240,240,240)" shape-rendering="crispEdges" d="M1412.82 794.8H1464.17V802.43H1412.82zM1464.17 802.43H1515.51V815.28H1464.17zM1498.4 815.28H1549.74V828.13H1498.4zM1549.74 828.13H1559.5V840.99H1549.74z"/>
<path fill="rgb(245,245,245)" shape-rendering="crispEdges" d="M1464.17 794.8H1515.51V802.43H1464.17zM1515.51 802.43H1549.74V815.28H1515.51zM1549.74 815.28H1559.5V828.13H1549.74z"/>
<path fill="rgb(250,250,250)" shape-rendering="crispEdges" d="M1515.51 794.8H1559.5V802.43H1515.51zM1549.74 802.43H1559.5V815.28H1549.74z"/>
<clipPath id="clipd"><path d="M889.6 794.8H1559.5V802.43H889.6zM889.6 802.43H1559.5V815.28H889.6zM889.6 815.28H1559.5V828.13H889.6zM889.6 828.13H1559.5V840.99H889.6zM889.6 892.4H933.59V905.26H889.6zM967.82 892.4H1087.63V905.26H967.82zM1138.97 892.4H1275.9V905.26H1138.97zM1293.01 892.4H1361.47V905.26H1293.01zM1395.7 892.4H1498.4V905.26H1395.7zM1532.63 892.4H1559.5V905.26H1532.63zM889.6 905.26H1559.5V918.11H889.6zM889.6 918.11H1559.5V930.97H889.6zM889.6 930.97H1559.5V943.82H889.6zM889.6 943.82H1559.5V956.67H889.6zM889.6 956.67H1559.5V969.53H889.6zM889.6 969.53H1559.5V982.38H889.6zM889.6 982.38H1559.5V995.23H889.6zM889.6 995.23H1559.5V1008.09H889.6zM889.6 1008.09H1104.74V1020.94H889.6zM1121.86 1008.09H1361.47V1020.94H1121.86zM1378.59 1008.09H1559.5V1020.94H1378.59zM889.6 1020.94H899.36V1033.8H889.6zM916.47 1020.94H933.59V1033.8H916.47zM984.93 1020.94H1002.05V1033.8H984.93zM1036.28 1020.94H1053.4V1033.8H1036.28zM1070.51 1020.94H1087.63V1033.8H1070.51zM1138.97 1020.94H1173.2V1033.8H1138.97zM1190.32 1020.94H1207.43V1033.8H1190.32zM1241.67 1020.94H1275.9V1033.8H1241.67zM1310.13 1020.94H1344.36V1033.8H1310.13zM1395.7 1020.94H1447.05V1033.8H1395.7zM1464.17 1020.94H1498.4V1033.8H1464.17zM1549.74 1020.94H1559.5V1033.8H1549.74zM889.6 1033.8H1559.5V1046.65H889.6zM889.6 1046.65H1559.5V1059.5H889.6zM889.6 1059.5H1559.5V1072.36H889.6zM889.6 1072.36H1559.5V1085.21H889.6zM889.6 1085.21H1559.5V1098.07H889.6zM889.6 1098.07H1559.5V1110.92H889.6zM889.6 1110.92H1559.5V1123.77H889.6zM889.6 1123.77H1559.5V1136.63H889.6zM889.6 1136.63H1559.5V1149.48H889.6zM889.6 1149.48H1559.5V1162.33H889.6zM889.6 1162.33H1559.5V1175.19H889.6zM889.6 1175.19H1559.5V1188.04H889.6zM889.6 1188.04H1559.5V1200.9H889.6zM889.6 1200.9H1559.5V1213.75H889.6zM889.6 1213.75H1559.5V1226.6H889.6zM889.6 1226.6H1559.5V1239.46H889.6zM889.6 1239.46H1559.5V1252.31H889.6zM889.6 1252.31H1559.5V1265.17H889.6zM889.6 1265.17H1559.5V1278.02H889.6zM889.6 1278.02H1559.5V1290.87H889.6zM889.6 1290.87H1559.5V1298.5H889.6z"/></clipPath>
<g stroke="#fff" stroke-opacity="0.12" stroke-width="1.7">
<line x1="968" y1="892.4" x2="968" y2="1297.3"/>
<line x1="985.1" y1="892.4" x2="985.1" y2="1297.3"/>
<line x1="1002.2" y1="892.4" x2="1002.2" y2="1297.3"/>
<line x1="1156.3" y1="892.4" x2="1156.3" y2="1297.3"/>
<line x1="1173.4" y1="892.4" x2="1173.4" y2="1297.3"/>
<line x1="1327.6" y1="892.4" x2="1327.6" y2="1297.3"/>
<line x1="1344.7" y1="892.4" x2="1344.7" y2="1297.3"/>
<line x1="1361.8" y1="892.4" x2="1361.8" y2="1297.3"/>
<line x1="1515.9" y1="892.4" x2="1515.9" y2="1297.3"/>
<line x1="1533" y1="892.4" x2="1533" y2="1297.3"/>
<line x1="890.8" y1="918.1" x2="1558.3" y2="918.1"/>
<line x1="890.8" y1="956.7" x2="1558.3" y2="956.7"/>
<line x1="890.8" y1="995.2" x2="1558.3" y2="995.2"/>
<line x1="890.8" y1="1033.8" x2="1558.3" y2="1033.8"/>
<line x1="890.8" y1="1213.7" x2="1558.3" y2="1213.7"/>
<line x1="890.8" y1="1252.3" x2="1558.3" y2="1252.3"/>
<line x1="890.8" y1="1290.8" x2="1558.3" y2="1290.8"/>
</g>
<g clip-path="url(#clipd)" fill="none" stroke="rgb(61,180,25)" stroke-width="2.1" stroke-opacity="0.7" stroke-linecap="butt">
<path d="M1334.75 796L1420 822M1450 831.15L1461.19 834.56"/>
<path d="M1050.72 796L1094 809.2M1124 818.35L1177.15 834.56M1404.26 903.83L1513 936.99M1543 946.14L1558.3 950.81"/>
<path d="M890.8 833.85L893.12 834.56M1145.98 911.68L1454.4 1005.75M1484.4 1014.9L1489.84 1016.56"/>
<path d="M890.8 920.48L1113 988.25M1143 997.4L1199.1 1014.52M1250.22 1030.11L1558.3 1124.07"/>
<path d="M913.5 1014.04L925.03 1017.55M993.49 1038.44L1558.3 1210.7"/>
<path d="M890.8 1093.74L1500 1279.55M1530 1288.7L1558.2 1297.3"/>
<path d="M890.8 1180.37L1064 1233.2M1094 1242.35L1274.16 1297.3"/>
<path d="M890.8 1267L911.5 1273.32M941.5 1282.47L990.13 1297.3"/>
</g>
<text transform="translate(1435,826.58) rotate(16.96)" text-anchor="middle" font-size="10.5" style="fill:rgb(61,180,25);fill-opacity:0.8" dy="3.6">80</text>
<text transform="translate(1109,813.77) rotate(16.96)" text-anchor="middle" font-size="10.5" style="fill:rgb(61,180,25);fill-opacity:0.8" dy="3.6">60</text>
<text transform="translate(1528,941.57) rotate(16.96)" text-anchor="middle" font-size="10.5" style="fill:rgb(61,180,25);fill-opacity:0.8" dy="3.6">60</text>
<text transform="translate(1469.4,1010.33) rotate(16.96)" text-anchor="middle" font-size="10.5" style="fill:rgb(61,180,25);fill-opacity:0.8" dy="3.6">40</text>
<text transform="translate(1128,992.83) rotate(16.96)" text-anchor="middle" font-size="10.5" style="fill:rgb(61,180,25);fill-opacity:0.8" dy="3.6">20</text>
<text transform="translate(898.5,1009.46) rotate(16.96)" text-anchor="middle" font-size="10.5" style="fill:rgb(61,180,25);fill-opacity:0.8" dy="3.6">0</text>
<text transform="translate(1515,1284.12) rotate(16.96)" text-anchor="middle" font-size="10.5" style="fill:rgb(61,180,25);fill-opacity:0.8" dy="3.6">-20</text>
<text transform="translate(1079,1237.77) rotate(16.96)" text-anchor="middle" font-size="10.5" style="fill:rgb(61,180,25);fill-opacity:0.8" dy="3.6">-40</text>
<text transform="translate(926.5,1277.89) rotate(16.96)" text-anchor="middle" font-size="10.5" style="fill:rgb(61,180,25);fill-opacity:0.8" dy="3.6">-60</text>
<g fill="#1a1a1a" fill-opacity="0.85">
<circle cx="890.8" cy="796.3" r="1.25"/>
<circle cx="890.8" cy="945.7" r="1.25"/>
<circle cx="890.8" cy="970.9" r="1.25"/>
<circle cx="890.8" cy="1076.3" r="1.25"/>
<circle cx="890.8" cy="1107.7" r="1.25"/>
<circle cx="890.8" cy="1146.5" r="1.25"/>
<circle cx="890.8" cy="1193.5" r="1.25"/>
<circle cx="890.8" cy="1233.2" r="1.25"/>
<circle cx="920.1" cy="796.3" r="1.25"/>
<circle cx="920.1" cy="945.7" r="1.25"/>
<circle cx="920.1" cy="970.9" r="1.25"/>
<circle cx="920.1" cy="1076.3" r="1.25"/>
<circle cx="920.1" cy="1107.7" r="1.25"/>
<circle cx="920.1" cy="1146.5" r="1.25"/>
<circle cx="920.1" cy="1193.5" r="1.25"/>
<circle cx="920.1" cy="1233.2" r="1.25"/>
<circle cx="990.4" cy="796.3" r="1.25"/>
<circle cx="990.4" cy="945.7" r="1.25"/>
<circle cx="990.4" cy="970.9" r="1.25"/>
<circle cx="990.4" cy="1076.3" r="1.25"/>
<circle cx="990.4" cy="1107.7" r="1.25"/>
<circle cx="990.4" cy="1146.5" r="1.25"/>
<circle cx="990.4" cy="1193.5" r="1.25"/>
<circle cx="990.4" cy="1233.2" r="1.25"/>
<circle cx="997.3" cy="796.3" r="1.25"/>
<circle cx="997.3" cy="945.7" r="1.25"/>
<circle cx="997.3" cy="970.9" r="1.25"/>
<circle cx="997.3" cy="1076.3" r="1.25"/>
<circle cx="997.3" cy="1107.7" r="1.25"/>
<circle cx="997.3" cy="1146.5" r="1.25"/>
<circle cx="997.3" cy="1193.5" r="1.25"/>
<circle cx="997.3" cy="1233.2" r="1.25"/>
<circle cx="1048.8" cy="796.3" r="1.25"/>
<circle cx="1048.8" cy="945.7" r="1.25"/>
<circle cx="1048.8" cy="970.9" r="1.25"/>
<circle cx="1048.8" cy="1076.3" r="1.25"/>
<circle cx="1048.8" cy="1107.7" r="1.25"/>
<circle cx="1048.8" cy="1146.5" r="1.25"/>
<circle cx="1048.8" cy="1193.5" r="1.25"/>
<circle cx="1048.8" cy="1233.2" r="1.25"/>
<circle cx="1073" cy="796.3" r="1.25"/>
<circle cx="1073" cy="945.7" r="1.25"/>
<circle cx="1073" cy="970.9" r="1.25"/>
<circle cx="1073" cy="1076.3" r="1.25"/>
<circle cx="1073" cy="1107.7" r="1.25"/>
<circle cx="1073" cy="1146.5" r="1.25"/>
<circle cx="1073" cy="1193.5" r="1.25"/>
<circle cx="1073" cy="1233.2" r="1.25"/>
<circle cx="1157.4" cy="796.3" r="1.25"/>
<circle cx="1157.4" cy="945.7" r="1.25"/>
<circle cx="1157.4" cy="970.9" r="1.25"/>
<circle cx="1157.4" cy="1076.3" r="1.25"/>
<circle cx="1157.4" cy="1107.7" r="1.25"/>
<circle cx="1157.4" cy="1146.5" r="1.25"/>
<circle cx="1157.4" cy="1193.5" r="1.25"/>
<circle cx="1157.4" cy="1233.2" r="1.25"/>
<circle cx="1200.2" cy="796.3" r="1.25"/>
<circle cx="1200.2" cy="945.7" r="1.25"/>
<circle cx="1200.2" cy="970.9" r="1.25"/>
<circle cx="1200.2" cy="1076.3" r="1.25"/>
<circle cx="1200.2" cy="1107.7" r="1.25"/>
<circle cx="1200.2" cy="1146.5" r="1.25"/>
<circle cx="1200.2" cy="1193.5" r="1.25"/>
<circle cx="1200.2" cy="1233.2" r="1.25"/>
<circle cx="1254.9" cy="796.3" r="1.25"/>
<circle cx="1254.9" cy="945.7" r="1.25"/>
<circle cx="1254.9" cy="970.9" r="1.25"/>
<circle cx="1254.9" cy="1076.3" r="1.25"/>
<circle cx="1254.9" cy="1107.7" r="1.25"/>
<circle cx="1254.9" cy="1146.5" r="1.25"/>
<circle cx="1254.9" cy="1193.5" r="1.25"/>
<circle cx="1254.9" cy="1233.2" r="1.25"/>
<circle cx="1257.1" cy="796.3" r="1.25"/>
<circle cx="1257.1" cy="945.7" r="1.25"/>
<circle cx="1257.1" cy="970.9" r="1.25"/>
<circle cx="1257.1" cy="1076.3" r="1.25"/>
<circle cx="1257.1" cy="1107.7" r="1.25"/>
<circle cx="1257.1" cy="1146.5" r="1.25"/>
<circle cx="1257.1" cy="1193.5" r="1.25"/>
<circle cx="1257.1" cy="1233.2" r="1.25"/>
<circle cx="1318.8" cy="796.3" r="1.25"/>
<circle cx="1318.8" cy="945.7" r="1.25"/>
<circle cx="1318.8" cy="970.9" r="1.25"/>
<circle cx="1318.8" cy="1076.3" r="1.25"/>
<circle cx="1318.8" cy="1107.7" r="1.25"/>
<circle cx="1318.8" cy="1146.5" r="1.25"/>
<circle cx="1318.8" cy="1193.5" r="1.25"/>
<circle cx="1318.8" cy="1233.2" r="1.25"/>
<circle cx="1332.2" cy="796.3" r="1.25"/>
<circle cx="1332.2" cy="945.7" r="1.25"/>
<circle cx="1332.2" cy="970.9" r="1.25"/>
<circle cx="1332.2" cy="1076.3" r="1.25"/>
<circle cx="1332.2" cy="1107.7" r="1.25"/>
<circle cx="1332.2" cy="1146.5" r="1.25"/>
<circle cx="1332.2" cy="1193.5" r="1.25"/>
<circle cx="1332.2" cy="1233.2" r="1.25"/>
<circle cx="1412.4" cy="796.3" r="1.25"/>
<circle cx="1412.4" cy="945.7" r="1.25"/>
<circle cx="1412.4" cy="970.9" r="1.25"/>
<circle cx="1412.4" cy="1076.3" r="1.25"/>
<circle cx="1412.4" cy="1107.7" r="1.25"/>
<circle cx="1412.4" cy="1146.5" r="1.25"/>
<circle cx="1412.4" cy="1193.5" r="1.25"/>
<circle cx="1412.4" cy="1233.2" r="1.25"/>
<circle cx="1433.7" cy="796.3" r="1.25"/>
<circle cx="1433.7" cy="945.7" r="1.25"/>
<circle cx="1433.7" cy="970.9" r="1.25"/>
<circle cx="1433.7" cy="1076.3" r="1.25"/>
<circle cx="1433.7" cy="1107.7" r="1.25"/>
<circle cx="1433.7" cy="1146.5" r="1.25"/>
<circle cx="1433.7" cy="1193.5" r="1.25"/>
<circle cx="1433.7" cy="1233.2" r="1.25"/>
<circle cx="1482.8" cy="796.3" r="1.25"/>
<circle cx="1482.8" cy="945.7" r="1.25"/>
<circle cx="1482.8" cy="970.9" r="1.25"/>
<circle cx="1482.8" cy="1076.3" r="1.25"/>
<circle cx="1482.8" cy="1107.7" r="1.25"/>
<circle cx="1482.8" cy="1146.5" r="1.25"/>
<circle cx="1482.8" cy="1193.5" r="1.25"/>
<circle cx="1482.8" cy="1233.2" r="1.25"/>
<circle cx="1558" cy="796.3" r="1.25"/>
<circle cx="1558" cy="945.7" r="1.25"/>
<circle cx="1558" cy="970.9" r="1.25"/>
<circle cx="1558" cy="1076.3" r="1.25"/>
<circle cx="1558" cy="1107.7" r="1.25"/>
<circle cx="1558" cy="1146.5" r="1.25"/>
<circle cx="1558" cy="1193.5" r="1.25"/>
<circle cx="1558" cy="1233.2" r="1.25"/>
</g>
<line x1="882.6" y1="1219.07" x2="890.8" y2="1219.07" stroke="#3c3c3c" stroke-width="1.5"/>
<text transform="translate(872,1219.07) rotate(-90)" text-anchor="middle" class="tk" font-size="28.6">5.5</text>
<line x1="882.6" y1="1121.45" x2="890.8" y2="1121.45" stroke="#3c3c3c" stroke-width="1.5"/>
<text transform="translate(872,1121.45) rotate(-90)" text-anchor="middle" class="tk" font-size="28.6">6.0</text>
<line x1="882.6" y1="1023.82" x2="890.8" y2="1023.82" stroke="#3c3c3c" stroke-width="1.5"/>
<text transform="translate(872,1023.82) rotate(-90)" text-anchor="middle" class="tk" font-size="28.6">6.5</text>
<line x1="882.6" y1="926.2" x2="890.8" y2="926.2" stroke="#3c3c3c" stroke-width="1.5"/>
<text transform="translate(872,926.2) rotate(-90)" text-anchor="middle" class="tk" font-size="28.6">7.0</text>
<line x1="882.6" y1="828.57" x2="890.8" y2="828.57" stroke="#3c3c3c" stroke-width="1.5"/>
<text transform="translate(872,828.57) rotate(-90)" text-anchor="middle" class="tk" font-size="28.6">7.5</text>
<line x1="893.42" y1="1297.3" x2="893.42" y2="1309.3" stroke="#3c3c3c" stroke-width="1.5"/>
<text x="893.42" y="1332.4" text-anchor="middle" class="tk" font-size="28.6">70</text>
<line x1="1031.04" y1="1297.3" x2="1031.04" y2="1309.3" stroke="#3c3c3c" stroke-width="1.5"/>
<text x="1031.04" y="1332.4" text-anchor="middle" class="tk" font-size="28.6">72</text>
<line x1="1168.66" y1="1297.3" x2="1168.66" y2="1309.3" stroke="#3c3c3c" stroke-width="1.5"/>
<text x="1168.66" y="1332.4" text-anchor="middle" class="tk" font-size="28.6">74</text>
<line x1="1306.28" y1="1297.3" x2="1306.28" y2="1309.3" stroke="#3c3c3c" stroke-width="1.5"/>
<text x="1306.28" y="1332.4" text-anchor="middle" class="tk" font-size="28.6">76</text>
<line x1="1443.9" y1="1297.3" x2="1443.9" y2="1309.3" stroke="#3c3c3c" stroke-width="1.5"/>
<text x="1443.9" y="1332.4" text-anchor="middle" class="tk" font-size="28.6">78</text>
<text x="1006.5" y="64.2" font-size="40.8">f</text>
<text x="1015.7" y="78" font-size="25.3">2</text>
<text x="1029.8" y="64.2" font-size="40.8">(</text>
<text x="1050.7" y="64.2" font-size="40.8">Volume</text>
<text x="1186.2" y="78" font-size="25.3">biomass</text>
<text x="1278.9" y="64.2" font-size="40.8">,</text>
<text x="1291.7" y="64.2" font-size="40.8">NDVI</text>
<text x="1385.9" y="78" font-size="25.3">diff</text>
<text x="1428.5" y="64.2" font-size="40.8">)</text>
<text x="1107.3" y="769.2" font-size="40.8">f</text>
<text x="1116.8" y="779.7" font-size="25.3">4</text>
<text x="1131.4" y="769.2" font-size="40.8">(</text>
<text x="1155.3" y="769.2" font-size="40.8">Canopy,</text>
<text x="1314.6" y="769.2" font-size="40.8">T</text>
<text x="1332.8" y="774.3" font-size="25.3">min</text>
<text x="1373.3" y="769.2" font-size="40.8">)</text>
<text x="1113.2" y="679.8" font-size="40.8">Volume</text>
<text x="1248.9" y="685.6" font-size="25.3">biomass</text>
<text x="1189" y="1375" font-size="40.8">Canopy</text>
<g transform="translate(829.2,373) rotate(-90)">
<text x="0" y="0" font-size="40.8">NDVI</text>
<text x="92.6" y="14" font-size="25.3">diff</text>
</g>
<g transform="translate(830.7,1061.5) rotate(-90)">
<text x="0" y="0" font-size="40.8">T</text>
<text x="16.7" y="6" font-size="25.3">min</text>
</g>
</svg></body></html>
